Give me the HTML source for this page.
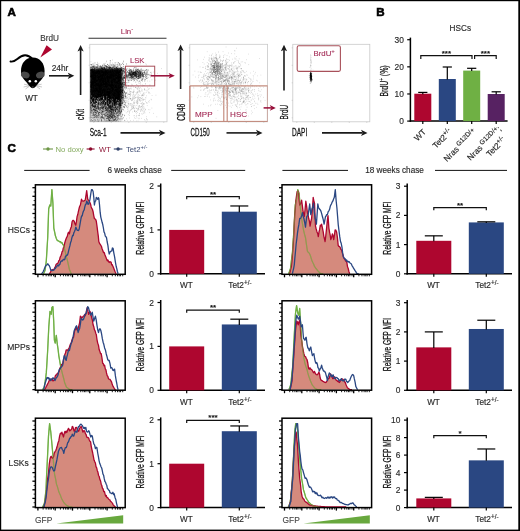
<!DOCTYPE html>
<html lang="en"><head><meta charset="utf-8"><title>Figure</title>
<style>
html,body{margin:0;padding:0;background:#fff;}
body{width:520px;height:531px;overflow:hidden;font-family:"Liberation Sans",Arial,Helvetica,sans-serif;}
svg{display:block;}
text{font-family:"Liberation Sans",Arial,Helvetica,sans-serif;}
</style></head><body>
<svg width="520" height="531" viewBox="0 0 520 531" font-family="Liberation Sans, Arial, Helvetica, sans-serif">
<rect x="0" y="0" width="520" height="531" fill="#fff"/>
<text transform="translate(7.60,16.20)" font-size="11.6" text-anchor="start" fill="#000" font-weight="bold" stroke="#000" stroke-width="0.6" >A</text>
<g>
<path d="M10.5,61.5 C16,63 18,55.5 25,55.3 C29,55.2 31,57.5 33,59.5" fill="none" stroke="#000" stroke-width="1.9" stroke-linecap="round"/>
<path d="M32.8,57.6 C40,57.6 44.6,63.5 44.6,71 C44.6,77 41,80 38.5,83 C36.5,85.5 35,88.3 32.8,88.3 C30.6,88.3 29.1,85.5 27.1,83 C24.6,80 21,77 21,71 C21,63.5 25.6,57.6 32.8,57.6 Z" fill="#000"/>
<ellipse cx="25.3" cy="75" rx="4.4" ry="3.3" fill="#4a4a4a" transform="rotate(20 25.3 75)"/>
<ellipse cx="40.3" cy="75" rx="4.4" ry="3.3" fill="#4a4a4a" transform="rotate(-20 40.3 75)"/>
<circle cx="29.8" cy="81.3" r="1.25" fill="#fff"/>
<circle cx="35.8" cy="81.3" r="1.25" fill="#fff"/>
<path d="M29,85.2 L24,84.2 M29,85.8 L23.6,87 M29.2,86.4 L25.5,89 M36.6,85.2 L41.6,84.2 M36.6,85.8 L42,87 M36.4,86.4 L40.1,89" stroke="#777" stroke-width="0.4" fill="none"/>
<ellipse cx="32.8" cy="87" rx="1.1" ry="0.7" fill="#444"/>
</g>
<text transform="translate(49.60,41.00)" font-size="8.2" text-anchor="middle" fill="#3a3a3a" stroke="#3a3a3a" stroke-width="0.15" >BrdU</text>
<path d="M46.6,45.2 L52,49.5 L40.3,57.6 Z" fill="#ae062f"/>
<text transform="translate(60.00,71.40)" font-size="8.4" text-anchor="middle" fill="#2b2b2b" stroke="#2b2b2b" stroke-width="0.15" >24hr</text>
<line x1="49.00" y1="75.80" x2="69.30" y2="75.80" stroke="#1a1a1a" stroke-width="1.6" />
<path d="M74.30,75.80 L67.80,72.70 L69.40,75.80 L67.80,78.90 Z" fill="#1a1a1a"/>
<text transform="translate(31.50,101.40)" font-size="8.2" text-anchor="middle" fill="#2b2b2b" stroke="#2b2b2b" stroke-width="0.15" >WT</text>
<text transform="translate(127.00,34.00)" font-size="7.8" text-anchor="middle" fill="#a32a55" stroke="#a32a55" stroke-width="0.1" >Lin<tspan font-size="6" dy="-3">-</tspan></text>
<line x1="88.50" y1="38.20" x2="166.50" y2="38.20" stroke="#333" stroke-width="1.1" />
<rect x="89.80" y="44.30" width="77.20" height="77.50" fill="#fff" stroke="#c9c9c9" stroke-width="0.8" />
<rect x="189.80" y="44.30" width="77.80" height="77.50" fill="#fff" stroke="#c9c9c9" stroke-width="0.8" />
<rect x="292.80" y="44.30" width="77.00" height="77.50" fill="#fff" stroke="#c9c9c9" stroke-width="0.8" />
<defs><filter id="bl" x="-20%" y="-20%" width="140%" height="140%"><feGaussianBlur stdDeviation="1.3"/></filter><linearGradient id="g1" x1="0" y1="0" x2="0" y2="1"><stop offset="0" stop-color="#000" stop-opacity="0.95"/><stop offset="0.58" stop-color="#000" stop-opacity="0.93"/><stop offset="0.8" stop-color="#000" stop-opacity="0.6"/><stop offset="1" stop-color="#000" stop-opacity="0.42"/></linearGradient><clipPath id="c1"><rect x="90.2" y="45.2" width="76.4" height="76.2"/></clipPath></defs>
<g clip-path="url(#c1)">
<path d="M88,68.8 L122.3,68.6 L122.6,97 L119.5,123 L88,123 Z" fill="url(#g1)" filter="url(#bl)"/>
<path d="M115.1,75.7h0.62M99.2,87.1h0.62M102.2,93.8h0.62M121.9,103.2h0.62M108.9,107.1h0.62M101.4,94.4h0.62M100.4,97.0h0.62M110.3,70.2h0.62M115.0,75.0h0.62M96.7,81.1h0.62M114.6,74.2h0.62M91.7,70.2h0.62M110.7,112.2h0.62M108.8,91.8h0.62M115.3,85.6h0.62M110.7,68.0h0.62M110.0,97.3h0.62M100.1,100.9h0.62M90.8,87.1h0.62M117.8,107.0h0.62M98.3,101.4h0.62M105.0,106.1h0.62M90.4,86.3h0.62M96.4,92.4h0.62M100.9,88.3h0.62M110.5,102.7h0.62M115.7,101.4h0.62M119.7,71.7h0.62M93.9,74.3h0.62M111.8,65.8h0.62M110.5,115.6h0.62M104.6,78.9h0.62M92.7,80.6h0.62M105.7,107.8h0.62M96.3,70.2h0.62M105.4,72.4h0.62M115.6,74.8h0.62M117.2,107.2h0.62M96.3,89.3h0.62M107.8,108.6h0.62M106.3,105.9h0.62M94.1,68.4h0.62M98.8,117.3h0.62M102.2,104.8h0.62M116.6,82.5h0.62M95.5,98.5h0.62M112.9,114.5h0.62M97.9,111.4h0.62M97.5,83.4h0.62M115.8,97.2h0.62M112.9,95.4h0.62M106.6,98.9h0.62M99.8,66.9h0.62M91.8,89.0h0.62M91.3,77.7h0.62M105.1,86.4h0.62M116.4,99.1h0.62M111.1,108.6h0.62M113.7,79.4h0.62M117.4,69.3h0.62M104.4,68.8h0.62M110.9,119.6h0.62M96.3,69.6h0.62M90.5,110.3h0.62M120.2,75.3h0.62M95.7,81.8h0.62M90.9,81.1h0.62M115.2,99.2h0.62M121.8,118.4h0.62M110.7,104.3h0.62M119.1,80.3h0.62M99.3,97.7h0.62M98.2,105.9h0.62M104.7,73.2h0.62M104.0,73.9h0.62M113.1,92.6h0.62M103.8,89.1h0.62M107.9,76.7h0.62M110.8,90.1h0.62M111.0,92.2h0.62M113.4,75.5h0.62M107.2,95.8h0.62M106.6,91.9h0.62M93.0,99.4h0.62M107.4,104.0h0.62M110.9,68.5h0.62M100.3,71.2h0.62M117.2,98.1h0.62M115.3,76.7h0.62M103.5,83.6h0.62M106.1,116.0h0.62M92.3,79.5h0.62M98.8,111.9h0.62M94.8,101.8h0.62M114.3,79.0h0.62M113.9,95.2h0.62M102.5,84.4h0.62M108.8,98.2h0.62M115.5,68.7h0.62M97.6,85.4h0.62M106.6,81.7h0.62M94.8,86.4h0.62M122.1,83.3h0.62M111.1,83.8h0.62M92.2,78.5h0.62M100.3,91.5h0.62M91.8,83.3h0.62M113.7,78.0h0.62M96.9,73.8h0.62M117.2,88.7h0.62M91.1,97.0h0.62M102.6,112.8h0.62M111.7,104.7h0.62M122.5,94.8h0.62M116.4,77.7h0.62M114.5,95.8h0.62M97.9,77.4h0.62M113.1,113.3h0.62M91.9,73.9h0.62M92.3,106.9h0.62M103.7,72.4h0.62M102.9,79.7h0.62M122.0,115.1h0.62M102.8,83.0h0.62M121.9,74.0h0.62M95.4,75.5h0.62M98.1,115.6h0.62M115.7,67.5h0.62M114.5,87.4h0.62M94.1,86.0h0.62M116.5,120.6h0.62M103.3,99.6h0.62M119.0,88.9h0.62M91.4,84.4h0.62M98.8,84.3h0.62M112.7,109.1h0.62M105.4,68.7h0.62M100.3,75.3h0.62M116.4,70.6h0.62M105.4,113.2h0.62M123.3,96.7h0.62M105.3,84.2h0.62M105.1,78.4h0.62M111.7,84.1h0.62M98.8,115.0h0.62M100.1,95.5h0.62M108.5,94.5h0.62M93.5,79.1h0.62M102.2,90.4h0.62M120.6,76.2h0.62M95.6,97.6h0.62M93.5,69.5h0.62M102.5,102.7h0.62M97.7,89.9h0.62M107.6,93.1h0.62M105.2,84.4h0.62M119.2,83.8h0.62M123.1,83.2h0.62M117.1,64.9h0.62M105.0,74.0h0.62M92.8,86.0h0.62M110.9,87.1h0.62M120.4,70.8h0.62M100.9,74.6h0.62M111.6,99.8h0.62M120.0,92.3h0.62M118.9,91.7h0.62M123.8,69.7h0.62M121.2,69.5h0.62M106.0,86.7h0.62M115.8,116.5h0.62M120.5,74.6h0.62M118.9,105.8h0.62M108.0,93.4h0.62M91.6,80.3h0.62M123.8,71.7h0.62M111.8,114.2h0.62M105.7,91.7h0.62M112.1,91.0h0.62M118.9,97.5h0.62M105.4,90.3h0.62M105.7,105.2h0.62M95.8,115.7h0.62M120.5,90.0h0.62M96.2,119.0h0.62M93.9,117.8h0.62M94.9,76.9h0.62M113.1,105.0h0.62M108.0,99.3h0.62M120.1,67.1h0.62M97.9,105.8h0.62M98.9,71.4h0.62M120.8,97.0h0.62M93.0,85.6h0.62M109.1,97.7h0.62M91.6,67.2h0.62M102.7,78.0h0.62M118.9,99.3h0.62M108.4,74.4h0.62M92.6,71.0h0.62M105.9,94.2h0.62M99.3,94.4h0.62M91.6,107.2h0.62M110.3,101.9h0.62M95.2,95.9h0.62M97.3,109.9h0.62M109.5,83.4h0.62M116.9,90.3h0.62M100.9,97.2h0.62M111.2,69.4h0.62M101.5,72.3h0.62M110.8,71.2h0.62M115.3,109.2h0.62M111.6,120.9h0.62M95.7,80.2h0.62M99.5,86.6h0.62M110.0,99.0h0.62M91.9,110.0h0.62M102.8,116.4h0.62M114.1,99.6h0.62M92.9,112.0h0.62M99.7,84.7h0.62M108.8,96.2h0.62M125.3,93.7h0.62M120.5,87.1h0.62M117.4,103.5h0.62M102.3,81.4h0.62M103.4,84.0h0.62M96.5,83.6h0.62M110.7,85.8h0.62M93.9,70.7h0.62M113.1,64.8h0.62M101.5,90.5h0.62M118.2,98.1h0.62M115.9,118.1h0.62M107.5,73.9h0.62M106.8,116.6h0.62M117.8,114.8h0.62M103.6,96.8h0.62M116.9,76.1h0.62M112.2,109.8h0.62M120.8,100.4h0.62M92.9,87.0h0.62M119.2,91.5h0.62M111.1,72.8h0.62M112.5,92.3h0.62M108.3,94.8h0.62M115.4,97.8h0.62M112.2,111.1h0.62M93.2,110.9h0.62M113.9,109.7h0.62M112.3,91.0h0.62M117.2,90.1h0.62M115.8,68.2h0.62M106.4,102.0h0.62M105.4,89.9h0.62M108.8,118.6h0.62M110.3,100.7h0.62M103.7,84.3h0.62M105.4,89.1h0.62M91.7,90.8h0.62M113.3,108.4h0.62M116.7,108.2h0.62M117.2,83.6h0.62M107.0,75.6h0.62M97.6,99.9h0.62M101.9,79.4h0.62M107.4,79.3h0.62M104.3,67.5h0.62M108.1,87.9h0.62M93.2,120.6h0.62M102.7,105.7h0.62M109.9,66.8h0.62M98.2,95.8h0.62M107.0,81.2h0.62M109.1,71.9h0.62M120.8,78.4h0.62M108.5,67.1h0.62M105.1,85.0h0.62M102.9,104.9h0.62M118.3,103.2h0.62M108.0,78.0h0.62M92.8,74.1h0.62M117.4,96.9h0.62M115.8,93.6h0.62M105.3,84.9h0.62M115.6,91.4h0.62M109.2,73.8h0.62M111.1,79.2h0.62M115.4,89.5h0.62M98.4,79.9h0.62M101.8,68.7h0.62M102.4,116.2h0.62M93.0,67.7h0.62M107.1,89.8h0.62M120.9,81.2h0.62M118.5,81.1h0.62M98.1,72.3h0.62M95.7,93.0h0.62M120.8,74.5h0.62M116.4,98.7h0.62M107.7,95.3h0.62M109.7,77.9h0.62M95.9,97.0h0.62M107.8,104.2h0.62M115.7,104.1h0.62M95.7,84.4h0.62M97.2,80.4h0.62M101.5,67.8h0.62M97.6,86.0h0.62M96.9,93.7h0.62M108.5,81.7h0.62M96.8,97.5h0.62M101.0,68.3h0.62M121.8,68.5h0.62M97.6,96.0h0.62M114.8,101.3h0.62M106.4,120.0h0.62M106.9,102.9h0.62M122.7,97.5h0.62M96.7,97.1h0.62M125.8,82.7h0.62M116.8,98.4h0.62M116.6,78.5h0.62M114.1,70.3h0.62M98.8,87.7h0.62M94.8,84.4h0.62M114.6,108.4h0.62M116.7,82.6h0.62M117.2,118.0h0.62M112.9,79.4h0.62M114.4,102.8h0.62M103.6,118.1h0.62M91.0,83.0h0.62M119.0,101.7h0.62M107.0,95.1h0.62M120.3,77.0h0.62M93.4,78.8h0.62M95.5,107.0h0.62M102.4,92.0h0.62M106.3,105.0h0.62M90.4,91.3h0.62M100.0,108.3h0.62M98.7,88.4h0.62M100.9,104.0h0.62M101.0,83.4h0.62M95.4,97.2h0.62M95.0,97.7h0.62M110.8,75.0h0.62M91.7,99.0h0.62M112.1,82.7h0.62M123.9,82.4h0.62M101.2,103.8h0.62M114.4,111.5h0.62M115.3,107.7h0.62M108.4,81.4h0.62M101.9,90.1h0.62M120.4,71.3h0.62M115.5,72.7h0.62M119.7,103.8h0.62M105.3,115.7h0.62M119.1,68.6h0.62M118.0,76.9h0.62M91.4,102.1h0.62M118.6,83.6h0.62M101.4,105.6h0.62M108.9,89.2h0.62M124.4,78.0h0.62M108.1,82.3h0.62M93.4,83.3h0.62M99.0,112.5h0.62M101.1,80.3h0.62M97.2,94.4h0.62M92.8,110.5h0.62M98.8,82.7h0.62M119.6,82.7h0.62M110.4,93.4h0.62M95.3,78.4h0.62M109.1,77.2h0.62M92.9,82.2h0.62M113.9,90.6h0.62M90.5,73.4h0.62M111.0,85.8h0.62M104.9,103.4h0.62M100.8,69.1h0.62M108.9,77.6h0.62M103.0,94.6h0.62M92.0,76.1h0.62M105.9,83.3h0.62M96.4,113.0h0.62M112.8,77.1h0.62M113.3,94.7h0.62M116.0,67.4h0.62M103.1,74.0h0.62M122.2,87.4h0.62M112.2,84.4h0.62M113.4,86.1h0.62M109.8,73.9h0.62M114.9,71.9h0.62M122.7,99.7h0.62M95.7,77.3h0.62M111.9,97.9h0.62M119.4,70.6h0.62M106.3,113.7h0.62M101.0,82.7h0.62M105.1,101.7h0.62M111.8,106.0h0.62M117.6,88.7h0.62M112.5,93.0h0.62M122.8,93.2h0.62M100.2,81.6h0.62M97.2,69.4h0.62M108.9,94.1h0.62M93.1,88.6h0.62M97.1,72.0h0.62M109.6,100.9h0.62M111.1,74.8h0.62M107.7,72.9h0.62M104.3,84.1h0.62M120.1,71.2h0.62M94.9,97.3h0.62M122.4,78.1h0.62M96.7,94.0h0.62M110.5,85.0h0.62M95.8,81.3h0.62M92.4,109.0h0.62M108.8,92.2h0.62M113.6,91.5h0.62M101.5,101.6h0.62M91.6,75.8h0.62M120.3,72.8h0.62M120.3,89.5h0.62M106.4,82.9h0.62M102.6,73.9h0.62M119.5,113.5h0.62M95.8,72.9h0.62M107.7,77.8h0.62M114.2,103.6h0.62M118.6,110.6h0.62M95.5,98.2h0.62M95.4,72.6h0.62M94.0,96.0h0.62M91.6,105.6h0.62M114.6,79.8h0.62M112.9,74.1h0.62M112.7,87.2h0.62M119.6,102.7h0.62M117.2,110.4h0.62M96.5,76.0h0.62M106.6,84.7h0.62M121.4,68.7h0.62M100.9,95.6h0.62M108.3,71.7h0.62M105.1,115.6h0.62M106.4,117.0h0.62M105.2,79.8h0.62M109.0,91.8h0.62M108.1,94.1h0.62M105.6,101.5h0.62M107.5,78.1h0.62M95.9,76.4h0.62M92.7,85.3h0.62M117.0,82.4h0.62M99.4,98.8h0.62M101.3,93.7h0.62M102.4,77.3h0.62M105.2,98.6h0.62M103.1,98.0h0.62M115.6,88.2h0.62M97.7,107.3h0.62M118.0,93.5h0.62M120.3,80.5h0.62M102.1,108.1h0.62M115.6,115.8h0.62M113.2,66.1h0.62M104.1,97.8h0.62M114.5,84.4h0.62M96.4,117.9h0.62M93.5,82.7h0.62M98.3,96.3h0.62M98.3,113.8h0.62M128.0,85.7h0.62M111.0,81.3h0.62M103.6,101.5h0.62M103.3,75.9h0.62M90.5,92.1h0.62M91.7,83.9h0.62M112.1,110.2h0.62M93.3,78.0h0.62M98.3,74.5h0.62M103.5,107.6h0.62M93.1,106.4h0.62M91.5,103.1h0.62M90.7,72.6h0.62M100.0,90.1h0.62M94.0,75.5h0.62M91.4,87.1h0.62M99.0,72.6h0.62M95.3,99.6h0.62M115.4,111.5h0.62M94.3,75.4h0.62M96.5,106.2h0.62M103.6,67.9h0.62M103.5,99.2h0.62M93.7,65.8h0.62M121.9,88.5h0.62M117.2,89.7h0.62M114.8,110.4h0.62M94.3,105.3h0.62M100.6,108.5h0.62M113.5,100.0h0.62M122.7,102.6h0.62M115.7,95.0h0.62M110.9,98.2h0.62M95.4,88.3h0.62M117.8,79.4h0.62M122.5,92.4h0.62M108.3,103.2h0.62M97.3,65.8h0.62M91.7,76.9h0.62M124.1,101.3h0.62M100.0,93.0h0.62M102.7,69.4h0.62M90.6,74.8h0.62M107.9,92.9h0.62M118.6,96.5h0.62M110.3,107.0h0.62M102.9,95.9h0.62M101.4,102.7h0.62M94.1,98.0h0.62M110.6,112.5h0.62M110.3,75.1h0.62M95.3,98.3h0.62M96.3,86.9h0.62M119.3,104.5h0.62M113.2,80.3h0.62M98.6,68.3h0.62M122.8,82.5h0.62M98.0,83.3h0.62M109.0,110.5h0.62M111.7,80.8h0.62M92.6,66.3h0.62M107.3,101.8h0.62M116.5,75.2h0.62M92.6,91.0h0.62M100.3,74.7h0.62M91.0,98.7h0.62M105.4,77.1h0.62M110.3,98.3h0.62M116.4,104.7h0.62M97.2,77.7h0.62M109.9,118.0h0.62M101.7,66.8h0.62M103.6,82.7h0.62M111.8,104.0h0.62M104.2,65.9h0.62M93.1,109.3h0.62M100.6,85.0h0.62M115.0,91.4h0.62M115.0,97.8h0.62M98.3,121.0h0.62M110.9,100.2h0.62M101.8,95.6h0.62M95.3,103.4h0.62M95.4,86.7h0.62M95.9,73.2h0.62M90.8,92.4h0.62M100.8,79.2h0.62M95.6,67.7h0.62M97.8,85.8h0.62M113.5,97.1h0.62M107.1,91.7h0.62M107.3,83.6h0.62M98.5,94.1h0.62M116.7,90.9h0.62M106.1,102.3h0.62M100.1,99.9h0.62M118.8,74.8h0.62M102.6,104.7h0.62M125.8,87.9h0.62M105.9,99.3h0.62M110.4,101.2h0.62M117.0,71.5h0.62M95.7,110.8h0.62M91.5,83.2h0.62M90.9,77.0h0.62M98.8,80.8h0.62M109.0,66.8h0.62M102.9,82.4h0.62M112.6,75.5h0.62M95.8,95.9h0.62M111.8,75.5h0.62M115.3,101.4h0.62M107.3,101.7h0.62M105.8,87.8h0.62M110.6,86.2h0.62M94.8,75.4h0.62M112.7,89.8h0.62M120.7,92.4h0.62M100.5,94.2h0.62M118.9,85.7h0.62M107.1,79.9h0.62M106.8,92.7h0.62M115.7,87.0h0.62M110.8,81.7h0.62M125.0,105.1h0.62M108.9,98.9h0.62M108.8,103.9h0.62M101.6,109.9h0.62M102.9,82.9h0.62M117.9,71.5h0.62M106.6,80.1h0.62M93.2,99.6h0.62M110.0,111.9h0.62M92.3,113.5h0.62M97.7,83.1h0.62M104.9,90.1h0.62M102.4,98.2h0.62M114.2,108.8h0.62M103.4,86.7h0.62M105.1,84.3h0.62M95.0,88.5h0.62M116.2,72.3h0.62M102.0,92.9h0.62M101.8,79.1h0.62M93.6,75.7h0.62M120.1,99.8h0.62M108.1,105.0h0.62M96.2,83.7h0.62M110.7,92.6h0.62M102.1,81.6h0.62M112.1,91.0h0.62M113.8,85.3h0.62M108.6,96.3h0.62M113.4,108.6h0.62M92.6,101.5h0.62M118.7,94.7h0.62M98.1,84.2h0.62M100.9,104.0h0.62M103.2,85.8h0.62M90.8,67.7h0.62M104.7,98.0h0.62M122.8,80.3h0.62M112.1,80.2h0.62M110.6,68.9h0.62M120.5,87.3h0.62M116.3,73.0h0.62M108.7,78.2h0.62M114.0,92.0h0.62M107.8,68.7h0.62M105.6,70.9h0.62M113.6,90.8h0.62M106.5,78.5h0.62M114.7,70.7h0.62M109.0,93.0h0.62M109.6,100.2h0.62M101.5,89.7h0.62M95.4,84.9h0.62M102.1,68.7h0.62M114.5,100.5h0.62M110.5,85.8h0.62M93.8,67.7h0.62M121.5,75.8h0.62M92.9,86.9h0.62M95.4,82.4h0.62M109.4,105.9h0.62M95.3,85.7h0.62M110.1,88.8h0.62M96.7,89.8h0.62M109.3,116.9h0.62M109.8,121.1h0.62M93.7,82.2h0.62M110.6,70.9h0.62M100.7,77.4h0.62M112.4,103.4h0.62M103.0,98.0h0.62M93.7,79.2h0.62M98.5,85.6h0.62M93.6,105.0h0.62M118.6,75.4h0.62M101.9,74.7h0.62M100.5,84.7h0.62M105.7,110.8h0.62M92.7,100.7h0.62M118.2,80.9h0.62M118.7,85.2h0.62M124.6,77.0h0.62M104.5,108.8h0.62M94.2,109.5h0.62M119.2,80.0h0.62M105.6,91.3h0.62M112.5,68.5h0.62M111.0,109.6h0.62M101.6,117.4h0.62M103.3,75.4h0.62M95.3,80.3h0.62M97.7,90.7h0.62M90.7,72.7h0.62M117.0,68.5h0.62M119.4,82.5h0.62M92.0,72.3h0.62M110.1,107.9h0.62M110.3,89.1h0.62M114.8,111.4h0.62M92.1,69.6h0.62M99.7,90.1h0.62M95.2,78.8h0.62M111.5,108.1h0.62M92.3,99.0h0.62M106.6,86.7h0.62M118.8,74.8h0.62M104.1,72.7h0.62M93.3,110.0h0.62M121.1,87.5h0.62M97.3,73.5h0.62M108.6,79.0h0.62M111.0,105.7h0.62M114.7,101.0h0.62M117.6,73.1h0.62M108.8,88.3h0.62M106.7,76.9h0.62M104.8,97.3h0.62M109.9,108.2h0.62M101.5,87.9h0.62M99.9,94.4h0.62M104.0,76.5h0.62M114.9,101.8h0.62M104.6,100.8h0.62M112.3,108.0h0.62M107.9,101.8h0.62M116.1,110.5h0.62M95.8,90.8h0.62M116.7,80.9h0.62M121.9,70.5h0.62M115.5,90.3h0.62M103.3,82.2h0.62M118.4,118.4h0.62M100.8,80.3h0.62M110.5,71.4h0.62M117.4,92.8h0.62M98.3,73.6h0.62M92.7,98.5h0.62M122.4,82.5h0.62M116.7,102.1h0.62M93.6,94.6h0.62M113.2,82.0h0.62M114.8,82.7h0.62M108.0,97.1h0.62M99.2,107.9h0.62M108.7,111.8h0.62M119.9,92.6h0.62M104.8,75.8h0.62M93.8,104.9h0.62M111.8,70.1h0.62M92.6,85.9h0.62M120.9,84.3h0.62M105.4,110.7h0.62M103.1,105.1h0.62M109.7,71.1h0.62M111.4,69.5h0.62M115.6,106.7h0.62M105.5,85.4h0.62M117.2,76.6h0.62M104.0,93.9h0.62M114.4,87.7h0.62M108.5,88.6h0.62M112.6,98.1h0.62M110.1,114.5h0.62M99.0,89.8h0.62M105.6,83.2h0.62M94.5,78.1h0.62M95.3,79.1h0.62M95.2,67.8h0.62M109.9,85.1h0.62M95.0,82.6h0.62M118.6,75.1h0.62M121.7,83.4h0.62M95.9,88.2h0.62M113.3,69.6h0.62M107.5,85.2h0.62M101.7,114.8h0.62M119.9,71.6h0.62M95.6,99.4h0.62M101.9,68.7h0.62M122.8,91.0h0.62M114.6,75.9h0.62M124.9,96.1h0.62M119.7,77.1h0.62M115.9,99.3h0.62M99.1,80.7h0.62M105.0,73.3h0.62M115.1,79.7h0.62M102.3,85.6h0.62M106.0,96.8h0.62M91.2,76.0h0.62M118.0,98.2h0.62M99.6,73.3h0.62M116.5,108.4h0.62M117.0,70.7h0.62M108.7,85.7h0.62M97.8,120.9h0.62M106.3,74.3h0.62M119.9,69.0h0.62M97.8,76.9h0.62M93.9,92.6h0.62M122.1,92.6h0.62M97.7,75.8h0.62M123.0,89.1h0.62M118.0,73.2h0.62M123.3,78.6h0.62M110.8,106.0h0.62M103.7,75.0h0.62M103.3,79.4h0.62M96.5,105.1h0.62M109.8,87.3h0.62M104.9,81.3h0.62M117.4,107.8h0.62M117.3,70.8h0.62M98.9,77.5h0.62M93.7,66.3h0.62M120.4,84.4h0.62M110.5,67.6h0.62M122.0,92.6h0.62M107.8,92.0h0.62M104.3,86.8h0.62M110.4,77.2h0.62M98.0,78.9h0.62M102.5,72.5h0.62M102.4,76.1h0.62M99.4,114.8h0.62M116.0,86.1h0.62M107.3,75.6h0.62M98.1,95.3h0.62M104.2,103.9h0.62M111.6,84.6h0.62M118.9,70.4h0.62M96.1,88.5h0.62M96.6,111.0h0.62M91.9,70.2h0.62M97.8,95.1h0.62M94.3,113.0h0.62M116.2,81.1h0.62M108.6,101.6h0.62M90.8,98.8h0.62M100.5,71.2h0.62M121.3,91.2h0.62M111.6,85.3h0.62M93.0,115.3h0.62M109.9,86.5h0.62M99.6,91.4h0.62M94.4,113.2h0.62M98.0,92.0h0.62M100.2,84.1h0.62M119.9,78.5h0.62M118.0,104.0h0.62M102.8,90.5h0.62M107.8,93.5h0.62M93.3,81.5h0.62M109.3,89.1h0.62M117.1,97.4h0.62M115.9,82.2h0.62M94.5,80.3h0.62M97.5,77.4h0.62M101.5,101.5h0.62M117.4,96.2h0.62M91.6,69.5h0.62M102.1,78.0h0.62M122.2,71.1h0.62M113.9,75.5h0.62M104.1,94.2h0.62M104.4,86.6h0.62M115.4,82.5h0.62M103.8,91.4h0.62M97.9,79.0h0.62M90.4,70.5h0.62M95.8,78.3h0.62M115.1,100.7h0.62M93.1,96.6h0.62M104.8,103.6h0.62M116.5,95.2h0.62M92.9,71.6h0.62M106.2,99.3h0.62M117.6,89.2h0.62M108.2,69.9h0.62M97.8,102.7h0.62M108.8,80.3h0.62M118.8,95.8h0.62M111.5,103.6h0.62M93.5,91.3h0.62M99.7,75.6h0.62M92.8,66.9h0.62M106.8,72.2h0.62M103.1,107.8h0.62M91.1,82.8h0.62M94.4,69.3h0.62M111.5,107.5h0.62M107.7,70.6h0.62M100.9,116.0h0.62M99.1,76.8h0.62M103.1,89.3h0.62M91.3,89.8h0.62M125.5,96.8h0.62M102.2,116.8h0.62M116.4,85.0h0.62M124.4,115.7h0.62M122.0,73.4h0.62M109.7,86.3h0.62M108.6,91.9h0.62M100.8,112.3h0.62M109.4,69.5h0.62M103.6,76.2h0.62M120.8,93.4h0.62M95.9,83.2h0.62M105.5,83.2h0.62M108.7,117.2h0.62M105.1,95.7h0.62M90.4,91.7h0.62M93.4,73.5h0.62M102.8,71.2h0.62M103.1,81.4h0.62M90.5,84.9h0.62M115.3,98.3h0.62M112.5,104.0h0.62M99.1,110.6h0.62M96.7,83.4h0.62M98.9,91.4h0.62M105.4,111.1h0.62M103.4,98.6h0.62M108.1,98.0h0.62M101.7,91.3h0.62M105.6,85.2h0.62M103.5,78.2h0.62M105.3,83.1h0.62M110.0,89.2h0.62M98.1,73.5h0.62M108.5,84.9h0.62M120.2,105.6h0.62M118.1,94.0h0.62M100.4,75.9h0.62M95.1,89.2h0.62M106.1,79.9h0.62M91.1,69.5h0.62M116.4,99.1h0.62M120.0,71.0h0.62M95.4,74.2h0.62M115.8,114.5h0.62M91.7,77.9h0.62M100.9,91.0h0.62M111.7,93.7h0.62M104.0,94.9h0.62M116.3,83.2h0.62M117.5,97.7h0.62M118.4,114.2h0.62M119.5,94.7h0.62M119.0,76.7h0.62M113.2,67.5h0.62M101.1,75.8h0.62M107.5,92.4h0.62M110.8,73.8h0.62M110.9,108.3h0.62M100.1,92.3h0.62M100.8,86.3h0.62M104.7,86.3h0.62M121.3,74.7h0.62M107.7,93.0h0.62M91.8,74.3h0.62M108.3,79.8h0.62M98.3,91.3h0.62M90.8,98.9h0.62M111.6,81.9h0.62M92.4,69.1h0.62M97.7,87.9h0.62M105.1,80.7h0.62M96.9,71.6h0.62M116.6,101.5h0.62M117.1,115.9h0.62M91.0,83.5h0.62M99.4,99.2h0.62M110.7,118.6h0.62M118.2,90.6h0.62M105.6,91.9h0.62M108.1,100.2h0.62M101.0,85.5h0.62M99.3,90.2h0.62M92.2,94.9h0.62M106.8,107.4h0.62M116.1,96.6h0.62M96.4,98.1h0.62M98.1,76.6h0.62M98.3,96.3h0.62M119.3,91.0h0.62M94.0,107.4h0.62M110.1,84.2h0.62M109.3,105.8h0.62M121.3,70.3h0.62M108.7,107.8h0.62M110.0,116.5h0.62M109.6,106.7h0.62M108.3,104.3h0.62M106.4,76.9h0.62M96.7,67.4h0.62M102.0,117.5h0.62M100.8,85.9h0.62M100.2,115.3h0.62M102.7,105.3h0.62M99.8,94.5h0.62M105.1,70.0h0.62M110.2,72.5h0.62M117.1,117.0h0.62M108.2,74.0h0.62M93.0,110.5h0.62M98.4,109.0h0.62M116.6,96.2h0.62M101.4,75.1h0.62M114.0,68.1h0.62M94.4,80.9h0.62M105.9,81.6h0.62M99.6,77.3h0.62M91.6,75.3h0.62M108.2,81.2h0.62M92.8,83.3h0.62M90.6,98.5h0.62M103.2,69.5h0.62M110.1,90.3h0.62M117.6,77.9h0.62M103.3,109.8h0.62M114.9,83.3h0.62M124.8,77.5h0.62M99.5,69.2h0.62M103.9,90.2h0.62M98.1,116.0h0.62M103.9,69.2h0.62M108.5,102.6h0.62M90.6,103.8h0.62M94.1,112.2h0.62M96.0,90.1h0.62M113.8,101.3h0.62M112.4,79.1h0.62M102.5,115.6h0.62M105.6,73.3h0.62M99.9,83.6h0.62M101.9,111.2h0.62M97.3,90.8h0.62M104.6,110.1h0.62M117.8,111.2h0.62M109.8,107.5h0.62M101.4,113.9h0.62M104.2,84.0h0.62M94.8,87.8h0.62M119.4,106.1h0.62M118.5,119.2h0.62M101.4,71.1h0.62M111.0,116.9h0.62M93.6,89.2h0.62M107.7,107.5h0.62M118.9,98.4h0.62M91.0,92.5h0.62M100.1,80.7h0.62M101.9,98.2h0.62M103.5,91.0h0.62M108.7,102.5h0.62M104.5,107.5h0.62M122.3,72.5h0.62M108.9,78.7h0.62M105.6,95.6h0.62M115.7,94.2h0.62M103.5,117.4h0.62M111.6,78.3h0.62M91.8,98.0h0.62M107.5,93.8h0.62M118.6,94.4h0.62M117.9,106.2h0.62M101.0,88.7h0.62M106.6,95.3h0.62M103.6,80.0h0.62M90.5,84.6h0.62M103.5,102.4h0.62M94.6,114.1h0.62M112.9,76.7h0.62M101.6,72.0h0.62M120.2,83.9h0.62M109.0,69.0h0.62M114.0,109.9h0.62M107.1,73.0h0.62M110.9,88.1h0.62M117.6,86.7h0.62M93.7,79.1h0.62M100.0,80.9h0.62M120.5,76.6h0.62M115.3,85.8h0.62M93.8,118.0h0.62M111.2,72.8h0.62M119.8,84.5h0.62M114.2,100.7h0.62M113.0,76.6h0.62M112.3,110.6h0.62M119.6,75.4h0.62M92.9,86.7h0.62M120.9,69.9h0.62M108.7,68.0h0.62M120.1,77.9h0.62M102.1,99.7h0.62M108.9,68.3h0.62M101.9,76.2h0.62M109.7,101.8h0.62M101.0,105.8h0.62M100.0,87.6h0.62M112.3,82.4h0.62M116.3,106.8h0.62M125.2,102.8h0.62M115.5,89.2h0.62M105.6,97.2h0.62M109.3,68.1h0.62M95.4,77.8h0.62M96.9,90.7h0.62M102.4,118.8h0.62M113.5,71.2h0.62M96.1,108.6h0.62M120.2,83.6h0.62M119.7,94.7h0.62M96.1,73.4h0.62M122.1,90.3h0.62M104.9,93.9h0.62M108.0,100.9h0.62M97.3,118.9h0.62M110.0,74.9h0.62M99.5,111.4h0.62M96.7,96.0h0.62M92.8,82.4h0.62M109.0,120.1h0.62M117.9,104.8h0.62M115.5,93.0h0.62M101.6,70.9h0.62M114.1,94.6h0.62M110.4,97.5h0.62M102.7,109.7h0.62M123.3,86.1h0.62M99.8,86.3h0.62M97.3,109.2h0.62M100.5,67.5h0.62M91.2,102.0h0.62M102.2,81.1h0.62M113.1,85.2h0.62M118.2,73.2h0.62M121.0,91.2h0.62M99.0,89.2h0.62M95.1,88.4h0.62M92.9,85.5h0.62M99.5,86.0h0.62M109.9,91.7h0.62M119.2,104.0h0.62M117.8,81.6h0.62M115.2,87.0h0.62M103.7,91.7h0.62M94.0,115.6h0.62M115.5,101.5h0.62M121.9,92.8h0.62M92.1,84.7h0.62M105.5,103.0h0.62M112.0,94.8h0.62M115.1,115.7h0.62M114.3,89.9h0.62M104.5,68.5h0.62M95.6,75.4h0.62M109.3,89.4h0.62M100.7,93.0h0.62M95.2,101.8h0.62M90.8,87.8h0.62M102.7,100.1h0.62M98.6,83.5h0.62M98.6,70.8h0.62M123.5,71.4h0.62M129.6,71.3h0.62M112.5,93.3h0.62M104.6,86.2h0.62M97.6,121.0h0.62M103.1,106.1h0.62M90.4,99.6h0.62M116.8,72.0h0.62M93.1,82.6h0.62M119.5,72.4h0.62M117.0,78.0h0.62M107.2,121.0h0.62M115.9,89.5h0.62M93.8,94.7h0.62M97.4,97.1h0.62M110.2,106.5h0.62M116.6,109.3h0.62M119.4,72.4h0.62M114.4,80.9h0.62M98.2,99.0h0.62M94.9,82.1h0.62M101.0,113.9h0.62M94.8,93.7h0.62M94.5,78.4h0.62M119.8,71.6h0.62M105.8,83.4h0.62M98.5,106.5h0.62M111.0,105.1h0.62M113.3,81.1h0.62M91.9,69.2h0.62M104.0,70.1h0.62M119.1,74.9h0.62M116.1,73.1h0.62M101.8,92.6h0.62M115.0,85.8h0.62M109.4,110.0h0.62M91.2,84.4h0.62M121.2,98.1h0.62M92.1,70.8h0.62M119.9,73.2h0.62M117.7,75.1h0.62M103.6,97.2h0.62M115.5,118.5h0.62M110.2,100.2h0.62M92.9,76.4h0.62M95.1,82.3h0.62M119.8,77.1h0.62M111.4,76.7h0.62M119.5,119.0h0.62M98.9,111.2h0.62M91.3,120.0h0.62M97.4,89.1h0.62M124.3,91.5h0.62M120.1,89.8h0.62M108.8,90.7h0.62M110.5,91.4h0.62M115.4,96.1h0.62M105.2,91.1h0.62M96.3,95.5h0.62M109.6,102.6h0.62M100.6,90.8h0.62M117.9,69.3h0.62M102.9,84.7h0.62M113.2,109.5h0.62M105.2,102.5h0.62M109.3,92.7h0.62M105.6,86.3h0.62M116.5,73.1h0.62M119.4,106.6h0.62M95.3,112.1h0.62M96.0,84.1h0.62M99.9,75.1h0.62M113.1,94.5h0.62M120.6,83.5h0.62M96.2,80.6h0.62M120.2,80.8h0.62M109.6,71.6h0.62M94.1,99.1h0.62M93.8,73.3h0.62M115.3,109.8h0.62M104.8,77.9h0.62M102.1,92.2h0.62M118.2,86.9h0.62M118.2,93.4h0.62M111.6,64.8h0.62M110.4,86.9h0.62M104.9,80.0h0.62M121.0,89.5h0.62M101.2,70.0h0.62M97.6,99.2h0.62M98.1,95.4h0.62M99.9,87.0h0.62M103.2,72.3h0.62M121.0,85.0h0.62M91.2,75.5h0.62M109.5,89.9h0.62M114.2,98.7h0.62M92.3,92.1h0.62M97.0,84.9h0.62M108.2,84.5h0.62M109.4,120.7h0.62M105.8,104.5h0.62M92.8,73.1h0.62M99.2,71.6h0.62M111.9,73.9h0.62M117.9,83.1h0.62M104.3,103.5h0.62M100.1,89.4h0.62M102.1,84.9h0.62M100.4,73.3h0.62M90.6,83.1h0.62M119.2,76.8h0.62M106.4,73.6h0.62M99.1,83.4h0.62M116.8,82.4h0.62M118.4,80.5h0.62M109.8,76.1h0.62M113.0,87.2h0.62M101.2,84.2h0.62M101.8,72.7h0.62M94.5,98.5h0.62M94.7,79.1h0.62M97.8,91.3h0.62M92.9,94.5h0.62M105.5,99.4h0.62M93.6,72.3h0.62M118.6,88.4h0.62M93.2,89.9h0.62M93.6,115.8h0.62M121.0,78.6h0.62M114.6,93.1h0.62M90.7,70.9h0.62M111.5,92.8h0.62M120.0,82.7h0.62M122.4,74.3h0.62M94.1,90.5h0.62M94.3,68.8h0.62M99.6,86.2h0.62M117.4,93.0h0.62M103.7,95.3h0.62M105.4,105.3h0.62M92.8,97.1h0.62M119.5,90.8h0.62M107.1,72.6h0.62M115.6,98.4h0.62M119.7,87.6h0.62M99.1,98.5h0.62M110.1,108.2h0.62M110.4,88.7h0.62M116.1,75.8h0.62M118.3,95.2h0.62M100.7,84.7h0.62M93.4,92.2h0.62M108.8,105.2h0.62M91.1,117.9h0.62M120.5,121.1h0.62M111.5,108.6h0.62M111.4,116.1h0.62M102.2,92.6h0.62M116.2,91.1h0.62M114.8,95.8h0.62M90.8,97.0h0.62M118.7,91.7h0.62M103.9,90.5h0.62M118.0,108.7h0.62M121.3,67.5h0.62M123.5,80.8h0.62M116.5,84.8h0.62M100.9,79.1h0.62M105.7,117.8h0.62M97.3,77.7h0.62M97.5,98.1h0.62M120.5,101.6h0.62M99.2,88.2h0.62M100.6,86.5h0.62M108.1,72.2h0.62M121.7,119.7h0.62M93.1,95.8h0.62M118.4,91.3h0.62M105.2,92.5h0.62M118.9,81.0h0.62M102.0,92.3h0.62M91.1,97.2h0.62M102.0,80.8h0.62M120.0,105.3h0.62M104.4,67.4h0.62M107.9,89.2h0.62M102.0,98.4h0.62M116.3,77.7h0.62M105.8,83.9h0.62M101.4,72.6h0.62M91.1,90.9h0.62M120.7,105.8h0.62M96.4,116.9h0.62M114.0,87.6h0.62M113.9,103.5h0.62M106.6,75.7h0.62M124.1,82.6h0.62M105.8,72.1h0.62M124.9,95.0h0.62M105.4,69.6h0.62M108.1,72.6h0.62M112.8,119.3h0.62M99.1,77.8h0.62M100.9,93.1h0.62M100.9,109.3h0.62M100.6,99.2h0.62M94.3,88.9h0.62M97.2,92.9h0.62M95.8,90.7h0.62M112.1,75.5h0.62M95.1,115.8h0.62M117.2,72.5h0.62M96.7,114.2h0.62M118.1,77.5h0.62M106.4,70.3h0.62M105.4,79.1h0.62M111.3,120.8h0.62M119.9,84.0h0.62M117.9,92.0h0.62M91.7,113.7h0.62M109.3,70.5h0.62M91.5,87.6h0.62M103.7,78.6h0.62M110.7,114.5h0.62M98.0,71.3h0.62M114.4,70.1h0.62M106.1,118.6h0.62M122.3,86.5h0.62M119.0,77.2h0.62M115.8,101.2h0.62M118.3,79.6h0.62M114.4,103.7h0.62M106.9,110.0h0.62M109.7,116.7h0.62M107.3,94.8h0.62M110.5,117.8h0.62M91.5,103.7h0.62M116.7,100.2h0.62M114.7,119.5h0.62M100.5,98.6h0.62M97.5,84.5h0.62M90.7,72.1h0.62M113.9,105.9h0.62M126.2,92.8h0.62M107.9,94.7h0.62M98.9,77.0h0.62M100.7,80.1h0.62M118.5,81.1h0.62M107.1,91.3h0.62M115.4,97.8h0.62M120.3,73.1h0.62M91.1,119.5h0.62M115.2,103.2h0.62M118.3,99.7h0.62M100.0,89.5h0.62M116.8,94.7h0.62M117.9,100.4h0.62M111.7,86.2h0.62M100.6,85.0h0.62M90.4,76.3h0.62M98.1,98.3h0.62M98.7,85.6h0.62M93.3,77.7h0.62M100.1,116.0h0.62M110.9,91.8h0.62M124.2,107.3h0.62M108.2,95.0h0.62M95.9,89.8h0.62M99.4,102.8h0.62M122.7,73.6h0.62M98.3,96.9h0.62M107.0,69.5h0.62M99.0,71.4h0.62M114.9,95.1h0.62M115.3,90.2h0.62M97.3,90.1h0.62M120.7,70.5h0.62M112.5,75.1h0.62M114.5,120.2h0.62M101.7,112.3h0.62M112.7,85.1h0.62M121.0,70.1h0.62M112.2,88.5h0.62M109.8,69.6h0.62M94.5,105.4h0.62M101.1,98.4h0.62M116.4,104.2h0.62M107.1,113.9h0.62M94.0,120.2h0.62M117.0,71.9h0.62M103.2,84.0h0.62M108.4,89.5h0.62M105.6,102.5h0.62M92.7,82.5h0.62M106.6,118.8h0.62M110.5,91.4h0.62M99.0,72.8h0.62M99.6,91.4h0.62M110.9,85.5h0.62M108.8,83.9h0.62M92.3,96.9h0.62M114.3,68.9h0.62M109.3,93.1h0.62M114.7,104.3h0.62M100.1,79.6h0.62M103.4,98.0h0.62M109.8,96.4h0.62M99.1,98.0h0.62M90.4,89.7h0.62M112.1,111.6h0.62M100.9,96.0h0.62M91.4,85.4h0.62M119.4,96.6h0.62M109.2,97.2h0.62M118.4,72.4h0.62M110.8,74.8h0.62M103.3,72.7h0.62M93.7,80.9h0.62M91.8,66.2h0.62M102.8,80.5h0.62M95.0,78.4h0.62M114.0,83.4h0.62M100.9,94.5h0.62M108.5,82.8h0.62M95.6,120.1h0.62M100.4,70.6h0.62M97.9,71.1h0.62M111.1,117.6h0.62M103.9,87.0h0.62M113.5,117.3h0.62M95.2,74.3h0.62M94.7,96.1h0.62M95.1,97.8h0.62M102.6,71.1h0.62M118.3,81.0h0.62M94.7,72.1h0.62M116.4,78.1h0.62M117.0,95.4h0.62M118.9,80.3h0.62M116.6,70.6h0.62M112.2,67.6h0.62M93.5,75.6h0.62M98.7,105.6h0.62M97.9,86.3h0.62M111.4,95.8h0.62M107.4,98.9h0.62M123.4,85.9h0.62M108.0,85.4h0.62M101.2,88.5h0.62M122.3,79.4h0.62M107.8,114.2h0.62M124.8,71.9h0.62M117.8,83.2h0.62M116.7,70.1h0.62M112.2,69.8h0.62M109.1,91.7h0.62M114.3,92.8h0.62M92.6,88.1h0.62M121.6,116.2h0.62M108.9,110.3h0.62M106.6,114.5h0.62M123.4,106.4h0.62M107.0,71.2h0.62M103.7,91.5h0.62M101.3,103.1h0.62M98.8,91.2h0.62M107.4,91.1h0.62M96.7,79.7h0.62M123.2,70.5h0.62M94.2,82.4h0.62M90.4,82.0h0.62M117.3,120.6h0.62M102.4,71.6h0.62M117.7,76.0h0.62M112.8,81.7h0.62M99.7,120.2h0.62M98.6,75.8h0.62M116.3,110.3h0.62M115.3,111.4h0.62M102.9,84.4h0.62M103.6,67.4h0.62M111.7,82.6h0.62M123.7,72.4h0.62M112.6,77.2h0.62M109.7,93.7h0.62M117.3,101.2h0.62M109.8,76.1h0.62M97.5,104.0h0.62M106.0,81.1h0.62M113.3,79.4h0.62M94.3,85.1h0.62M120.4,99.2h0.62M116.7,105.2h0.62M124.6,100.3h0.62M109.5,68.6h0.62M93.0,73.2h0.62M99.4,112.0h0.62M91.2,98.8h0.62M115.0,104.9h0.62M106.6,104.6h0.62M122.9,68.4h0.62M90.4,87.7h0.62M96.3,120.2h0.62M113.6,115.2h0.62M93.5,112.1h0.62M110.7,76.3h0.62M106.0,68.9h0.62M106.5,90.7h0.62M101.0,109.7h0.62M101.0,102.8h0.62M99.8,79.0h0.62M94.4,90.2h0.62M112.3,107.2h0.62M115.7,69.1h0.62M103.8,100.8h0.62M116.5,90.3h0.62M108.0,93.0h0.62M115.4,100.8h0.62M94.7,95.7h0.62M111.4,111.5h0.62M99.2,68.9h0.62M96.1,113.3h0.62M110.9,100.6h0.62M107.8,97.2h0.62M105.4,106.1h0.62M118.5,78.5h0.62M113.4,79.1h0.62M117.2,104.1h0.62M124.4,69.7h0.62M94.5,71.1h0.62M108.2,91.9h0.62M121.3,70.2h0.62M102.0,90.9h0.62M114.4,76.4h0.62M98.4,111.4h0.62M106.2,108.4h0.62M107.1,75.0h0.62M99.4,92.5h0.62M105.4,75.3h0.62M112.5,75.8h0.62M92.3,115.5h0.62M98.9,88.8h0.62M114.6,90.7h0.62M100.2,112.3h0.62M115.0,85.1h0.62M109.9,73.6h0.62M101.0,70.4h0.62M112.5,70.1h0.62M115.5,107.6h0.62M91.9,82.5h0.62M101.2,96.3h0.62M102.5,81.3h0.62M92.3,91.6h0.62M104.1,88.5h0.62M101.9,87.4h0.62M121.6,67.9h0.62M93.3,87.2h0.62M108.4,94.1h0.62M110.4,70.7h0.62M112.0,90.3h0.62M92.3,102.5h0.62M107.4,104.8h0.62M105.2,86.5h0.62M106.4,93.3h0.62M104.8,89.9h0.62M94.1,106.5h0.62M107.6,88.0h0.62M118.5,88.4h0.62M96.0,117.2h0.62M106.9,96.4h0.62M92.3,99.2h0.62M107.7,80.8h0.62M123.1,70.8h0.62M110.2,97.8h0.62M126.1,106.2h0.62M113.7,91.0h0.62M113.4,103.1h0.62M108.8,103.5h0.62M104.6,74.5h0.62M99.8,69.2h0.62M92.9,119.1h0.62M120.9,86.0h0.62M112.2,85.2h0.62M91.9,76.1h0.62M116.2,120.0h0.62M112.4,87.6h0.62M90.6,69.3h0.62M111.0,82.5h0.62M102.1,100.4h0.62M106.2,77.5h0.62M92.0,90.5h0.62M117.2,106.9h0.62M94.2,89.3h0.62M119.6,119.6h0.62M111.5,79.8h0.62M117.6,88.8h0.62M119.6,81.8h0.62M95.0,79.0h0.62M109.2,67.0h0.62M105.1,82.8h0.62M104.8,94.1h0.62M111.1,99.0h0.62M92.9,71.5h0.62M118.7,77.8h0.62M90.6,64.6h0.62M109.2,110.9h0.62M95.1,91.1h0.62M111.3,94.4h0.62M93.8,106.0h0.62M97.6,83.8h0.62M116.8,68.8h0.62M116.2,113.8h0.62M103.0,83.4h0.62M91.9,84.9h0.62M100.4,96.6h0.62M103.3,74.5h0.62M113.5,89.5h0.62M105.0,79.3h0.62M94.7,117.0h0.62M112.9,101.1h0.62M118.3,75.3h0.62M109.7,72.7h0.62M90.7,96.0h0.62M111.5,78.0h0.62M115.3,76.8h0.62M107.8,87.7h0.62M98.3,106.0h0.62M118.8,71.9h0.62M99.7,79.5h0.62M106.3,87.3h0.62M113.9,84.5h0.62M113.4,76.3h0.62M93.1,98.6h0.62M114.0,117.3h0.62M99.9,84.6h0.62M105.7,90.6h0.62M105.3,75.1h0.62M102.4,87.1h0.62M107.3,76.3h0.62M105.8,72.9h0.62M110.7,80.7h0.62M107.9,117.0h0.62M107.1,78.5h0.62M96.9,87.8h0.62M108.1,96.7h0.62M109.9,85.3h0.62M94.6,118.6h0.62M106.1,82.6h0.62M118.8,93.2h0.62M92.0,81.5h0.62M107.4,98.5h0.62M90.7,112.0h0.62M113.9,105.4h0.62M101.6,90.1h0.62M106.2,87.2h0.62M118.6,68.2h0.62M117.8,74.2h0.62M100.3,105.6h0.62M109.3,89.0h0.62M94.6,113.9h0.62M96.8,96.8h0.62M109.8,72.6h0.62M107.7,104.0h0.62M107.1,78.1h0.62M99.6,87.9h0.62M120.4,86.5h0.62M120.1,90.7h0.62M99.1,96.5h0.62M102.6,105.5h0.62M97.6,75.2h0.62M90.5,86.2h0.62M92.4,120.6h0.62M94.2,115.7h0.62M105.5,82.5h0.62M107.5,96.6h0.62M108.6,105.2h0.62M111.8,80.5h0.62M102.5,82.8h0.62M90.4,67.6h0.62M113.9,113.3h0.62M100.8,87.8h0.62M104.7,98.5h0.62M94.4,121.1h0.62M111.7,114.9h0.62M104.2,92.8h0.62M114.6,71.2h0.62M101.4,98.6h0.62M122.0,79.7h0.62M110.3,71.2h0.62M91.7,107.8h0.62M99.2,79.5h0.62M110.5,82.2h0.62M112.9,97.3h0.62M114.3,73.9h0.62M91.8,87.5h0.62M106.5,72.6h0.62M90.9,70.2h0.62M93.6,75.1h0.62M115.8,101.6h0.62M107.7,112.1h0.62M93.7,78.6h0.62M115.0,79.2h0.62M117.0,91.8h0.62M100.0,79.0h0.62M105.6,109.4h0.62M119.9,89.8h0.62M103.4,73.0h0.62M104.8,73.7h0.62M98.5,103.9h0.62M101.2,85.8h0.62M103.0,89.6h0.62M122.9,117.8h0.62M99.3,104.1h0.62M98.9,97.0h0.62M99.2,88.2h0.62M98.5,93.0h0.62M107.0,77.3h0.62M92.5,77.9h0.62M94.9,70.4h0.62M101.0,84.8h0.62M97.7,81.2h0.62M105.1,71.0h0.62M95.8,97.4h0.62M116.8,93.1h0.62M116.0,108.1h0.62M106.3,83.4h0.62M102.3,72.7h0.62M122.2,92.8h0.62M109.7,115.8h0.62M116.2,99.5h0.62M99.9,99.3h0.62M99.3,108.1h0.62M122.3,102.1h0.62M107.6,81.7h0.62M92.0,74.2h0.62M128.6,94.5h0.62M96.8,109.9h0.62M112.8,100.0h0.62M114.9,105.2h0.62M119.0,109.0h0.62M112.3,90.0h0.62M112.6,79.5h0.62M90.8,89.6h0.62M104.6,107.2h0.62M108.5,105.6h0.62M120.5,75.5h0.62M117.0,82.9h0.62M116.4,99.7h0.62M90.3,76.7h0.62M96.7,85.3h0.62M97.5,64.6h0.62M113.6,72.6h0.62M120.3,87.8h0.62M101.9,116.1h0.62M115.2,78.8h0.62M115.7,97.8h0.62M103.2,96.5h0.62M109.1,98.9h0.62M100.4,100.9h0.62M97.4,70.7h0.62M105.5,83.4h0.62M108.8,117.4h0.62M122.5,114.4h0.62M98.3,110.4h0.62M90.5,85.7h0.62M109.5,82.2h0.62M102.3,72.5h0.62M109.3,101.2h0.62M116.3,77.8h0.62M98.2,95.2h0.62M106.2,93.8h0.62M118.8,97.1h0.62M90.5,82.5h0.62M105.7,74.5h0.62M100.1,85.3h0.62M111.7,83.6h0.62M102.0,71.0h0.62M122.9,95.1h0.62M113.7,92.4h0.62M122.4,78.4h0.62M95.5,80.8h0.62M106.7,70.3h0.62M107.2,73.7h0.62M94.1,85.5h0.62M105.9,94.9h0.62M99.0,81.7h0.62M94.0,118.4h0.62M107.0,82.0h0.62M94.1,85.1h0.62M109.6,97.2h0.62M102.6,96.3h0.62M96.9,99.5h0.62M103.6,72.9h0.62M120.9,64.6h0.62M95.7,83.7h0.62M120.3,69.2h0.62M103.1,85.1h0.62M97.2,80.4h0.62M119.9,102.1h0.62M94.8,79.4h0.62M104.3,93.4h0.62M115.2,86.4h0.62M104.8,106.3h0.62M114.1,73.5h0.62M113.1,120.7h0.62M97.7,90.2h0.62M99.5,66.9h0.62M119.7,87.6h0.62M116.2,72.6h0.62M117.3,102.1h0.62M107.7,108.6h0.62M117.7,89.7h0.62M97.5,100.4h0.62M94.2,81.3h0.62M118.6,95.7h0.62M119.9,114.0h0.62M115.3,77.6h0.62M104.7,69.5h0.62M105.0,71.6h0.62M122.0,63.3h0.62M110.2,106.2h0.62M115.3,118.4h0.62M91.3,86.3h0.62M91.8,88.7h0.62M108.7,96.6h0.62M105.2,84.7h0.62M110.8,85.8h0.62M110.7,111.2h0.62M94.1,105.2h0.62M90.3,101.8h0.62M111.1,109.3h0.62M97.5,94.9h0.62M101.1,116.3h0.62M118.4,84.5h0.62M96.1,88.8h0.62M128.3,80.3h0.62M116.9,81.6h0.62M98.3,109.2h0.62M92.9,78.2h0.62M115.9,116.6h0.62M111.6,90.4h0.62M105.5,107.2h0.62M100.2,66.1h0.62M107.0,80.6h0.62M109.7,68.5h0.62M118.0,85.8h0.62M117.6,68.0h0.62M117.8,95.3h0.62M115.1,98.9h0.62M110.5,74.7h0.62M97.0,92.3h0.62M101.1,84.2h0.62M115.3,96.1h0.62M105.9,99.8h0.62M118.2,102.7h0.62M104.6,76.2h0.62M95.7,89.8h0.62M117.6,93.3h0.62M105.2,85.0h0.62M97.2,97.4h0.62M90.5,86.6h0.62M92.5,72.8h0.62M112.4,106.8h0.62M104.3,94.6h0.62M112.4,76.3h0.62M113.8,110.6h0.62M100.2,93.4h0.62M114.0,110.5h0.62M102.3,69.2h0.62M96.2,67.8h0.62M114.2,99.7h0.62M95.3,82.3h0.62M111.5,99.5h0.62M111.7,94.4h0.62M111.4,74.8h0.62M101.1,67.8h0.62M98.2,85.1h0.62M93.9,75.7h0.62M91.0,87.4h0.62M99.8,88.5h0.62M106.7,92.3h0.62M106.6,83.8h0.62M119.8,68.2h0.62M98.1,70.3h0.62M116.4,98.1h0.62M99.8,81.7h0.62M103.4,81.3h0.62M98.7,68.6h0.62M102.2,76.3h0.62M100.8,83.6h0.62M110.5,81.1h0.62M96.7,91.6h0.62M106.5,84.7h0.62M117.4,92.6h0.62M113.9,76.3h0.62M95.3,117.7h0.62M91.3,86.1h0.62M105.5,74.1h0.62M106.2,104.3h0.62M121.5,94.8h0.62M103.5,99.7h0.62M109.8,116.8h0.62M103.1,104.2h0.62M107.0,91.5h0.62M100.5,68.3h0.62M104.4,74.9h0.62M107.0,118.7h0.62M108.9,107.5h0.62M99.0,95.3h0.62M100.9,82.2h0.62M97.0,100.0h0.62M102.7,94.8h0.62M99.3,69.9h0.62M114.7,79.3h0.62M113.7,95.0h0.62M107.7,69.9h0.62M116.5,91.1h0.62M118.0,118.3h0.62M95.3,91.4h0.62M100.3,66.2h0.62M92.9,92.0h0.62M96.5,72.4h0.62M108.0,107.1h0.62M105.8,71.4h0.62M93.8,76.2h0.62M121.8,98.0h0.62M102.6,66.7h0.62M102.2,95.9h0.62M111.8,105.5h0.62M114.3,90.9h0.62M106.6,111.0h0.62M102.3,87.6h0.62M120.7,112.6h0.62M125.1,93.0h0.62M98.1,70.4h0.62M108.7,81.6h0.62M114.9,94.5h0.62M115.0,74.9h0.62M103.3,78.7h0.62M112.5,84.4h0.62M122.6,95.4h0.62M105.6,69.6h0.62M101.1,75.5h0.62M112.3,94.8h0.62M101.5,77.7h0.62M112.9,74.2h0.62M105.5,84.8h0.62M97.4,98.1h0.62M118.0,96.9h0.62M94.8,82.6h0.62M115.6,99.4h0.62M123.1,64.5h0.62M93.3,91.6h0.62M114.7,70.7h0.62M106.9,83.8h0.62M95.5,108.4h0.62M103.4,89.4h0.62M95.6,90.0h0.62M100.5,83.8h0.62M113.3,102.8h0.62M113.2,104.9h0.62M128.4,103.9h0.62M98.2,91.6h0.62M104.0,104.0h0.62M111.2,92.2h0.62M114.9,114.6h0.62M107.8,95.0h0.62M108.4,91.9h0.62M101.5,81.2h0.62M105.6,71.4h0.62M101.9,107.1h0.62M114.1,93.6h0.62M118.5,78.1h0.62M116.1,95.6h0.62M103.8,73.0h0.62M94.4,90.3h0.62M107.0,70.6h0.62M116.3,100.8h0.62M94.9,76.6h0.62M120.8,94.1h0.62M99.8,76.6h0.62M94.9,74.6h0.62M104.0,101.6h0.62M101.6,92.7h0.62M110.8,92.7h0.62M113.7,107.4h0.62M92.9,106.0h0.62M104.1,103.2h0.62M115.7,90.7h0.62M116.6,106.8h0.62M93.9,73.7h0.62M93.1,114.5h0.62M107.8,88.6h0.62M95.4,100.8h0.62M98.1,108.9h0.62M102.7,100.0h0.62M108.4,77.1h0.62M102.7,70.9h0.62M103.6,95.0h0.62M109.6,96.2h0.62M117.4,96.7h0.62M92.0,84.3h0.62M107.4,116.8h0.62M94.2,92.5h0.62M117.9,69.6h0.62M93.8,97.9h0.62M104.7,113.4h0.62M103.5,98.7h0.62M108.3,80.0h0.62M120.2,111.9h0.62M93.6,93.7h0.62M109.2,95.7h0.62M104.8,69.8h0.62M118.0,86.2h0.62M101.3,76.4h0.62M109.3,107.3h0.62M97.8,94.5h0.62M98.4,79.6h0.62M113.2,88.9h0.62M107.1,64.5h0.62M121.1,109.3h0.62M96.6,93.9h0.62M90.9,94.4h0.62M114.7,77.7h0.62M100.3,99.7h0.62M109.9,77.3h0.62M114.3,105.5h0.62M107.6,78.9h0.62M118.6,83.7h0.62M97.0,66.8h0.62M99.7,76.2h0.62M114.5,102.4h0.62M106.6,86.2h0.62M110.3,67.6h0.62M122.8,77.4h0.62M104.1,72.0h0.62M97.2,89.8h0.62M117.4,92.8h0.62M117.9,73.5h0.62M116.8,78.9h0.62M98.1,76.1h0.62M107.1,82.1h0.62M106.3,83.2h0.62M120.6,103.7h0.62M109.9,96.3h0.62M104.5,119.3h0.62M98.8,74.3h0.62M101.9,79.7h0.62M104.4,100.0h0.62M104.6,98.5h0.62M109.1,67.6h0.62M94.7,82.8h0.62M94.1,90.9h0.62M109.4,104.1h0.62M97.6,86.3h0.62M96.3,73.3h0.62M118.2,108.0h0.62M107.4,81.8h0.62M117.0,98.5h0.62M109.0,67.9h0.62M107.2,116.4h0.62M109.4,120.1h0.62M123.1,109.8h0.62M100.1,74.9h0.62M112.7,72.7h0.62M104.6,89.1h0.62M116.1,113.1h0.62M105.8,69.8h0.62M96.0,110.5h0.62M98.6,85.6h0.62M104.9,111.1h0.62M111.9,98.9h0.62M93.2,77.8h0.62M111.7,103.3h0.62M92.1,81.7h0.62M91.4,64.9h0.62M112.2,71.4h0.62M95.0,101.0h0.62M116.5,91.8h0.62M104.6,84.4h0.62M116.3,97.4h0.62M100.6,79.5h0.62M93.3,80.1h0.62M97.5,97.4h0.62M98.2,93.9h0.62M110.1,78.1h0.62M111.7,105.5h0.62M113.5,95.0h0.62M108.5,67.8h0.62M91.6,99.6h0.62M114.3,101.8h0.62M92.9,82.7h0.62M111.7,87.4h0.62M116.5,83.2h0.62M118.2,81.4h0.62M101.2,100.4h0.62M113.8,65.9h0.62M100.6,107.0h0.62M90.9,75.1h0.62M117.0,81.0h0.62M93.2,74.9h0.62M98.1,87.0h0.62M93.8,99.1h0.62M122.2,87.9h0.62M108.9,95.9h0.62M115.1,108.8h0.62M110.7,73.3h0.62M102.7,80.9h0.62M112.9,87.2h0.62M109.2,79.9h0.62M92.5,72.5h0.62M92.8,110.4h0.62M121.6,84.1h0.62M92.3,87.3h0.62M91.3,82.5h0.62M90.7,71.1h0.62M113.2,103.0h0.62M95.8,85.4h0.62M112.6,107.9h0.62M116.7,97.6h0.62M112.3,71.2h0.62M103.9,71.9h0.62M106.3,96.4h0.62M90.4,67.0h0.62M107.3,112.4h0.62M100.8,83.6h0.62M104.5,77.9h0.62M96.8,114.5h0.62M103.6,103.1h0.62M118.1,96.9h0.62M114.7,115.8h0.62M94.3,72.2h0.62M99.6,78.2h0.62M94.5,85.9h0.62M110.2,99.0h0.62M102.7,68.9h0.62M115.5,89.8h0.62M105.6,86.5h0.62M104.3,91.1h0.62M93.5,94.9h0.62M101.0,79.1h0.62M98.0,69.9h0.62M101.3,99.3h0.62M94.3,67.5h0.62M93.7,91.8h0.62M111.4,87.8h0.62M120.7,92.1h0.62M119.2,111.7h0.62M94.3,70.2h0.62M105.1,73.4h0.62M113.2,94.8h0.62M105.0,70.0h0.62M97.8,108.7h0.62M101.5,89.5h0.62M100.2,106.0h0.62M96.4,81.9h0.62M104.0,81.9h0.62M100.2,92.7h0.62M110.6,100.4h0.62M96.6,97.9h0.62M112.9,75.7h0.62M117.1,103.1h0.62M96.4,84.7h0.62M98.2,104.7h0.62M103.2,99.2h0.62M99.6,79.9h0.62M111.7,72.9h0.62M113.5,103.0h0.62M103.4,112.3h0.62M103.5,90.5h0.62M103.2,80.4h0.62M117.8,109.7h0.62M109.7,120.4h0.62M119.1,87.7h0.62M96.4,87.6h0.62M96.2,71.6h0.62M119.5,77.5h0.62M105.7,84.1h0.62M124.3,85.4h0.62M99.6,70.2h0.62M99.8,82.0h0.62M104.7,77.3h0.62M120.9,73.3h0.62M100.8,102.9h0.62M112.4,74.1h0.62M114.5,75.2h0.62M102.2,81.2h0.62M112.2,87.9h0.62M95.5,84.1h0.62M103.3,88.1h0.62M95.8,99.9h0.62M92.1,103.7h0.62M125.2,96.2h0.62M114.0,81.9h0.62M107.9,119.5h0.62M95.9,64.6h0.62M108.5,69.3h0.62M114.4,111.8h0.62M112.2,86.8h0.62M115.1,80.6h0.62M98.2,103.9h0.62M96.2,85.0h0.62M90.8,70.0h0.62M100.5,79.0h0.62M113.5,95.8h0.62M98.8,89.5h0.62M96.7,72.9h0.62M101.9,91.9h0.62M108.4,99.3h0.62M103.1,94.8h0.62M116.7,112.9h0.62M112.0,96.4h0.62M113.0,113.3h0.62M102.1,115.3h0.62M108.1,75.3h0.62M110.5,113.5h0.62M118.1,99.0h0.62M102.0,112.1h0.62M95.7,114.5h0.62M102.3,91.6h0.62M100.9,81.1h0.62M92.2,78.3h0.62M113.6,98.2h0.62M94.6,94.2h0.62M107.1,78.9h0.62M93.0,88.5h0.62M91.0,99.3h0.62M105.2,110.1h0.62M90.8,79.9h0.62M116.0,98.6h0.62M110.2,69.6h0.62M100.1,69.1h0.62M100.3,113.0h0.62M92.4,79.1h0.62M95.7,96.6h0.62M119.1,74.3h0.62M108.5,101.0h0.62M95.2,89.0h0.62M120.1,86.9h0.62M102.1,99.2h0.62M111.2,88.2h0.62M111.7,109.2h0.62M110.2,99.3h0.62M112.0,70.7h0.62M92.3,78.7h0.62M112.0,75.1h0.62M107.8,113.5h0.62M115.1,81.4h0.62M118.2,109.6h0.62M116.4,91.7h0.62M116.7,77.0h0.62M101.0,99.6h0.62M96.1,101.6h0.62M93.1,70.4h0.62M100.9,99.2h0.62M95.0,120.0h0.62M117.4,97.1h0.62M117.7,77.2h0.62M114.6,101.8h0.62M105.5,95.9h0.62M108.7,100.4h0.62M100.6,111.3h0.62M90.9,69.4h0.62M103.0,75.0h0.62M109.4,106.2h0.62M105.0,98.2h0.62M92.8,69.7h0.62M101.5,78.7h0.62M101.5,82.1h0.62M117.8,69.9h0.62M118.9,63.6h0.62M103.4,117.9h0.62M98.5,92.5h0.62M94.7,85.4h0.62M99.8,80.4h0.62M100.3,79.6h0.62M92.2,104.9h0.62M117.7,91.1h0.62M99.1,94.2h0.62M112.4,114.3h0.62M97.3,74.7h0.62M109.4,96.0h0.62M102.3,97.0h0.62M111.2,77.8h0.62M107.7,88.0h0.62M93.1,91.0h0.62M117.5,108.9h0.62M106.7,89.8h0.62M98.0,93.2h0.62M109.5,109.3h0.62M112.1,85.0h0.62M121.8,84.3h0.62M91.5,93.7h0.62M109.2,85.9h0.62M113.7,86.0h0.62M95.9,91.1h0.62M111.9,121.1h0.62M117.8,69.9h0.62M119.4,96.8h0.62M99.2,97.4h0.62M102.1,81.3h0.62M105.7,97.8h0.62M104.7,75.5h0.62M90.8,64.6h0.62M91.6,83.8h0.62M93.4,78.3h0.62M98.5,85.4h0.62M101.7,77.7h0.62M124.4,75.6h0.62M123.7,81.0h0.62M105.8,98.2h0.62M115.1,68.4h0.62M119.4,90.6h0.62M109.9,60.8h0.62M126.4,64.0h0.62M92.1,99.8h0.62M99.9,98.1h0.62M107.7,86.2h0.62M104.6,95.3h0.62M106.5,92.2h0.62M90.5,120.8h0.62M109.1,76.9h0.62M125.8,87.8h0.62M98.7,79.4h0.62M92.8,84.4h0.62M109.7,85.5h0.62M114.2,104.7h0.62M109.9,76.3h0.62M101.3,80.5h0.62M110.2,102.2h0.62M99.5,73.3h0.62M104.5,87.4h0.62M99.6,91.0h0.62M101.1,70.3h0.62M95.2,70.9h0.62M105.9,93.0h0.62M117.4,70.0h0.62M106.4,66.8h0.62M95.4,76.9h0.62M105.1,95.6h0.62M118.0,121.1h0.62M108.2,120.4h0.62M117.0,93.1h0.62M97.1,89.9h0.62M111.2,67.8h0.62M123.5,84.2h0.62M96.8,81.4h0.62M96.0,79.9h0.62M108.4,119.2h0.62M115.9,89.7h0.62M103.7,99.3h0.62M109.6,93.0h0.62M117.0,68.6h0.62M117.4,75.0h0.62M110.3,97.2h0.62M95.6,71.6h0.62M101.5,98.3h0.62M106.4,105.7h0.62M98.5,101.9h0.62M99.4,96.8h0.62M93.8,77.7h0.62M110.7,116.1h0.62M121.9,95.6h0.62M106.0,80.9h0.62M122.7,69.6h0.62M94.8,102.4h0.62M95.2,115.0h0.62M119.7,113.5h0.62M108.9,120.5h0.62M116.3,71.7h0.62M99.8,95.0h0.62M119.5,85.0h0.62M93.4,102.3h0.62M99.3,76.7h0.62M112.7,89.4h0.62M93.7,79.0h0.62M107.4,69.2h0.62M107.1,75.0h0.62M104.8,101.9h0.62M93.7,84.8h0.62M93.0,99.6h0.62M94.9,77.0h0.62M92.7,112.3h0.62M120.8,77.5h0.62M100.3,81.4h0.62M103.1,68.6h0.62M95.4,106.6h0.62M95.7,73.0h0.62M106.5,92.8h0.62M93.3,87.9h0.62M104.4,104.8h0.62M116.3,117.2h0.62M103.1,88.6h0.62M116.0,72.5h0.62M101.9,76.4h0.62M100.4,73.8h0.62M121.4,85.8h0.62M97.9,94.4h0.62M121.7,75.5h0.62M105.5,72.2h0.62M92.1,93.8h0.62M122.4,91.5h0.62M101.7,70.4h0.62M121.0,97.3h0.62M91.1,75.2h0.62M114.0,112.5h0.62M117.5,92.5h0.62M112.6,75.0h0.62M111.4,68.8h0.62M114.0,74.1h0.62M95.5,92.3h0.62M92.8,95.9h0.62M104.2,68.4h0.62M112.0,105.9h0.62M100.2,89.8h0.62M108.0,84.3h0.62M106.6,88.3h0.62M101.0,108.5h0.62M92.2,93.0h0.62M99.7,115.4h0.62M103.6,115.1h0.62M93.5,80.3h0.62M91.6,94.8h0.62M116.1,84.7h0.62M122.2,89.6h0.62M94.9,101.7h0.62M102.6,92.6h0.62M101.7,68.9h0.62M93.7,75.5h0.62M116.0,90.3h0.62M107.1,89.5h0.62M102.9,92.6h0.62M113.5,72.3h0.62M99.1,86.7h0.62M115.8,93.5h0.62M111.9,118.3h0.62M106.1,96.0h0.62M93.5,78.1h0.62M117.8,99.5h0.62M102.5,86.1h0.62M95.7,106.6h0.62M97.6,98.3h0.62M100.8,113.5h0.62M108.0,110.0h0.62M122.8,71.2h0.62M92.3,71.8h0.62M97.8,88.3h0.62M92.3,92.5h0.62M93.1,116.1h0.62M110.9,90.5h0.62M101.8,82.2h0.62M98.0,88.4h0.62M114.5,71.3h0.62M114.5,104.2h0.62M97.8,70.8h0.62M111.7,89.6h0.62M93.0,82.2h0.62M112.7,70.3h0.62M91.6,89.9h0.62M103.3,72.7h0.62M100.2,96.6h0.62M98.7,84.8h0.62M93.0,101.8h0.62M108.5,119.9h0.62M91.8,84.9h0.62M115.4,66.1h0.62M115.2,73.2h0.62M106.9,95.8h0.62M107.4,86.1h0.62M101.6,75.4h0.62M102.8,97.6h0.62M100.5,89.0h0.62M112.2,81.9h0.62M93.5,105.3h0.62M100.7,70.7h0.62M119.5,81.1h0.62M103.7,80.9h0.62M125.1,78.6h0.62M117.8,77.1h0.62M101.7,75.8h0.62M111.4,100.2h0.62M106.6,109.1h0.62M102.8,82.6h0.62M108.4,76.8h0.62M114.8,81.6h0.62M106.0,115.6h0.62M90.8,87.3h0.62M94.4,77.8h0.62M117.8,81.3h0.62M105.4,86.9h0.62M111.5,79.1h0.62M117.5,95.3h0.62M104.3,105.6h0.62M105.3,81.2h0.62M93.0,72.6h0.62M112.0,109.3h0.62M118.6,92.5h0.62M113.3,76.0h0.62M106.1,68.9h0.62M105.3,72.3h0.62M118.4,80.2h0.62M111.4,77.8h0.62M112.8,115.8h0.62M90.9,71.2h0.62M115.5,83.0h0.62M103.5,69.8h0.62M105.9,116.0h0.62M100.1,73.3h0.62M115.3,85.2h0.62M109.4,117.2h0.62M111.6,95.2h0.62M109.5,114.8h0.62M124.0,106.8h0.62M99.9,94.2h0.62M115.4,118.4h0.62M118.4,74.4h0.62M124.3,92.3h0.62M101.9,68.9h0.62M94.9,91.4h0.62M91.3,83.6h0.62M99.7,97.2h0.62M121.1,110.8h0.62M107.9,83.6h0.62M101.3,73.0h0.62M104.4,102.9h0.62M113.4,70.1h0.62M121.2,99.1h0.62M102.4,74.1h0.62M119.7,78.1h0.62M117.6,104.0h0.62M92.6,93.2h0.62M91.2,111.5h0.62M100.2,72.4h0.62M101.2,68.5h0.62M92.3,81.1h0.62M97.1,72.3h0.62M104.2,91.7h0.62M94.0,102.2h0.62M98.5,92.2h0.62M107.7,109.6h0.62M106.4,116.3h0.62M95.3,95.7h0.62M101.0,101.3h0.62M117.1,95.0h0.62M106.5,78.4h0.62M112.9,75.2h0.62M116.5,69.0h0.62M93.7,82.8h0.62M91.7,92.9h0.62M111.0,76.3h0.62M114.7,86.8h0.62M92.5,77.1h0.62M108.7,101.8h0.62M97.0,75.0h0.62M98.0,78.4h0.62M105.4,116.0h0.62M104.6,95.3h0.62M105.1,65.5h0.62M106.4,85.1h0.62M120.9,98.1h0.62M101.6,68.8h0.62M107.5,70.9h0.62M103.4,121.1h0.62M93.0,95.9h0.62M111.3,75.0h0.62M114.4,100.4h0.62M103.6,80.9h0.62M122.9,93.2h0.62M111.2,82.9h0.62M111.0,108.7h0.62M93.0,103.0h0.62M100.3,76.5h0.62M104.5,84.2h0.62M115.9,86.8h0.62M103.1,86.5h0.62M104.2,103.1h0.62M93.9,80.4h0.62M103.2,80.9h0.62M95.9,89.8h0.62M112.1,80.2h0.62M91.8,69.8h0.62M95.4,96.9h0.62M95.7,76.3h0.62M98.2,85.1h0.62M98.0,90.5h0.62M102.5,70.2h0.62M112.8,88.6h0.62M102.6,109.7h0.62M103.8,92.5h0.62M97.2,72.0h0.62M95.8,111.8h0.62M102.2,104.6h0.62M119.1,105.8h0.62M119.9,83.2h0.62M97.3,68.5h0.62M107.8,76.5h0.62M108.1,103.1h0.62M114.7,116.1h0.62M106.9,114.1h0.62M118.3,92.6h0.62M121.7,69.1h0.62M96.3,98.0h0.62M103.3,67.9h0.62M107.8,81.5h0.62M119.2,92.0h0.62M118.3,111.7h0.62M104.1,95.7h0.62M99.1,94.3h0.62M106.7,84.9h0.62M101.3,119.2h0.62M91.0,110.1h0.62M117.3,72.9h0.62M105.0,71.8h0.62M107.2,101.5h0.62M108.5,82.0h0.62M122.5,71.1h0.62M113.2,85.6h0.62M98.1,79.2h0.62M114.5,103.0h0.62M115.0,86.8h0.62M107.5,109.3h0.62M123.0,107.1h0.62M124.4,92.8h0.62M116.2,81.7h0.62M94.0,70.5h0.62M93.2,90.1h0.62M94.6,73.2h0.62M119.5,79.4h0.62M97.1,104.8h0.62M101.2,88.5h0.62M109.3,82.9h0.62M102.3,92.7h0.62M108.1,70.8h0.62M115.4,75.2h0.62M112.3,117.6h0.62M116.9,101.2h0.62M117.9,93.6h0.62M119.0,86.7h0.62M114.1,66.2h0.62M112.7,93.6h0.62M102.1,84.9h0.62M97.0,75.5h0.62M117.9,72.8h0.62M96.4,96.9h0.62M120.9,70.3h0.62M101.1,93.5h0.62M92.6,113.7h0.62M107.4,105.3h0.62M118.0,93.1h0.62M101.6,86.3h0.62M90.4,75.5h0.62M100.9,85.6h0.62M103.9,120.5h0.62M105.0,93.7h0.62M102.2,77.9h0.62M91.1,76.7h0.62M98.6,87.3h0.62M100.7,87.7h0.62M117.0,81.3h0.62M105.3,93.7h0.62M107.9,103.0h0.62M96.6,92.1h0.62M108.4,95.5h0.62M102.7,111.0h0.62M99.0,105.0h0.62M99.9,84.6h0.62M119.3,75.4h0.62M93.1,87.2h0.62M103.1,73.8h0.62M116.6,108.2h0.62M104.3,93.7h0.62M116.9,91.7h0.62M103.8,68.1h0.62M95.2,91.9h0.62M125.8,75.7h0.62M104.0,118.0h0.62M97.0,91.0h0.62M95.6,80.0h0.62M93.0,71.3h0.62M120.8,82.6h0.62M121.0,111.5h0.62M94.8,94.3h0.62M106.5,66.6h0.62M92.7,106.5h0.62M108.3,100.5h0.62M121.2,90.8h0.62M111.9,85.4h0.62M113.0,93.6h0.62M102.5,74.7h0.62M96.9,108.2h0.62M121.0,73.2h0.62M101.7,80.7h0.62M103.6,90.2h0.62M98.1,95.5h0.62M111.9,90.4h0.62M120.4,70.8h0.62M107.6,118.6h0.62M96.6,106.4h0.62M101.9,97.6h0.62M105.8,94.6h0.62M113.5,75.7h0.62M99.9,80.8h0.62M107.0,108.3h0.62M92.7,104.9h0.62M90.4,74.4h0.62M122.4,97.6h0.62M109.2,94.9h0.62M106.6,101.0h0.62M100.8,69.2h0.62M120.7,107.2h0.62M109.7,84.6h0.62M93.1,98.6h0.62M115.2,91.7h0.62M93.2,90.2h0.62M94.3,88.8h0.62M102.5,69.7h0.62M97.6,85.6h0.62M115.5,119.4h0.62M109.8,84.7h0.62M115.0,69.6h0.62M111.9,98.6h0.62M119.6,80.2h0.62M95.6,113.6h0.62M92.0,68.3h0.62M91.6,69.9h0.62M114.9,99.5h0.62M107.5,94.3h0.62M123.5,98.1h0.62M105.3,96.7h0.62M107.0,86.9h0.62M112.0,72.0h0.62M114.1,105.0h0.62M116.6,85.4h0.62M103.4,69.7h0.62M94.2,113.3h0.62M112.7,88.8h0.62M109.3,89.7h0.62M115.9,78.1h0.62M112.8,85.6h0.62M113.0,98.4h0.62M119.6,87.1h0.62M95.6,110.3h0.62M120.1,71.8h0.62M117.6,112.3h0.62M106.2,72.1h0.62M93.7,78.9h0.62M108.6,79.8h0.62M112.1,91.5h0.62M94.4,77.9h0.62M106.5,96.1h0.62M111.5,87.4h0.62M116.2,73.0h0.62M112.7,104.1h0.62M94.4,118.0h0.62M103.8,74.4h0.62M120.3,105.8h0.62M110.3,78.9h0.62M93.3,88.6h0.62M109.5,109.8h0.62M115.8,70.3h0.62M101.4,90.1h0.62M103.5,87.9h0.62M101.9,113.0h0.62M99.6,70.5h0.62M107.2,89.6h0.62M116.6,100.0h0.62M97.1,87.8h0.62M113.9,80.9h0.62M95.7,78.1h0.62M111.1,102.3h0.62M109.6,98.7h0.62M93.5,91.3h0.62M110.7,87.0h0.62M105.2,108.2h0.62M111.6,101.1h0.62M115.1,100.1h0.62M96.9,94.7h0.62M90.7,90.9h0.62M102.3,74.7h0.62M101.6,85.2h0.62M112.5,94.2h0.62M105.7,68.1h0.62M121.7,87.4h0.62M115.8,101.9h0.62M116.2,75.2h0.62M101.9,75.9h0.62M92.1,71.5h0.62M97.2,83.0h0.62M103.6,106.0h0.62M94.7,68.7h0.62M107.1,97.0h0.62M104.3,70.1h0.62M93.7,74.8h0.62M114.2,82.4h0.62M108.2,98.2h0.62M96.6,70.1h0.62M106.6,84.0h0.62M91.3,101.3h0.62M106.5,94.8h0.62M93.9,79.8h0.62M100.4,79.2h0.62M103.4,106.7h0.62M97.0,100.5h0.62M98.8,92.5h0.62M117.1,72.8h0.62M96.6,94.8h0.62M97.4,118.3h0.62M102.0,92.2h0.62M96.9,89.4h0.62M123.3,78.1h0.62M122.2,83.7h0.62M105.3,94.2h0.62M120.0,100.0h0.62M111.1,84.8h0.62M119.6,100.7h0.62M119.6,98.1h0.62M92.9,90.7h0.62M91.7,76.1h0.62M107.3,83.2h0.62M113.8,103.8h0.62M123.0,82.2h0.62M92.6,75.6h0.62M104.0,103.5h0.62M91.9,82.7h0.62M103.5,92.2h0.62M93.6,100.3h0.62M124.0,75.0h0.62M92.0,77.1h0.62M99.8,98.2h0.62M103.4,110.8h0.62M92.8,71.1h0.62M98.2,102.5h0.62M123.4,84.7h0.62M103.7,85.2h0.62M101.8,111.7h0.62M93.7,74.0h0.62M104.4,92.5h0.62M107.2,101.6h0.62M94.0,71.8h0.62M91.1,93.8h0.62M100.6,117.3h0.62M103.6,114.7h0.62M118.3,94.0h0.62M100.0,105.3h0.62M118.0,87.8h0.62M111.3,88.1h0.62M99.8,80.5h0.62M98.6,97.6h0.62M101.3,101.9h0.62M117.2,98.0h0.62M115.0,101.8h0.62M96.7,83.6h0.62M103.0,99.4h0.62M126.9,75.4h0.62M92.1,76.2h0.62M99.1,99.9h0.62M114.8,70.5h0.62M119.3,93.9h0.62M118.2,75.9h0.62M105.1,81.1h0.62M92.7,69.1h0.62M115.5,105.7h0.62M91.3,86.6h0.62M96.9,72.7h0.62M113.4,72.6h0.62M92.7,84.6h0.62M91.0,76.3h0.62M117.6,95.2h0.62M102.1,65.5h0.62M90.6,90.2h0.62M91.8,118.1h0.62M92.7,72.0h0.62M120.3,74.0h0.62M111.3,73.9h0.62M113.9,79.5h0.62M98.3,77.5h0.62M99.2,96.0h0.62M129.1,70.0h0.62M107.7,94.9h0.62M121.9,109.3h0.62M101.3,110.1h0.62M98.2,85.0h0.62M120.0,80.3h0.62M104.5,78.0h0.62M92.9,84.5h0.62M103.0,96.2h0.62M93.1,74.9h0.62M102.5,80.1h0.62M123.4,77.4h0.62M120.7,85.0h0.62M93.2,81.5h0.62M93.8,77.6h0.62M104.5,80.2h0.62M118.5,110.5h0.62M114.1,86.0h0.62M92.2,71.8h0.62M116.5,89.2h0.62M114.8,106.0h0.62M99.7,90.6h0.62M94.1,82.4h0.62M119.2,103.1h0.62M115.2,100.5h0.62M97.0,76.1h0.62M99.4,99.4h0.62M103.6,76.1h0.62M116.0,82.9h0.62M111.0,70.4h0.62M118.6,90.6h0.62M103.2,108.2h0.62M106.9,97.4h0.62M98.8,71.5h0.62M116.8,109.3h0.62M101.8,84.3h0.62M97.3,116.6h0.62M106.4,113.9h0.62M101.6,105.8h0.62M109.9,67.7h0.62M117.0,109.9h0.62M117.8,69.0h0.62M100.1,92.5h0.62M106.2,119.1h0.62M95.6,97.4h0.62M117.0,77.2h0.62M115.4,97.8h0.62M110.7,71.8h0.62M104.0,77.3h0.62M122.1,83.8h0.62M111.1,74.8h0.62M123.4,100.3h0.62M93.0,66.9h0.62M93.9,91.0h0.62M107.6,101.7h0.62M104.9,78.8h0.62M95.6,98.1h0.62M110.5,86.4h0.62M123.7,86.5h0.62M105.0,86.2h0.62M90.5,82.7h0.62M100.3,82.9h0.62M102.2,110.2h0.62M106.9,76.8h0.62M110.0,85.5h0.62M111.1,77.8h0.62M100.5,87.8h0.62M113.3,106.7h0.62M103.5,83.4h0.62M99.4,72.5h0.62M111.7,77.2h0.62M92.9,76.6h0.62M111.9,100.8h0.62M106.6,107.1h0.62M90.6,68.8h0.62M101.2,87.9h0.62M113.3,102.8h0.62M92.9,66.6h0.62M113.2,95.2h0.62M95.6,112.6h0.62M106.3,74.5h0.62M98.8,111.5h0.62M95.8,86.7h0.62M114.7,100.4h0.62M111.2,110.9h0.62M122.5,85.3h0.62M116.9,102.9h0.62M90.7,76.9h0.62M107.4,85.8h0.62M110.8,77.2h0.62M94.2,101.7h0.62M103.8,96.7h0.62M108.9,112.7h0.62M98.5,72.4h0.62M96.0,90.0h0.62M112.4,88.1h0.62M96.1,67.0h0.62M96.4,85.6h0.62M103.6,72.9h0.62M120.4,101.6h0.62M108.1,119.2h0.62M92.1,70.5h0.62M117.2,97.9h0.62M121.8,90.6h0.62M118.0,78.1h0.62M104.2,89.8h0.62M111.1,79.9h0.62M112.4,109.4h0.62M112.9,73.1h0.62M95.9,115.9h0.62M92.1,84.2h0.62M121.7,97.7h0.62M105.8,98.3h0.62M121.7,71.8h0.62M96.8,111.5h0.62M116.1,92.2h0.62M90.5,99.2h0.62M92.7,82.4h0.62M116.8,91.6h0.62M91.4,81.8h0.62M106.3,76.9h0.62M102.5,114.4h0.62M109.0,103.6h0.62M97.5,72.6h0.62M113.9,102.8h0.62M112.4,69.3h0.62M110.2,67.4h0.62M101.9,90.8h0.62M104.9,111.6h0.62M116.1,89.3h0.62M113.3,111.1h0.62M109.3,96.9h0.62M113.5,78.1h0.62M118.4,80.2h0.62M103.4,109.1h0.62M93.4,69.5h0.62M119.1,77.5h0.62M116.0,72.9h0.62M95.4,110.8h0.62M116.0,86.8h0.62M119.4,98.8h0.62M93.2,95.0h0.62M91.5,99.3h0.62M103.2,97.7h0.62M103.8,116.6h0.62M92.4,99.8h0.62M98.4,106.0h0.62M90.9,94.1h0.62M91.3,80.6h0.62M105.0,72.7h0.62M120.0,91.0h0.62M116.6,73.9h0.62M114.3,96.1h0.62M108.9,93.3h0.62M97.7,102.3h0.62M97.7,108.3h0.62M122.6,89.1h0.62M112.9,85.6h0.62M114.6,120.1h0.62M99.9,76.4h0.62M122.2,90.7h0.62M101.3,112.5h0.62M101.7,96.3h0.62M97.1,90.8h0.62M112.0,75.5h0.62M95.1,110.3h0.62M101.5,97.0h0.62M96.0,71.4h0.62M119.4,85.8h0.62M112.8,89.2h0.62M95.8,102.4h0.62M101.8,86.6h0.62M108.4,95.1h0.62M101.7,120.3h0.62M109.7,110.0h0.62M102.5,74.6h0.62M103.0,78.1h0.62M96.6,89.9h0.62M98.5,82.4h0.62M101.5,94.7h0.62M95.0,86.3h0.62M113.5,112.2h0.62M104.9,100.3h0.62M106.6,89.3h0.62M111.8,97.7h0.62M104.1,114.2h0.62M98.7,66.0h0.62M121.6,87.2h0.62M94.9,73.1h0.62M96.5,75.7h0.62M93.6,87.1h0.62M115.9,96.1h0.62M94.5,75.8h0.62M120.1,92.4h0.62M115.0,90.4h0.62M113.6,92.6h0.62M97.8,91.3h0.62M108.4,67.6h0.62M114.8,79.6h0.62M98.4,69.2h0.62M105.2,108.6h0.62M116.0,77.9h0.62M119.9,99.8h0.62M99.8,76.7h0.62M105.0,103.9h0.62M105.1,87.2h0.62M104.3,69.0h0.62M94.9,118.9h0.62M124.2,84.7h0.62M111.6,81.4h0.62M105.4,99.6h0.62M101.7,78.1h0.62M100.4,85.6h0.62M118.8,99.4h0.62M91.3,67.2h0.62M107.2,80.2h0.62M91.0,107.9h0.62M94.7,73.4h0.62M95.4,85.2h0.62M108.0,80.6h0.62M116.4,68.1h0.62M105.3,82.0h0.62M112.2,69.5h0.62M118.1,76.9h0.62M111.5,82.6h0.62M110.4,99.3h0.62M108.3,99.5h0.62M118.9,76.7h0.62M99.8,88.2h0.62M121.1,110.3h0.62M109.7,91.1h0.62M116.9,97.6h0.62M112.8,112.7h0.62M110.1,94.3h0.62M116.8,98.4h0.62M109.7,111.5h0.62M120.7,103.8h0.62M108.9,82.7h0.62M108.2,96.4h0.62M108.5,110.3h0.62M99.1,71.6h0.62M122.0,89.9h0.62M110.2,117.9h0.62M124.2,104.4h0.62M101.9,112.8h0.62M116.9,100.2h0.62M119.1,64.3h0.62M109.1,77.7h0.62M92.7,103.8h0.62M95.3,86.7h0.62M97.5,80.8h0.62M96.7,111.3h0.62M120.3,78.5h0.62M114.8,107.6h0.62M91.8,75.4h0.62M96.2,112.3h0.62M101.4,98.2h0.62M123.5,66.4h0.62M111.0,104.8h0.62M116.5,97.1h0.62M90.4,96.1h0.62M91.4,70.1h0.62M114.8,90.4h0.62M106.5,102.0h0.62M96.7,112.5h0.62M91.2,84.3h0.62M115.3,114.1h0.62M111.5,80.5h0.62M111.6,82.3h0.62M91.8,79.4h0.62M104.0,71.5h0.62M119.2,72.4h0.62M121.1,77.1h0.62M98.6,76.5h0.62M107.5,99.9h0.62M101.9,77.4h0.62M95.4,77.3h0.62M103.8,120.7h0.62M120.1,106.8h0.62M101.5,82.9h0.62M90.5,81.4h0.62M111.2,110.2h0.62M99.6,92.3h0.62M96.8,80.0h0.62M91.3,83.7h0.62M98.1,73.7h0.62M114.1,68.8h0.62M93.6,71.5h0.62M102.6,119.9h0.62M114.6,86.6h0.62M120.4,68.7h0.62M98.5,99.2h0.62M100.8,89.4h0.62M118.6,92.5h0.62M105.5,85.7h0.62M109.6,78.1h0.62M93.3,110.6h0.62M93.5,82.1h0.62M104.3,100.3h0.62M104.8,79.4h0.62M115.2,74.5h0.62M110.8,116.7h0.62M97.2,73.0h0.62M120.4,103.8h0.62M116.6,94.5h0.62M117.6,79.1h0.62M113.5,85.3h0.62M97.3,70.1h0.62M117.5,85.0h0.62M112.9,71.4h0.62M109.0,74.6h0.62M120.7,69.6h0.62M119.3,92.9h0.62M113.7,68.9h0.62M115.4,118.8h0.62M113.0,91.3h0.62M114.5,114.3h0.62M108.4,92.5h0.62M102.7,97.5h0.62M103.6,69.8h0.62M107.9,78.9h0.62M110.6,71.1h0.62M119.4,70.0h0.62M90.8,84.1h0.62M120.2,85.0h0.62M117.1,83.1h0.62M95.8,93.5h0.62M109.1,93.9h0.62M102.8,79.6h0.62M118.9,68.9h0.62M94.4,93.1h0.62M108.6,72.0h0.62M110.1,78.4h0.62M91.1,88.8h0.62M95.2,95.5h0.62M94.6,80.7h0.62M117.8,116.0h0.62M118.4,73.2h0.62M100.0,76.1h0.62M102.5,75.8h0.62M105.7,89.3h0.62M104.1,81.6h0.62M111.9,83.7h0.62M114.5,111.4h0.62M106.1,72.2h0.62M116.2,70.9h0.62M102.6,113.0h0.62M109.2,77.6h0.62M97.7,77.7h0.62M98.2,76.6h0.62M96.8,97.5h0.62M106.6,99.0h0.62M111.8,116.6h0.62M116.4,112.6h0.62M108.9,120.6h0.62M115.4,111.0h0.62M115.7,86.9h0.62M93.9,119.3h0.62M115.0,102.4h0.62M124.0,84.5h0.62M118.1,114.4h0.62M95.0,82.0h0.62M107.1,84.1h0.62M98.0,92.9h0.62M116.5,101.5h0.62M118.5,95.0h0.62M119.6,80.4h0.62M104.4,94.5h0.62M114.0,81.6h0.62M98.6,101.1h0.62M91.5,98.7h0.62M118.8,98.2h0.62M91.6,93.9h0.62M90.4,70.0h0.62M118.4,85.6h0.62M90.8,70.1h0.62M92.4,95.0h0.62M118.4,78.2h0.62M105.8,103.5h0.62M109.5,74.8h0.62M116.9,70.0h0.62M105.7,121.1h0.62M93.0,98.6h0.62M108.9,76.2h0.62M94.7,82.5h0.62M97.7,72.2h0.62M118.9,78.1h0.62M118.7,96.7h0.62M117.0,66.8h0.62M117.0,76.5h0.62M90.6,107.1h0.62M99.0,111.0h0.62M103.7,93.9h0.62M100.5,95.3h0.62M106.2,96.3h0.62M103.8,95.8h0.62M90.7,73.5h0.62M114.7,92.6h0.62M118.0,87.6h0.62M94.6,79.5h0.62M110.4,96.0h0.62M92.3,91.2h0.62M93.1,73.3h0.62M96.8,81.2h0.62M120.9,77.6h0.62M114.1,105.4h0.62M104.6,79.5h0.62M117.3,101.7h0.62M114.4,70.4h0.62M113.8,96.2h0.62M107.7,74.1h0.62M120.1,101.0h0.62M110.5,92.1h0.62M110.7,97.6h0.62M114.4,116.5h0.62M95.9,112.7h0.62M98.8,70.8h0.62M111.5,99.6h0.62M118.4,72.8h0.62M103.5,83.9h0.62M116.3,100.4h0.62M107.0,66.9h0.62M99.2,106.1h0.62M103.1,89.1h0.62M98.9,89.5h0.62M118.7,88.8h0.62M96.8,70.6h0.62M107.2,75.8h0.62M107.9,110.8h0.62M100.0,76.3h0.62M120.2,68.7h0.62M94.6,93.2h0.62M109.4,115.7h0.62M115.8,111.0h0.62M100.3,113.2h0.62M113.0,75.3h0.62M113.0,72.7h0.62M120.0,82.4h0.62M110.2,93.1h0.62M100.7,84.8h0.62M99.9,82.2h0.62M120.5,75.0h0.62M121.8,103.2h0.62M112.7,81.4h0.62M115.4,71.4h0.62M116.2,98.2h0.62M120.8,105.7h0.62M106.0,66.5h0.62M102.2,106.5h0.62M109.6,72.9h0.62M120.4,107.9h0.62M114.5,80.2h0.62M100.0,111.3h0.62M91.0,80.2h0.62M120.5,86.7h0.62M119.3,71.1h0.62M113.3,98.5h0.62M116.4,69.8h0.62M111.4,112.6h0.62M99.2,81.3h0.62M111.5,82.4h0.62M115.3,97.0h0.62M112.9,97.9h0.62M100.5,95.9h0.62M95.3,76.3h0.62M116.3,108.4h0.62M94.8,78.5h0.62M120.9,76.7h0.62M104.4,97.1h0.62M99.3,74.0h0.62M96.6,119.1h0.62M117.1,87.4h0.62M121.0,91.4h0.62M104.2,81.5h0.62M109.0,84.3h0.62M102.0,117.5h0.62M108.0,92.5h0.62M92.9,98.6h0.62M112.6,104.6h0.62M104.3,93.6h0.62M102.2,81.7h0.62M91.8,84.4h0.62M93.4,83.3h0.62M117.2,113.6h0.62M111.2,91.2h0.62M122.0,86.3h0.62M94.2,94.4h0.62M118.8,77.2h0.62M123.7,87.7h0.62M98.3,69.9h0.62M98.8,73.9h0.62M110.7,95.2h0.62M100.0,69.6h0.62M98.9,107.7h0.62M117.1,106.8h0.62M104.4,96.8h0.62M126.7,68.9h0.62M110.5,71.1h0.62M110.8,100.7h0.62M106.0,100.9h0.62M106.3,84.3h0.62M107.8,69.7h0.62M115.7,95.4h0.62M94.5,100.0h0.62M106.9,67.3h0.62M90.9,119.9h0.62M112.2,91.2h0.62M102.7,71.9h0.62M92.4,82.8h0.62M117.6,98.6h0.62M104.9,104.7h0.62M118.1,81.9h0.62M122.7,95.9h0.62M113.0,83.2h0.62M103.9,111.7h0.62M95.9,74.0h0.62M116.2,87.6h0.62M121.3,96.7h0.62M92.1,80.9h0.62M114.4,93.3h0.62M94.0,81.0h0.62M118.4,89.9h0.62M92.5,67.2h0.62M115.4,75.5h0.62M118.7,68.7h0.62M94.0,108.2h0.62M102.7,82.0h0.62M114.7,73.7h0.62M118.8,74.4h0.62M116.6,78.7h0.62M98.5,119.0h0.62M124.2,83.4h0.62M96.0,90.1h0.62M107.5,91.2h0.62M105.5,114.2h0.62M106.0,83.0h0.62M122.2,103.7h0.62M93.6,113.3h0.62M95.1,95.0h0.62M119.9,82.3h0.62M114.6,66.0h0.62M112.7,77.8h0.62M93.5,103.0h0.62M98.5,73.4h0.62M118.0,109.3h0.62M113.9,81.1h0.62M106.7,72.7h0.62M98.4,84.9h0.62M96.5,120.5h0.62M100.0,85.6h0.62M104.0,112.3h0.62M114.6,67.9h0.62M109.6,65.1h0.62M98.0,121.2h0.62M114.7,85.2h0.62M113.6,102.6h0.62M92.8,105.8h0.62M105.5,74.8h0.62M111.2,84.0h0.62M97.5,114.2h0.62M115.9,111.3h0.62M108.3,100.1h0.62M109.8,79.2h0.62M91.3,81.8h0.62M96.7,83.7h0.62M97.3,88.5h0.62M104.6,80.9h0.62M104.1,106.1h0.62M115.0,69.4h0.62M126.4,70.6h0.62M96.7,113.8h0.62M109.0,91.2h0.62M100.1,101.2h0.62M97.3,67.2h0.62M101.1,112.7h0.62M101.4,121.2h0.62M106.2,87.2h0.62M101.2,96.8h0.62M105.4,84.0h0.62M102.4,89.4h0.62M97.2,85.3h0.62M104.1,79.7h0.62M95.1,79.3h0.62M92.0,76.3h0.62M101.3,91.6h0.62M124.6,71.1h0.62M98.7,85.3h0.62M123.5,68.6h0.62M94.9,83.2h0.62M95.1,82.5h0.62M121.0,86.1h0.62M112.5,85.9h0.62M110.4,75.3h0.62M107.7,80.7h0.62M100.3,89.1h0.62M106.3,97.2h0.62M115.7,117.9h0.62M100.0,82.6h0.62M110.5,76.9h0.62M115.8,98.0h0.62M115.1,72.9h0.62M121.4,97.0h0.62M118.1,70.3h0.62M124.3,71.8h0.62M90.3,76.7h0.62M121.0,69.6h0.62M120.2,104.7h0.62M113.3,85.8h0.62M95.1,101.3h0.62M113.8,97.0h0.62M108.7,94.8h0.62M97.3,79.3h0.62M96.7,87.6h0.62M98.6,92.0h0.62M106.5,97.6h0.62M114.8,62.8h0.62M106.0,101.0h0.62M116.1,69.6h0.62M95.7,116.7h0.62M98.6,78.3h0.62M106.0,112.8h0.62M102.8,107.9h0.62M120.8,117.0h0.62M98.1,83.9h0.62M118.4,87.0h0.62M120.2,79.9h0.62M94.3,73.3h0.62M112.9,78.6h0.62M113.9,68.8h0.62M102.2,98.1h0.62M95.5,98.4h0.62M105.8,92.1h0.62M98.5,89.0h0.62M117.9,77.7h0.62M115.5,78.0h0.62M101.7,72.0h0.62M104.5,68.5h0.62M114.7,113.8h0.62M99.8,89.7h0.62M109.6,75.8h0.62M101.1,105.2h0.62M117.9,94.9h0.62M113.8,93.8h0.62M124.5,120.4h0.62M109.0,85.9h0.62M90.9,85.0h0.62M114.7,80.0h0.62M114.1,75.2h0.62M101.7,77.6h0.62M93.9,69.6h0.62M116.1,94.5h0.62M124.2,78.1h0.62M122.6,98.0h0.62M103.5,84.1h0.62M106.6,78.9h0.62M97.0,85.6h0.62M102.4,69.0h0.62M99.8,102.6h0.62M117.6,85.8h0.62M114.0,79.3h0.62M120.8,118.7h0.62M112.6,89.3h0.62M95.3,103.7h0.62M117.9,71.3h0.62M112.8,66.9h0.62M117.4,119.8h0.62M91.0,117.3h0.62M100.1,91.5h0.62M112.3,115.2h0.62M107.4,95.4h0.62M99.0,88.6h0.62M100.1,96.0h0.62M92.0,89.5h0.62M99.6,74.5h0.62M112.7,76.6h0.62M117.1,72.6h0.62M104.9,88.4h0.62M97.5,95.1h0.62M106.6,88.6h0.62M112.7,97.5h0.62M95.6,66.5h0.62M91.8,82.7h0.62M119.1,93.6h0.62M123.2,90.7h0.62M104.4,81.1h0.62M118.0,62.6h0.62M96.1,102.1h0.62M90.4,97.6h0.62M106.5,98.9h0.62M111.1,103.7h0.62M122.0,90.7h0.62M103.4,89.7h0.62M116.1,67.3h0.62M116.6,75.5h0.62M111.1,109.4h0.62M108.6,80.5h0.62M114.5,93.0h0.62M108.6,77.4h0.62M126.5,77.3h0.62M90.7,113.3h0.62M104.7,115.6h0.62M109.6,75.5h0.62M115.5,93.1h0.62M116.8,86.8h0.62M105.6,72.4h0.62M116.2,110.1h0.62M100.9,95.3h0.62M107.6,76.5h0.62M101.3,96.3h0.62M115.1,82.6h0.62M114.4,110.9h0.62M97.4,77.2h0.62M118.4,83.5h0.62M107.9,121.0h0.62M109.0,98.1h0.62M112.5,84.5h0.62M108.8,84.9h0.62M98.1,100.7h0.62M117.4,79.1h0.62M100.9,78.4h0.62M121.3,79.8h0.62M119.2,80.8h0.62M99.0,93.1h0.62M110.9,108.0h0.62M112.5,97.3h0.62M101.4,100.2h0.62M105.7,70.6h0.62M112.4,112.7h0.62M118.9,91.8h0.62M104.1,100.3h0.62M117.8,76.6h0.62M119.4,76.8h0.62M114.9,93.8h0.62M93.3,87.1h0.62M112.7,67.7h0.62M104.4,113.7h0.62M118.7,103.9h0.62M118.5,71.8h0.62M119.3,95.1h0.62M96.0,88.8h0.62M98.8,79.3h0.62M111.8,116.8h0.62M91.7,91.0h0.62M110.3,101.8h0.62M97.5,107.5h0.62M104.8,103.9h0.62M97.0,69.8h0.62M116.9,104.0h0.62M93.5,74.5h0.62M120.8,84.0h0.62M112.5,73.0h0.62M99.1,82.9h0.62M111.3,109.3h0.62M105.2,70.8h0.62M117.4,109.5h0.62M98.2,80.4h0.62M113.8,95.8h0.62M90.7,76.2h0.62M112.7,71.3h0.62M120.2,76.9h0.62M116.9,91.6h0.62M110.4,85.5h0.62M107.7,72.8h0.62M98.6,92.1h0.62M94.0,91.1h0.62M112.2,69.4h0.62M112.8,90.5h0.62M111.3,86.8h0.62M100.8,98.6h0.62M112.4,115.0h0.62M100.9,67.3h0.62M118.1,89.7h0.62M119.7,70.8h0.62M105.2,66.4h0.62M112.8,102.5h0.62M103.7,78.4h0.62M111.0,88.4h0.62M104.3,111.8h0.62M107.2,109.2h0.62M101.7,74.2h0.62M114.9,73.3h0.62M91.7,82.8h0.62M102.0,93.5h0.62M117.6,118.4h0.62M106.3,70.8h0.62M117.2,73.4h0.62M93.5,77.7h0.62M122.5,90.7h0.62M96.7,97.6h0.62M92.3,81.9h0.62M120.4,69.4h0.62M96.4,90.4h0.62M101.2,114.6h0.62M118.9,95.2h0.62M92.8,73.6h0.62M118.6,105.7h0.62M93.6,95.7h0.62M121.2,84.6h0.62M95.8,71.1h0.62M107.7,91.6h0.62M108.4,104.6h0.62M109.9,92.7h0.62M114.0,79.0h0.62M106.4,118.9h0.62M107.7,119.5h0.62M106.5,67.8h0.62M105.3,98.1h0.62M109.1,84.8h0.62M116.0,86.0h0.62M101.7,108.6h0.62M104.9,83.0h0.62M121.4,111.7h0.62M109.9,109.1h0.62M112.0,113.1h0.62M107.8,116.7h0.62M116.9,75.2h0.62M100.9,93.8h0.62M113.6,95.3h0.62M97.9,98.1h0.62M111.9,74.1h0.62M109.7,105.6h0.62M91.5,113.8h0.62M111.2,76.0h0.62M108.7,93.9h0.62M123.2,79.0h0.62M93.9,76.1h0.62M116.1,68.6h0.62M113.6,88.5h0.62M111.5,72.4h0.62M102.0,89.3h0.62M107.4,89.4h0.62M116.1,74.6h0.62M94.3,89.7h0.62M92.5,105.3h0.62M122.9,79.9h0.62M116.1,71.8h0.62M96.2,81.3h0.62M95.5,73.0h0.62M110.1,91.2h0.62M97.4,101.3h0.62M118.7,108.7h0.62M112.4,106.7h0.62M109.7,81.1h0.62M92.9,84.3h0.62M94.4,85.4h0.62M115.1,101.3h0.62M107.4,86.4h0.62M105.3,94.5h0.62M119.1,88.9h0.62M100.5,93.3h0.62M112.2,90.8h0.62M120.5,105.2h0.62M110.2,99.5h0.62M101.1,71.8h0.62M94.9,96.9h0.62M113.9,102.4h0.62M94.6,87.6h0.62M117.0,87.4h0.62M124.3,77.9h0.62M111.4,101.5h0.62M118.4,87.2h0.62M113.4,111.6h0.62M115.6,121.0h0.62M112.6,105.2h0.62M116.5,87.6h0.62M122.4,86.3h0.62M96.1,93.6h0.62M117.2,98.7h0.62M100.2,99.3h0.62M115.2,87.4h0.62M122.7,84.6h0.62M110.9,113.2h0.62M111.9,68.0h0.62M92.4,100.5h0.62M118.9,94.6h0.62M108.1,74.1h0.62M114.6,95.8h0.62M120.3,104.9h0.62M102.1,112.0h0.62M123.1,61.2h0.62M113.3,110.6h0.62M113.1,74.3h0.62M105.5,96.9h0.62M105.7,97.1h0.62M99.9,75.0h0.62M113.3,118.1h0.62M105.9,82.7h0.62M120.0,93.0h0.62M112.5,98.8h0.62M123.0,97.8h0.62M118.2,96.5h0.62M116.2,87.6h0.62M99.0,96.1h0.62M115.2,71.4h0.62M107.1,113.9h0.62M97.0,102.6h0.62M104.3,90.7h0.62M121.3,67.9h0.62M98.5,95.2h0.62M90.8,85.3h0.62M122.1,91.8h0.62M112.2,101.6h0.62M116.2,87.6h0.62M119.9,112.2h0.62M98.4,81.8h0.62M117.8,110.5h0.62M114.3,92.7h0.62M106.7,77.0h0.62M95.1,112.5h0.62M94.8,69.3h0.62M96.7,67.8h0.62M117.4,83.0h0.62M92.1,97.7h0.62M96.2,101.8h0.62M107.6,110.6h0.62M120.3,79.6h0.62M96.2,69.1h0.62M115.8,102.1h0.62M111.6,97.3h0.62M108.6,65.7h0.62M110.2,78.2h0.62M101.8,68.8h0.62M115.5,92.8h0.62M105.2,74.1h0.62M100.3,78.3h0.62M94.2,70.3h0.62M91.6,87.1h0.62M98.1,84.3h0.62M102.6,77.9h0.62M111.4,84.8h0.62M106.1,76.1h0.62M91.0,86.7h0.62M91.9,67.1h0.62M102.1,78.0h0.62M115.6,101.9h0.62M114.7,81.3h0.62M97.5,94.4h0.62M110.6,84.2h0.62M119.6,65.5h0.62M94.2,81.1h0.62M109.3,72.4h0.62M112.7,113.6h0.62M112.6,70.6h0.62M93.0,119.5h0.62M102.2,67.5h0.62M99.2,73.2h0.62M104.9,119.2h0.62M103.3,73.2h0.62M109.5,100.4h0.62M96.9,97.3h0.62M99.1,74.9h0.62" stroke="#000" stroke-width="0.62" fill="none" opacity="0.95"/>
<path d="M92.1,113.1h0.6M99.4,106.7h0.6M97.5,114.5h0.6M113.3,108.6h0.6M105.2,109.8h0.6M94.6,108.4h0.6M105.3,115.2h0.6M106.6,117.3h0.6M103.3,98.7h0.6M113.8,112.5h0.6M102.0,120.0h0.6M100.1,114.3h0.6M96.3,109.2h0.6M96.6,120.7h0.6M117.9,116.9h0.6M106.1,104.9h0.6M101.6,109.8h0.6M116.4,110.3h0.6M90.6,116.7h0.6M116.2,112.9h0.6M103.0,105.6h0.6M110.4,112.6h0.6M99.5,106.1h0.6M114.1,111.5h0.6M91.7,116.4h0.6M120.1,111.0h0.6M99.1,111.4h0.6M114.9,115.2h0.6M103.1,116.2h0.6M108.6,114.2h0.6M98.7,118.4h0.6M111.5,118.6h0.6M118.1,107.2h0.6M104.1,109.9h0.6M108.8,118.6h0.6M103.1,114.1h0.6M91.3,118.5h0.6M96.8,118.3h0.6M106.0,104.2h0.6M98.4,120.4h0.6M104.6,112.9h0.6M106.2,97.1h0.6M96.7,109.7h0.6M96.8,116.7h0.6M96.9,109.8h0.6M113.0,103.8h0.6M106.6,96.3h0.6M102.8,120.6h0.6M100.2,113.2h0.6M92.4,109.1h0.6M92.5,112.5h0.6M91.2,114.5h0.6M99.6,102.8h0.6M103.2,112.3h0.6M102.5,120.1h0.6M103.0,98.9h0.6M104.6,112.0h0.6M111.3,121.0h0.6M109.7,120.8h0.6M117.6,110.5h0.6M114.7,114.6h0.6M103.1,108.5h0.6M103.2,115.6h0.6M105.6,114.0h0.6M91.1,106.3h0.6M121.1,99.7h0.6M105.1,111.4h0.6M104.2,116.8h0.6M99.2,109.8h0.6M91.0,107.3h0.6M100.9,108.9h0.6M96.6,112.2h0.6M105.9,111.8h0.6M99.0,105.9h0.6M121.0,109.2h0.6M118.1,119.3h0.6M104.1,120.8h0.6M93.9,101.4h0.6M110.9,104.6h0.6M105.0,101.5h0.6M102.2,119.3h0.6M103.3,119.6h0.6M118.8,117.4h0.6M102.0,119.4h0.6M103.1,120.2h0.6M107.3,119.5h0.6M101.9,113.0h0.6M96.2,114.6h0.6M108.9,104.7h0.6M91.2,101.0h0.6M94.4,111.9h0.6M91.5,112.9h0.6M93.1,111.3h0.6M103.9,116.9h0.6M98.8,106.9h0.6M100.6,118.4h0.6M103.2,115.4h0.6M117.6,118.2h0.6M95.1,111.8h0.6M98.9,119.1h0.6M95.7,119.7h0.6M99.1,118.3h0.6M106.3,114.7h0.6M95.0,118.9h0.6M115.0,120.4h0.6M103.4,105.0h0.6M96.5,120.2h0.6M104.6,110.3h0.6M121.9,104.6h0.6M92.9,110.5h0.6M111.5,101.9h0.6M120.7,98.0h0.6M109.1,109.6h0.6M96.1,120.1h0.6M113.6,118.0h0.6M97.7,110.6h0.6M91.2,101.5h0.6M111.7,102.8h0.6M102.8,112.4h0.6M99.1,120.4h0.6M99.4,113.5h0.6M99.8,116.1h0.6M118.8,120.9h0.6M104.3,107.0h0.6M94.0,116.0h0.6M90.9,113.3h0.6M94.9,120.6h0.6M95.4,118.0h0.6M114.2,118.5h0.6M94.6,113.3h0.6M109.3,119.0h0.6M116.9,109.1h0.6M106.5,98.9h0.6M104.9,112.9h0.6M113.2,105.1h0.6M116.6,100.4h0.6M107.0,119.7h0.6M116.6,116.5h0.6M100.0,119.7h0.6M100.6,115.4h0.6M118.1,100.5h0.6M92.0,116.4h0.6M105.2,120.0h0.6M105.5,111.6h0.6M108.1,119.8h0.6M90.5,110.3h0.6M106.3,100.9h0.6M92.1,118.8h0.6M94.7,120.8h0.6M94.2,120.8h0.6M90.8,118.3h0.6M109.2,109.7h0.6M116.8,121.1h0.6M101.0,106.0h0.6M98.2,120.3h0.6M100.9,101.5h0.6M107.9,110.6h0.6M117.8,102.6h0.6M97.9,118.1h0.6M92.5,118.1h0.6M109.0,116.8h0.6M118.0,103.1h0.6M103.2,117.2h0.6M95.1,119.0h0.6M96.1,118.9h0.6M119.5,120.4h0.6M91.1,115.6h0.6M99.2,107.0h0.6M102.1,114.6h0.6M100.4,114.8h0.6M96.7,103.7h0.6M99.6,103.0h0.6M108.0,98.5h0.6M115.9,112.0h0.6M107.2,121.2h0.6M102.8,115.3h0.6M108.0,120.1h0.6M107.6,109.8h0.6M115.9,118.9h0.6M93.6,111.4h0.6M104.4,103.1h0.6M90.7,110.8h0.6M96.8,117.6h0.6M119.4,117.2h0.6M103.7,110.1h0.6M108.8,110.0h0.6M101.6,115.3h0.6M103.0,115.8h0.6M116.9,118.2h0.6M103.1,116.0h0.6M92.8,110.6h0.6M97.0,109.9h0.6M100.1,116.4h0.6M97.5,102.5h0.6M100.3,102.1h0.6M93.6,119.0h0.6M112.3,99.8h0.6M112.0,113.6h0.6M97.8,100.6h0.6M92.4,111.8h0.6M120.6,119.9h0.6M120.1,117.6h0.6M98.6,111.5h0.6M101.7,100.3h0.6M111.7,105.0h0.6M114.3,111.2h0.6M114.7,118.4h0.6M117.6,114.8h0.6M94.1,118.3h0.6M98.2,118.6h0.6M104.5,118.0h0.6M91.6,103.4h0.6M117.8,112.0h0.6M91.2,96.0h0.6M115.8,118.1h0.6M101.9,102.7h0.6M100.2,120.9h0.6M92.0,115.9h0.6M97.1,109.1h0.6M90.5,106.1h0.6M118.5,118.3h0.6M106.4,106.1h0.6M116.2,110.3h0.6M103.6,110.6h0.6M94.8,98.8h0.6M118.7,119.0h0.6M116.1,111.0h0.6M93.5,119.9h0.6M92.7,119.4h0.6M100.1,106.4h0.6M106.7,113.4h0.6M95.4,121.2h0.6M103.8,112.0h0.6M99.4,118.3h0.6M116.0,117.0h0.6M106.2,119.6h0.6M106.5,116.9h0.6M97.3,114.1h0.6M111.4,119.3h0.6M100.5,102.2h0.6M105.3,116.3h0.6M116.1,114.8h0.6M98.9,115.2h0.6M118.3,109.6h0.6M119.5,116.6h0.6M111.5,108.3h0.6M116.4,99.6h0.6M104.8,113.2h0.6M99.9,100.1h0.6M101.8,116.5h0.6M95.4,115.8h0.6M90.5,114.4h0.6M94.0,118.3h0.6M96.6,112.5h0.6M90.8,117.6h0.6M91.6,121.1h0.6M102.3,119.7h0.6M112.7,108.8h0.6M105.7,117.3h0.6M100.6,111.1h0.6M93.3,110.9h0.6M92.9,104.0h0.6M117.7,120.0h0.6M90.8,116.2h0.6M120.1,120.2h0.6M121.1,119.3h0.6M106.3,116.1h0.6M105.9,117.1h0.6M92.4,119.1h0.6M118.0,106.0h0.6M115.9,106.8h0.6M99.5,113.7h0.6M95.3,114.0h0.6M100.3,119.8h0.6M114.1,114.5h0.6M90.8,118.7h0.6M105.1,114.3h0.6M98.7,98.1h0.6M111.6,110.9h0.6M103.7,117.3h0.6M97.3,109.0h0.6M112.2,101.5h0.6M101.5,110.0h0.6M117.6,105.8h0.6M99.1,117.2h0.6M103.7,98.1h0.6M98.5,111.0h0.6M117.0,114.3h0.6M121.6,106.5h0.6M120.5,109.2h0.6M106.5,114.0h0.6M117.9,119.0h0.6M100.1,111.9h0.6M92.8,108.0h0.6M95.4,115.7h0.6M91.8,109.3h0.6M96.0,120.0h0.6M112.7,119.9h0.6M112.9,102.7h0.6M94.1,118.3h0.6M92.1,119.2h0.6M100.4,114.8h0.6M100.9,111.3h0.6M96.1,107.0h0.6M103.6,112.8h0.6M90.9,114.6h0.6M98.2,99.4h0.6M92.3,117.7h0.6M113.1,116.7h0.6M116.1,114.8h0.6M99.9,105.7h0.6M94.0,112.6h0.6M103.2,96.6h0.6M99.0,111.7h0.6M98.7,119.5h0.6M96.0,105.1h0.6M91.5,117.1h0.6M98.7,105.1h0.6M93.7,113.0h0.6M115.2,115.5h0.6M102.4,110.1h0.6M102.0,112.7h0.6M104.4,109.2h0.6M115.6,108.4h0.6M104.2,120.4h0.6M104.4,108.0h0.6M111.2,115.8h0.6M110.8,119.5h0.6M119.2,116.5h0.6M104.4,112.3h0.6M99.5,107.3h0.6M90.6,104.5h0.6M91.7,116.5h0.6M105.0,119.0h0.6M107.5,112.0h0.6M90.6,104.9h0.6M105.9,120.0h0.6M103.4,97.5h0.6M93.4,121.0h0.6M108.6,108.0h0.6M90.6,120.2h0.6M91.5,111.5h0.6M116.3,120.6h0.6M98.8,119.5h0.6M94.0,113.7h0.6M100.0,106.5h0.6M98.8,97.9h0.6M98.5,105.3h0.6M103.3,113.4h0.6M105.8,115.2h0.6M100.6,119.3h0.6M111.8,99.1h0.6M116.8,111.0h0.6M104.9,118.8h0.6M116.8,118.4h0.6M94.0,114.0h0.6M121.5,115.2h0.6M100.0,119.2h0.6M115.3,105.1h0.6M97.1,105.2h0.6M117.3,116.7h0.6M106.1,120.0h0.6M96.5,120.3h0.6M110.8,118.9h0.6M111.0,119.3h0.6M97.7,110.9h0.6M101.0,115.5h0.6M118.8,114.4h0.6M98.1,106.1h0.6M107.3,106.9h0.6M90.5,118.6h0.6M98.3,121.3h0.6M99.5,105.1h0.6M92.7,111.0h0.6M103.8,121.1h0.6M117.4,103.0h0.6M102.8,110.5h0.6M105.5,120.8h0.6M94.4,113.8h0.6M115.5,112.6h0.6M108.3,113.3h0.6M96.0,105.8h0.6M111.2,103.5h0.6M108.7,113.1h0.6M98.1,111.2h0.6M95.3,111.7h0.6M94.3,99.0h0.6M101.7,109.3h0.6M98.8,121.3h0.6M115.0,115.4h0.6M97.1,101.3h0.6M118.1,108.7h0.6M100.9,103.6h0.6M101.9,119.3h0.6M108.7,111.7h0.6M97.6,100.1h0.6M99.9,113.7h0.6M91.7,103.5h0.6M100.8,104.6h0.6M112.2,120.7h0.6M117.5,120.3h0.6M92.9,118.7h0.6M118.9,120.5h0.6M110.6,103.2h0.6M96.2,101.1h0.6M90.3,99.4h0.6M90.6,111.9h0.6M94.8,98.0h0.6M101.4,118.4h0.6M100.8,101.4h0.6M90.9,119.4h0.6M92.4,114.9h0.6M102.2,120.2h0.6M117.1,105.9h0.6M94.1,108.3h0.6M104.9,101.3h0.6M98.7,115.6h0.6M92.7,120.1h0.6M107.5,113.4h0.6M105.0,119.6h0.6M102.7,106.4h0.6M117.7,111.1h0.6M100.5,106.5h0.6M100.1,112.3h0.6M99.8,117.7h0.6M105.0,107.1h0.6M99.4,103.7h0.6M100.0,108.3h0.6M91.0,114.5h0.6M117.6,110.3h0.6M117.4,102.4h0.6M116.3,118.8h0.6M100.8,100.9h0.6M101.6,119.2h0.6M91.4,100.2h0.6M93.0,115.1h0.6M118.7,114.2h0.6M116.5,107.4h0.6M103.5,119.2h0.6M95.6,109.9h0.6M118.9,102.0h0.6M96.5,110.4h0.6M90.7,113.5h0.6M114.3,108.1h0.6M101.1,112.6h0.6M92.7,116.8h0.6M100.5,115.4h0.6M97.7,114.3h0.6M96.3,100.4h0.6M98.7,120.2h0.6M99.0,110.6h0.6M103.4,115.4h0.6M97.2,118.4h0.6M103.5,109.7h0.6M95.3,108.0h0.6M113.5,113.2h0.6M109.9,113.0h0.6M95.9,116.3h0.6M98.1,118.6h0.6M101.3,113.7h0.6M114.5,110.2h0.6M116.1,116.1h0.6M92.9,111.7h0.6M102.7,121.1h0.6M99.5,111.6h0.6M92.9,119.3h0.6M106.7,118.9h0.6M114.8,108.6h0.6M108.0,121.1h0.6M93.3,116.5h0.6M104.0,111.6h0.6M113.4,106.2h0.6M90.9,120.4h0.6M107.6,117.0h0.6M93.1,115.8h0.6M116.3,119.4h0.6M112.5,111.1h0.6M103.4,113.1h0.6M104.3,102.6h0.6M94.6,102.0h0.6M95.1,118.2h0.6M113.6,118.0h0.6M119.5,119.8h0.6M95.7,100.7h0.6M105.0,117.8h0.6M98.6,102.1h0.6M112.3,107.8h0.6M114.8,112.9h0.6M99.0,108.5h0.6M116.0,105.7h0.6M103.7,120.0h0.6M93.5,118.9h0.6M103.6,111.0h0.6M94.8,118.4h0.6M116.2,116.0h0.6M100.7,105.3h0.6M94.7,118.3h0.6M116.4,117.0h0.6M115.2,114.7h0.6M93.0,107.9h0.6M101.5,116.1h0.6M96.0,118.4h0.6M94.1,120.2h0.6M111.2,120.8h0.6M99.8,115.3h0.6M93.8,113.3h0.6M92.1,119.2h0.6M94.3,105.1h0.6M106.0,103.0h0.6M117.4,117.9h0.6M117.9,114.4h0.6M98.2,116.8h0.6M105.1,118.4h0.6M118.9,118.8h0.6M121.1,114.9h0.6M95.2,113.4h0.6M111.1,105.1h0.6M115.1,120.1h0.6M90.5,119.4h0.6M116.7,105.0h0.6M96.6,103.6h0.6M92.5,98.2h0.6M118.0,113.5h0.6M115.4,114.0h0.6M121.8,112.6h0.6M94.3,119.4h0.6M98.2,110.5h0.6M104.0,100.1h0.6M92.2,109.1h0.6M112.8,118.7h0.6M102.8,121.0h0.6M101.7,107.0h0.6M92.2,113.2h0.6M96.0,117.2h0.6M102.5,118.8h0.6M104.7,105.6h0.6M103.0,119.2h0.6M97.0,118.7h0.6M119.8,117.6h0.6M99.6,111.2h0.6M117.8,120.5h0.6M101.7,106.1h0.6M100.4,110.5h0.6M106.6,118.5h0.6M110.2,117.0h0.6M101.3,109.0h0.6M91.0,113.7h0.6M121.3,117.6h0.6M103.9,113.2h0.6M101.1,105.3h0.6M93.0,118.9h0.6M117.4,113.1h0.6M106.4,111.5h0.6M118.5,109.8h0.6M107.4,120.3h0.6M99.1,117.0h0.6M98.8,106.7h0.6M97.2,114.3h0.6M94.7,108.9h0.6M94.7,113.6h0.6M97.0,98.5h0.6M118.1,121.1h0.6M96.1,114.2h0.6M102.7,101.1h0.6M106.6,113.7h0.6M105.0,101.4h0.6M106.3,116.7h0.6M94.7,119.3h0.6M119.3,116.4h0.6M96.2,113.8h0.6M96.0,119.4h0.6M91.7,115.8h0.6M99.8,120.7h0.6M103.7,109.7h0.6M100.3,114.7h0.6M119.2,117.5h0.6M99.0,106.1h0.6M99.9,114.0h0.6M93.8,104.8h0.6M91.2,119.8h0.6M91.6,99.8h0.6M111.3,100.3h0.6M92.9,116.5h0.6M95.0,119.2h0.6M99.3,102.1h0.6M101.5,115.1h0.6M92.5,108.6h0.6M100.6,121.1h0.6M107.7,109.3h0.6M97.6,101.7h0.6M104.1,118.9h0.6M92.7,117.3h0.6M117.7,103.9h0.6M112.5,112.3h0.6M118.7,112.9h0.6M101.4,111.3h0.6M112.2,119.7h0.6M96.5,120.2h0.6M93.2,104.5h0.6M103.5,116.0h0.6M98.9,117.7h0.6M97.1,102.3h0.6M117.6,105.3h0.6M103.4,116.2h0.6M96.5,118.5h0.6M99.0,114.3h0.6M103.0,98.9h0.6M104.9,109.9h0.6M118.9,119.1h0.6M104.8,112.0h0.6M96.9,113.5h0.6M93.9,120.7h0.6M106.9,119.6h0.6M104.0,104.0h0.6M102.1,110.0h0.6M91.1,118.1h0.6M107.2,106.4h0.6M116.7,113.8h0.6M105.6,120.2h0.6M114.9,113.5h0.6M117.4,121.1h0.6M117.3,121.0h0.6M105.5,117.5h0.6M91.2,107.2h0.6M95.7,104.0h0.6M92.6,114.3h0.6M104.0,113.2h0.6M100.0,116.9h0.6M106.6,113.8h0.6M103.2,121.1h0.6M98.6,101.6h0.6M98.5,111.5h0.6M99.1,120.9h0.6M106.0,119.6h0.6M104.7,106.0h0.6M112.9,114.1h0.6M119.6,106.7h0.6M105.8,117.5h0.6M91.8,106.4h0.6M102.1,117.0h0.6M119.6,119.9h0.6M101.7,110.9h0.6M102.0,120.6h0.6M99.2,101.5h0.6M97.6,115.3h0.6M92.1,107.8h0.6M100.4,120.6h0.6M97.2,114.2h0.6M93.5,120.0h0.6M119.9,120.9h0.6M110.3,119.9h0.6M103.2,120.9h0.6M103.6,115.2h0.6M110.3,99.8h0.6M114.4,106.5h0.6M120.9,118.4h0.6M104.2,108.4h0.6M92.7,113.9h0.6M93.1,107.7h0.6M96.3,106.8h0.6M95.8,115.9h0.6M99.6,115.3h0.6M106.8,106.2h0.6M105.3,119.1h0.6M93.1,120.4h0.6M91.3,104.7h0.6M93.3,97.7h0.6M95.9,120.0h0.6M90.9,109.0h0.6M97.9,110.7h0.6M119.6,113.2h0.6M96.7,106.0h0.6M100.4,120.9h0.6M117.0,108.4h0.6M116.9,107.0h0.6M118.4,108.4h0.6M92.4,119.6h0.6M104.0,117.1h0.6M93.0,105.3h0.6M119.0,118.2h0.6M101.6,97.1h0.6M99.2,104.9h0.6M119.6,120.4h0.6M97.2,118.6h0.6M94.3,100.8h0.6M92.0,102.7h0.6M102.2,115.3h0.6M92.2,119.8h0.6M97.7,119.4h0.6M118.9,117.5h0.6M91.7,109.2h0.6M110.0,104.4h0.6M107.4,112.7h0.6M115.7,101.1h0.6M99.8,97.9h0.6M101.5,114.1h0.6M95.9,103.8h0.6M116.3,111.4h0.6M94.1,104.7h0.6M118.1,120.4h0.6M91.7,114.7h0.6M113.9,121.2h0.6M92.6,108.5h0.6M110.6,119.2h0.6M106.2,105.7h0.6M106.0,99.9h0.6M92.3,110.8h0.6M106.1,105.2h0.6M97.4,113.1h0.6M90.7,118.8h0.6M104.6,112.5h0.6M108.1,101.0h0.6M116.8,103.9h0.6M99.9,112.2h0.6M115.6,118.6h0.6M94.4,116.4h0.6M97.3,120.4h0.6M108.0,103.6h0.6M109.1,105.0h0.6M102.9,105.9h0.6M97.8,108.8h0.6M96.7,121.3h0.6M103.6,120.4h0.6M100.5,111.5h0.6M114.3,111.4h0.6M114.5,106.1h0.6M104.7,116.8h0.6M106.6,108.4h0.6M97.1,104.6h0.6M92.2,102.2h0.6M114.6,117.1h0.6M96.9,103.4h0.6M95.5,104.1h0.6M99.8,110.9h0.6M112.7,111.3h0.6M115.0,115.2h0.6M121.4,106.3h0.6M96.3,103.5h0.6M105.3,105.9h0.6M104.0,115.6h0.6M106.6,107.9h0.6M110.3,117.6h0.6M91.4,118.1h0.6M102.2,105.7h0.6M96.4,111.4h0.6M113.0,106.9h0.6M97.0,101.5h0.6M94.8,117.3h0.6M101.9,100.4h0.6M116.6,119.5h0.6M97.3,113.1h0.6M117.1,105.2h0.6M114.6,112.6h0.6M104.2,114.0h0.6M100.7,109.6h0.6M107.9,102.7h0.6M98.0,116.4h0.6M112.3,114.7h0.6M91.6,108.9h0.6M102.5,113.5h0.6M96.1,111.8h0.6M118.5,117.4h0.6M100.9,113.0h0.6M90.3,120.1h0.6M118.0,116.3h0.6M117.3,114.5h0.6M119.5,116.2h0.6M98.0,109.8h0.6M115.9,111.2h0.6M98.4,110.3h0.6M108.5,101.8h0.6M91.8,120.2h0.6M103.2,104.8h0.6M90.5,113.8h0.6M99.2,101.3h0.6M91.8,107.5h0.6M98.8,98.8h0.6M90.3,115.7h0.6M101.0,109.5h0.6M94.7,115.8h0.6M106.1,101.8h0.6M96.6,119.8h0.6M95.9,114.2h0.6M116.3,106.2h0.6M99.7,119.6h0.6M96.1,105.6h0.6M98.8,116.7h0.6M92.6,102.9h0.6M107.4,107.0h0.6M96.6,119.5h0.6M95.7,118.4h0.6M94.9,117.3h0.6M104.9,111.7h0.6M98.5,119.5h0.6M96.9,98.9h0.6M90.8,120.3h0.6M97.0,107.4h0.6M117.7,120.0h0.6M102.1,118.3h0.6M104.0,119.1h0.6M103.0,116.4h0.6M107.2,115.2h0.6M99.9,115.9h0.6M103.0,98.7h0.6M103.9,107.6h0.6M102.0,104.5h0.6M97.5,112.7h0.6M93.9,118.7h0.6M102.0,113.4h0.6M92.9,117.0h0.6M92.2,114.0h0.6M91.2,116.3h0.6M100.8,115.1h0.6M115.3,117.1h0.6M109.8,114.6h0.6M97.0,120.8h0.6M97.3,116.7h0.6M118.6,119.9h0.6M107.7,120.1h0.6M98.8,116.3h0.6M92.6,112.9h0.6M105.1,100.6h0.6M90.9,111.8h0.6M114.5,109.8h0.6" stroke="#fff" stroke-width="0.6" fill="none" opacity="0.85"/>
<path d="M117.7,63.4h0.5M104.7,66.8h0.5M104.9,67.1h0.5M118.5,68.5h0.5M102.7,67.5h0.5M97.3,67.2h0.5M94.9,68.4h0.5M119.6,64.3h0.5M102.3,64.9h0.5M94.6,66.5h0.5M114.5,67.3h0.5M98.3,67.5h0.5M123.1,62.8h0.5M104.6,65.9h0.5M99.6,66.6h0.5M106.4,65.6h0.5M104.5,68.1h0.5M102.9,64.7h0.5M113.7,64.2h0.5M105.9,66.3h0.5M101.1,66.2h0.5M94.2,62.8h0.5M96.5,66.9h0.5M114.7,65.0h0.5M110.1,63.1h0.5M115.9,66.9h0.5M103.6,65.7h0.5M120.2,66.1h0.5M99.8,68.3h0.5M92.1,63.9h0.5M115.6,64.3h0.5M105.9,65.6h0.5M94.3,66.6h0.5M90.7,61.7h0.5M106.1,61.0h0.5M100.9,67.1h0.5M108.8,67.0h0.5M103.9,63.4h0.5M116.3,68.8h0.5M101.5,66.5h0.5M120.6,66.0h0.5M123.5,68.9h0.5M104.3,64.8h0.5M98.7,63.7h0.5M97.2,63.3h0.5M98.9,67.6h0.5M109.9,60.5h0.5M108.6,67.2h0.5M113.4,68.8h0.5M98.0,68.6h0.5M97.2,64.8h0.5M98.4,67.1h0.5M97.3,62.3h0.5M112.2,63.0h0.5M104.2,69.0h0.5M112.3,64.3h0.5M100.8,66.8h0.5M90.6,67.1h0.5M107.2,66.3h0.5M116.8,66.3h0.5M104.3,64.9h0.5M98.5,66.2h0.5M102.6,67.1h0.5M102.9,65.9h0.5M117.6,66.4h0.5M111.4,65.6h0.5M98.4,65.7h0.5M120.5,64.1h0.5M104.6,65.9h0.5M112.4,68.5h0.5M106.9,66.8h0.5M109.9,64.3h0.5M105.3,63.3h0.5M108.2,66.0h0.5M107.7,64.5h0.5M103.0,64.0h0.5M105.6,65.4h0.5M105.8,66.8h0.5M93.4,64.3h0.5M106.5,61.7h0.5M109.2,68.1h0.5M108.0,65.9h0.5M110.8,66.3h0.5M118.0,66.0h0.5M113.5,66.3h0.5M92.5,64.7h0.5M93.9,65.7h0.5M116.8,62.3h0.5M110.1,62.1h0.5M100.9,67.5h0.5M99.8,68.9h0.5M107.9,65.5h0.5M105.9,65.7h0.5M109.5,63.1h0.5M104.5,64.3h0.5M107.1,64.3h0.5M107.1,67.6h0.5M100.6,66.1h0.5M99.3,67.7h0.5M95.1,66.0h0.5M122.6,67.0h0.5M106.8,67.2h0.5M92.9,63.3h0.5M115.8,64.6h0.5M111.5,64.9h0.5M101.5,67.0h0.5M110.3,65.0h0.5M106.9,66.5h0.5M117.7,64.5h0.5M105.7,68.0h0.5M112.5,60.0h0.5M114.0,64.9h0.5M118.3,65.2h0.5M95.2,62.9h0.5M107.0,67.9h0.5M112.0,66.4h0.5M106.2,67.1h0.5M94.5,64.1h0.5M93.5,65.1h0.5M94.2,66.6h0.5M106.3,67.8h0.5M116.6,65.0h0.5M116.6,67.5h0.5" stroke="#222" stroke-width="0.5" fill="none" opacity="0.6"/>
<path d="M126.8,77.8h0.6M130.0,74.1h0.6M142.4,73.2h0.6M140.4,72.8h0.6M132.1,77.2h0.6M133.6,77.0h0.6M143.1,76.0h0.6M138.3,72.9h0.6M131.7,74.8h0.6M137.8,70.9h0.6M132.7,74.4h0.6M139.8,74.0h0.6M129.7,74.6h0.6M130.7,72.8h0.6M137.1,80.1h0.6M146.4,71.1h0.6M147.8,70.6h0.6M132.7,72.8h0.6M142.1,73.2h0.6M140.3,73.2h0.6M134.1,72.8h0.6M134.1,72.7h0.6M146.7,78.2h0.6M141.0,80.4h0.6M134.3,72.5h0.6M130.7,70.6h0.6M133.5,75.0h0.6M129.6,74.9h0.6M135.8,72.7h0.6M128.7,74.7h0.6M134.3,72.2h0.6M126.6,78.4h0.6M139.6,73.3h0.6M131.0,76.1h0.6M132.1,75.0h0.6M139.7,77.1h0.6M137.7,76.3h0.6M136.9,74.6h0.6M133.5,69.7h0.6M129.6,75.1h0.6M124.5,77.2h0.6M139.6,71.2h0.6M139.6,73.5h0.6M143.5,72.7h0.6M141.3,71.1h0.6M128.9,68.9h0.6M136.0,71.3h0.6M142.6,70.4h0.6M138.7,75.9h0.6M131.0,74.1h0.6M146.9,73.2h0.6M140.5,76.5h0.6M136.8,69.6h0.6M132.1,75.0h0.6M140.6,72.4h0.6M124.7,70.1h0.6M134.9,72.1h0.6M138.4,75.4h0.6M133.0,70.5h0.6M134.9,75.1h0.6M134.9,75.9h0.6M131.4,76.0h0.6M138.6,74.0h0.6M134.4,72.6h0.6M132.6,72.2h0.6M141.2,74.6h0.6M128.2,73.7h0.6M142.0,78.1h0.6M141.6,71.1h0.6M138.8,71.0h0.6M144.8,79.2h0.6M128.1,74.9h0.6M127.8,74.8h0.6M131.4,71.6h0.6M140.2,74.6h0.6M140.2,75.5h0.6M129.1,72.5h0.6M140.6,77.0h0.6M132.7,79.6h0.6M138.3,78.5h0.6M138.1,77.7h0.6M132.1,74.2h0.6M126.3,74.8h0.6M128.2,75.1h0.6M132.3,71.7h0.6M132.8,72.9h0.6M128.7,78.2h0.6M129.6,77.2h0.6M142.3,76.5h0.6M132.4,72.3h0.6M127.8,71.1h0.6M127.9,72.8h0.6M135.7,76.4h0.6M128.0,76.4h0.6M129.7,80.4h0.6M141.9,79.3h0.6M136.9,72.0h0.6M126.6,74.6h0.6M126.5,75.9h0.6M138.5,72.1h0.6M140.9,74.5h0.6M136.6,75.8h0.6M130.4,74.1h0.6M129.3,75.5h0.6M130.5,77.5h0.6M140.4,72.6h0.6M134.3,74.0h0.6M142.2,75.5h0.6M136.2,79.9h0.6M135.6,74.8h0.6M134.9,75.3h0.6M129.0,77.8h0.6M129.5,70.5h0.6M140.1,77.4h0.6M135.4,72.5h0.6M123.1,76.4h0.6M130.0,75.2h0.6M132.1,76.4h0.6M131.2,75.2h0.6M132.5,73.5h0.6M130.0,77.2h0.6M124.7,76.0h0.6M129.5,73.2h0.6M140.3,70.8h0.6M140.3,73.0h0.6M139.5,76.3h0.6M140.5,73.3h0.6M136.7,72.6h0.6M135.6,73.3h0.6M139.3,81.4h0.6M140.1,71.7h0.6M134.7,73.9h0.6M127.2,71.6h0.6M137.6,70.8h0.6M146.6,70.0h0.6M134.0,78.4h0.6M137.4,76.5h0.6M124.1,73.2h0.6M126.9,72.4h0.6M135.8,71.9h0.6M139.7,71.6h0.6M135.3,72.9h0.6M129.3,71.2h0.6M131.5,77.6h0.6M127.8,75.2h0.6M130.2,73.1h0.6M136.7,73.9h0.6M136.7,73.7h0.6M135.6,70.6h0.6M132.1,73.2h0.6M126.3,74.9h0.6M135.8,71.3h0.6M133.8,75.0h0.6M131.6,75.3h0.6M137.8,71.1h0.6M138.9,77.5h0.6M130.2,75.6h0.6M124.4,68.2h0.6M134.2,71.3h0.6M138.9,78.3h0.6M132.6,72.4h0.6M137.6,75.6h0.6M137.5,71.7h0.6M137.2,74.4h0.6M126.5,72.6h0.6M139.2,72.6h0.6M124.9,75.4h0.6M138.7,72.6h0.6M133.3,74.6h0.6M128.8,74.4h0.6M141.4,75.8h0.6M134.6,72.8h0.6M146.4,69.5h0.6M133.4,72.1h0.6M129.2,73.3h0.6M132.5,77.4h0.6M143.0,77.0h0.6M137.5,72.8h0.6M131.5,77.9h0.6M137.4,69.3h0.6M131.5,70.3h0.6M134.8,76.4h0.6M141.3,73.7h0.6M134.3,73.4h0.6M125.5,72.6h0.6M133.3,74.6h0.6M136.8,73.6h0.6M136.8,69.9h0.6M134.9,73.7h0.6M144.0,72.4h0.6M140.5,73.6h0.6M135.1,74.7h0.6M138.9,70.1h0.6M123.5,77.1h0.6M138.5,77.0h0.6M132.5,77.3h0.6M123.8,68.4h0.6M135.1,75.2h0.6M131.5,71.5h0.6M136.8,71.3h0.6M133.1,73.9h0.6M142.9,76.7h0.6M136.1,74.7h0.6M124.3,76.0h0.6M136.6,75.4h0.6M133.4,73.6h0.6M138.1,73.4h0.6M130.3,74.2h0.6M134.4,72.4h0.6M126.2,76.7h0.6M124.7,77.4h0.6M134.6,73.9h0.6M132.9,73.1h0.6M129.6,73.2h0.6M130.5,75.8h0.6M125.0,72.1h0.6M130.7,78.2h0.6M137.2,74.7h0.6M141.2,72.4h0.6M129.0,75.8h0.6M132.8,76.4h0.6M146.4,74.7h0.6M139.9,73.8h0.6M133.5,74.8h0.6M143.2,74.8h0.6M142.4,73.8h0.6M131.2,72.8h0.6M136.4,73.5h0.6M130.7,74.7h0.6M133.5,77.0h0.6M130.8,78.0h0.6M140.1,77.1h0.6M138.8,78.4h0.6M135.9,72.8h0.6M125.9,76.5h0.6M140.2,75.3h0.6M134.5,75.8h0.6M137.0,71.8h0.6M142.0,74.1h0.6M133.8,75.2h0.6M144.1,72.9h0.6M134.0,73.1h0.6M129.9,69.8h0.6M138.5,72.7h0.6M137.1,78.3h0.6M135.7,74.3h0.6M131.0,74.5h0.6M128.4,70.3h0.6M130.2,74.3h0.6M132.5,73.6h0.6M130.7,71.9h0.6M137.8,76.4h0.6M140.4,76.1h0.6M134.3,67.5h0.6M133.7,76.4h0.6M126.3,69.6h0.6M135.3,72.7h0.6M131.2,76.5h0.6M135.5,73.1h0.6M130.9,72.4h0.6M139.0,74.1h0.6M141.0,69.4h0.6M138.1,74.1h0.6M134.6,75.9h0.6M129.0,73.6h0.6M134.1,75.7h0.6M134.9,74.1h0.6M125.6,73.4h0.6M133.9,75.2h0.6M125.2,75.2h0.6M139.8,75.6h0.6M136.3,74.8h0.6M133.1,70.1h0.6M131.7,74.5h0.6M131.0,75.7h0.6M138.0,70.2h0.6M137.6,78.4h0.6M130.1,75.4h0.6M139.7,71.2h0.6M136.3,76.3h0.6M131.6,75.3h0.6M136.3,76.4h0.6M130.3,75.6h0.6M144.8,70.4h0.6M138.2,78.7h0.6M138.0,75.9h0.6M138.2,72.4h0.6M126.8,71.9h0.6M134.5,75.2h0.6M131.7,76.5h0.6M140.7,73.0h0.6M133.6,68.3h0.6M134.0,74.5h0.6M146.0,72.8h0.6M142.0,76.3h0.6M137.9,76.3h0.6M140.1,74.5h0.6M140.3,69.3h0.6M135.7,74.8h0.6M143.4,75.9h0.6M133.5,73.0h0.6M131.4,76.8h0.6M131.7,74.3h0.6M125.3,72.1h0.6M131.1,78.3h0.6M135.3,72.5h0.6M134.0,80.4h0.6M134.1,76.9h0.6M130.3,73.5h0.6M131.7,72.9h0.6M144.5,73.0h0.6M138.5,72.0h0.6M132.0,73.6h0.6M137.8,74.2h0.6M128.5,72.5h0.6M135.2,72.0h0.6M138.9,71.2h0.6M127.7,74.9h0.6M144.8,79.4h0.6M142.4,72.7h0.6M138.4,69.2h0.6M131.2,80.5h0.6M138.8,75.0h0.6M135.2,75.2h0.6M135.8,70.3h0.6M147.7,74.4h0.6M133.4,72.6h0.6M130.3,74.5h0.6M136.9,71.4h0.6M134.6,71.4h0.6M145.4,77.4h0.6M132.0,74.6h0.6M136.8,71.6h0.6M142.3,75.5h0.6M129.0,73.1h0.6M134.1,72.4h0.6M129.4,72.0h0.6M127.1,77.2h0.6M135.6,69.7h0.6M130.3,74.2h0.6M136.6,76.8h0.6M136.3,77.6h0.6M139.4,75.2h0.6M133.5,79.8h0.6M138.0,74.3h0.6M136.3,75.5h0.6M139.2,74.8h0.6M125.6,75.4h0.6M127.8,76.0h0.6M140.3,75.3h0.6M135.8,72.9h0.6M130.3,70.2h0.6M138.4,76.6h0.6M132.1,76.1h0.6M138.2,74.4h0.6M126.3,75.6h0.6M134.8,78.9h0.6M136.9,73.0h0.6M143.7,74.4h0.6M133.0,73.3h0.6M134.9,75.2h0.6M132.7,73.8h0.6M130.4,72.1h0.6M135.3,73.2h0.6M136.5,73.4h0.6M129.1,73.1h0.6M135.7,77.6h0.6M135.3,71.6h0.6M135.4,69.9h0.6M137.6,69.4h0.6M142.9,75.5h0.6M138.0,75.6h0.6M131.8,75.4h0.6M141.0,75.1h0.6M131.7,77.3h0.6M139.8,73.7h0.6M143.3,76.8h0.6M136.1,71.0h0.6M140.6,71.6h0.6M136.3,70.6h0.6M128.1,75.3h0.6M145.4,75.3h0.6M133.2,71.9h0.6M131.1,76.6h0.6M135.9,73.8h0.6M142.2,74.3h0.6M133.3,71.3h0.6M139.4,71.2h0.6M135.6,73.8h0.6M140.3,78.1h0.6M144.6,74.3h0.6M130.1,69.6h0.6M146.5,76.4h0.6M133.6,77.1h0.6M131.2,75.9h0.6M131.4,71.4h0.6M133.8,74.3h0.6M140.6,73.7h0.6M144.9,74.4h0.6M135.1,71.2h0.6M135.2,76.5h0.6M131.5,73.6h0.6M133.1,76.4h0.6M143.7,73.0h0.6M136.8,74.8h0.6M126.8,76.6h0.6M133.3,74.9h0.6M129.7,76.1h0.6M126.7,76.6h0.6M142.7,74.2h0.6M128.8,77.6h0.6M133.1,72.8h0.6M147.0,72.1h0.6M132.3,74.0h0.6M135.3,71.5h0.6M144.9,70.3h0.6M131.4,74.8h0.6M136.5,72.3h0.6M129.5,73.7h0.6M130.1,74.6h0.6M128.6,73.2h0.6M140.5,75.0h0.6M140.9,77.1h0.6M139.3,74.3h0.6M135.0,72.0h0.6M146.4,78.5h0.6M124.3,77.9h0.6M130.7,71.6h0.6M133.0,72.6h0.6M131.5,71.2h0.6M145.6,76.1h0.6M143.3,74.7h0.6M132.9,74.6h0.6M125.7,72.9h0.6M145.6,75.2h0.6M139.2,76.9h0.6M135.5,73.4h0.6M124.0,72.7h0.6M131.3,73.4h0.6M138.5,72.3h0.6M138.6,75.4h0.6M138.9,72.7h0.6M146.9,74.6h0.6M132.8,78.3h0.6M142.0,75.7h0.6M135.4,73.8h0.6M135.8,76.5h0.6M132.9,77.4h0.6M132.4,75.6h0.6M139.2,74.0h0.6M139.0,75.7h0.6M131.2,72.5h0.6M135.5,77.9h0.6M144.8,72.2h0.6M136.5,77.4h0.6M136.1,77.6h0.6M133.3,72.7h0.6M133.2,73.7h0.6M135.6,67.6h0.6M129.0,74.0h0.6M132.8,78.5h0.6M135.2,73.2h0.6M137.7,78.4h0.6M126.3,73.6h0.6M133.2,74.1h0.6M140.9,75.1h0.6M138.5,76.5h0.6M132.4,71.2h0.6M133.7,74.0h0.6M132.5,73.2h0.6M133.7,74.8h0.6M137.2,76.9h0.6M136.3,73.7h0.6M134.1,74.3h0.6M135.0,75.1h0.6M140.1,72.8h0.6M139.1,70.7h0.6M138.1,76.7h0.6M130.2,76.8h0.6M136.2,74.6h0.6M135.8,75.7h0.6M129.2,74.6h0.6M128.6,72.8h0.6M137.6,70.3h0.6M139.0,75.7h0.6M130.4,72.7h0.6M131.7,74.0h0.6M142.3,79.0h0.6M133.2,72.6h0.6M131.6,74.4h0.6M134.5,75.7h0.6M143.9,71.6h0.6M135.8,68.9h0.6M132.0,72.9h0.6M127.4,76.2h0.6M130.7,74.3h0.6M134.9,75.3h0.6M131.4,70.0h0.6M142.1,74.0h0.6M132.1,77.8h0.6M125.8,74.9h0.6M125.2,75.2h0.6M137.2,71.7h0.6M129.5,74.1h0.6M135.8,74.9h0.6M133.9,73.9h0.6M135.8,76.0h0.6M146.2,74.0h0.6M138.6,73.5h0.6M132.7,78.9h0.6M133.9,78.5h0.6M139.2,77.4h0.6M129.3,70.8h0.6M144.9,73.5h0.6M132.7,74.1h0.6" stroke="#000" stroke-width="0.6" fill="none" opacity="0.85"/>
<path d="M138.3,69.3h0.5M149.9,75.5h0.5M145.3,83.5h0.5M142.3,72.2h0.5M143.6,74.6h0.5M139.5,76.7h0.5M138.9,71.7h0.5M123.7,78.2h0.5M131.8,77.9h0.5M132.9,74.5h0.5M147.1,69.8h0.5M133.6,76.9h0.5M139.9,73.2h0.5M135.9,69.4h0.5M151.4,72.3h0.5M142.2,70.9h0.5M133.1,72.9h0.5M130.7,72.2h0.5M142.7,74.1h0.5M126.2,80.1h0.5M144.2,76.6h0.5M140.8,76.6h0.5M130.0,79.2h0.5M140.3,76.2h0.5M142.1,76.5h0.5M131.1,79.1h0.5M131.0,70.0h0.5M146.2,73.0h0.5M137.5,80.9h0.5M138.2,77.5h0.5M130.5,71.9h0.5M128.2,77.2h0.5M133.8,73.2h0.5M140.5,70.6h0.5M141.4,79.9h0.5M144.5,81.3h0.5M137.6,72.6h0.5M137.6,73.7h0.5M127.3,79.0h0.5M135.2,78.4h0.5M146.1,64.8h0.5M128.8,73.1h0.5M139.0,72.2h0.5M140.7,76.3h0.5M134.3,76.0h0.5M126.3,71.3h0.5M141.1,70.6h0.5M138.8,77.0h0.5M130.1,70.1h0.5M144.8,80.9h0.5M154.0,77.7h0.5M144.4,70.8h0.5M132.5,77.7h0.5M131.8,76.4h0.5M148.4,74.4h0.5M136.1,74.3h0.5M141.2,78.4h0.5M140.8,72.3h0.5M129.2,80.0h0.5M155.5,80.2h0.5M157.1,73.3h0.5M141.2,68.5h0.5M146.7,77.5h0.5M131.2,71.5h0.5M132.4,77.3h0.5M135.2,74.2h0.5M130.7,76.5h0.5M138.0,75.3h0.5M125.6,80.6h0.5M128.3,76.2h0.5M139.3,74.7h0.5M134.1,79.9h0.5M128.2,80.5h0.5M124.0,72.8h0.5M140.5,81.9h0.5M161.1,68.6h0.5M130.3,77.9h0.5M146.4,76.6h0.5M153.8,77.8h0.5M132.4,70.2h0.5M131.3,78.0h0.5M140.5,63.9h0.5M136.7,75.6h0.5M134.5,75.4h0.5M123.3,77.3h0.5M153.6,72.0h0.5M128.0,77.5h0.5M141.9,84.8h0.5M132.1,77.7h0.5M126.5,77.7h0.5M140.5,73.6h0.5M148.0,77.5h0.5M144.8,76.5h0.5M139.3,75.5h0.5M140.7,80.2h0.5M128.7,76.6h0.5M139.3,72.4h0.5M132.3,85.6h0.5M138.3,74.8h0.5M139.4,80.5h0.5M135.7,78.9h0.5M139.7,74.7h0.5M132.6,72.7h0.5M142.4,70.0h0.5M138.0,81.4h0.5M130.2,74.3h0.5M127.3,76.0h0.5M136.0,78.9h0.5M130.6,73.1h0.5M141.1,72.8h0.5M131.6,80.0h0.5M134.0,79.5h0.5M126.8,77.3h0.5M143.1,70.5h0.5M135.9,67.9h0.5M150.5,74.6h0.5M131.2,71.9h0.5M150.1,77.2h0.5M145.8,77.3h0.5M136.7,77.1h0.5M136.2,77.1h0.5M124.0,76.1h0.5M142.2,74.8h0.5M140.5,77.6h0.5M128.5,74.1h0.5M145.6,63.8h0.5M142.4,80.8h0.5M140.1,82.8h0.5M141.5,79.2h0.5M147.2,75.6h0.5M123.0,75.3h0.5M146.5,73.1h0.5M129.4,71.6h0.5M151.5,74.2h0.5M130.3,73.2h0.5M140.0,74.2h0.5M141.9,74.3h0.5M135.8,76.9h0.5M150.5,72.6h0.5M124.6,82.3h0.5M148.8,74.5h0.5M143.9,76.5h0.5M143.4,70.0h0.5M139.6,83.4h0.5M134.7,72.1h0.5M140.1,72.6h0.5M147.4,71.4h0.5M142.1,81.1h0.5M131.6,73.3h0.5M135.0,82.1h0.5M132.2,76.2h0.5M141.9,74.3h0.5M144.4,80.1h0.5M138.5,77.1h0.5M149.2,75.1h0.5M147.5,81.0h0.5M133.6,81.3h0.5M148.7,74.7h0.5M143.1,78.5h0.5M138.3,72.7h0.5M144.3,71.6h0.5M136.5,72.6h0.5M143.6,78.8h0.5M136.8,77.7h0.5M148.8,75.6h0.5M144.7,80.7h0.5M130.6,71.6h0.5M126.2,77.6h0.5M138.0,83.0h0.5M135.2,78.9h0.5M138.8,72.1h0.5M135.7,82.0h0.5M135.5,76.0h0.5M133.3,77.8h0.5M139.9,76.1h0.5M135.8,63.6h0.5M138.9,76.0h0.5M141.9,80.8h0.5M137.7,78.3h0.5M142.2,79.6h0.5M149.6,81.2h0.5M141.6,73.2h0.5M151.7,79.8h0.5M150.4,72.4h0.5M130.7,70.4h0.5M142.2,74.7h0.5M151.4,73.9h0.5M142.6,79.5h0.5M138.4,78.6h0.5M141.1,76.1h0.5M143.2,72.6h0.5M147.1,78.3h0.5M148.2,69.5h0.5" stroke="#333" stroke-width="0.5" fill="none" opacity="0.6"/>
<path d="M138.6,98.0h0.5M136.6,84.5h0.5M132.2,99.0h0.5M140.9,95.5h0.5M128.0,99.4h0.5M133.4,96.7h0.5M138.1,108.3h0.5M131.2,107.1h0.5M145.0,99.9h0.5M142.4,95.4h0.5M133.6,99.6h0.5M129.5,94.7h0.5M130.5,98.4h0.5M137.4,112.4h0.5M135.2,97.5h0.5M143.5,109.8h0.5M132.4,92.6h0.5M133.7,103.1h0.5M137.0,97.0h0.5M143.2,95.2h0.5M127.0,109.2h0.5M146.8,120.8h0.5M134.7,102.4h0.5M135.4,87.4h0.5M143.2,93.0h0.5M142.1,102.8h0.5M143.7,93.3h0.5M129.7,91.3h0.5M138.4,106.4h0.5M134.3,91.3h0.5M142.4,100.8h0.5M125.7,101.1h0.5M131.2,86.6h0.5M137.4,109.7h0.5M124.9,97.0h0.5M138.7,118.8h0.5M130.1,103.7h0.5M134.9,118.5h0.5M144.3,110.8h0.5M133.5,120.3h0.5M138.8,91.2h0.5M125.8,102.3h0.5M133.4,108.7h0.5M141.9,110.4h0.5M148.5,93.0h0.5M133.6,86.2h0.5M129.8,93.5h0.5M126.2,118.8h0.5M130.4,105.2h0.5M133.7,89.7h0.5M145.3,97.8h0.5M139.2,107.4h0.5M134.3,111.3h0.5M131.9,105.2h0.5M133.4,107.2h0.5M133.9,103.1h0.5M135.6,111.0h0.5M131.6,106.7h0.5M132.2,98.1h0.5M136.9,91.5h0.5M141.6,108.2h0.5M155.7,95.2h0.5M131.4,105.3h0.5M137.5,103.1h0.5M132.5,108.5h0.5M144.8,109.1h0.5M137.5,101.3h0.5M146.2,102.6h0.5M142.9,99.4h0.5M147.8,91.4h0.5M127.5,120.8h0.5M138.3,86.6h0.5M140.9,100.5h0.5M142.2,97.4h0.5M137.0,99.2h0.5M129.5,112.3h0.5M138.6,115.3h0.5M136.2,111.7h0.5M144.4,94.8h0.5M135.9,116.4h0.5M124.0,104.7h0.5M133.8,95.1h0.5M143.8,112.7h0.5M142.8,111.7h0.5M127.5,105.3h0.5M128.5,110.9h0.5M142.3,104.9h0.5M141.5,113.8h0.5M142.6,108.8h0.5M133.0,93.9h0.5M139.5,97.5h0.5M123.5,99.9h0.5M141.7,110.7h0.5M137.2,103.3h0.5M131.8,108.0h0.5M142.5,99.1h0.5M141.3,98.8h0.5M130.0,110.7h0.5M142.0,90.0h0.5M138.8,91.8h0.5M140.3,101.4h0.5M124.3,91.4h0.5M135.8,92.6h0.5M125.1,89.5h0.5M138.6,110.0h0.5M128.9,103.8h0.5M136.9,87.7h0.5M130.3,86.3h0.5M134.2,96.1h0.5M130.1,95.2h0.5M134.4,110.1h0.5M141.4,98.3h0.5M142.5,85.9h0.5M146.9,105.6h0.5M141.9,95.3h0.5M153.1,113.4h0.5M127.7,100.3h0.5M132.4,106.2h0.5M134.8,98.0h0.5M137.8,121.0h0.5M137.9,115.6h0.5M134.3,103.3h0.5M132.4,100.0h0.5M133.4,102.1h0.5M124.1,102.4h0.5M144.3,88.7h0.5M134.9,106.0h0.5M136.7,108.5h0.5M139.0,98.0h0.5M138.7,109.4h0.5M140.0,100.0h0.5M146.1,95.8h0.5M141.1,89.0h0.5M133.5,103.9h0.5M139.0,114.0h0.5M127.1,92.0h0.5M143.6,106.5h0.5M133.3,92.8h0.5M137.5,92.6h0.5M140.4,91.4h0.5M136.5,105.4h0.5M137.9,109.3h0.5M136.2,113.7h0.5M131.2,109.1h0.5M151.6,88.4h0.5M138.1,94.7h0.5M133.2,91.0h0.5M129.8,98.4h0.5M133.7,98.2h0.5M138.2,86.9h0.5M136.7,100.6h0.5M144.0,89.2h0.5M137.6,93.2h0.5M126.6,107.5h0.5M137.2,85.9h0.5M133.5,105.7h0.5M128.0,106.7h0.5M135.2,112.2h0.5M147.3,87.2h0.5M141.9,103.0h0.5M129.1,111.9h0.5M128.6,101.8h0.5M136.2,101.8h0.5M138.9,89.2h0.5M133.3,107.1h0.5M141.1,106.3h0.5M144.1,90.1h0.5M133.4,98.0h0.5M139.2,105.9h0.5M143.1,103.4h0.5M137.2,89.2h0.5M136.9,88.8h0.5M129.5,94.3h0.5M139.1,115.4h0.5M129.3,89.2h0.5M136.9,110.4h0.5M143.5,108.2h0.5M132.8,106.5h0.5M134.9,94.8h0.5M145.7,97.8h0.5M135.4,95.2h0.5M141.4,96.0h0.5M135.9,101.0h0.5M137.4,101.1h0.5M137.9,100.8h0.5M129.0,111.0h0.5M133.8,98.1h0.5M129.4,94.5h0.5M132.5,100.2h0.5M131.4,99.0h0.5M145.7,90.1h0.5M127.6,111.9h0.5M145.2,84.2h0.5M138.3,96.4h0.5M137.7,95.1h0.5M128.7,105.5h0.5M136.1,93.1h0.5M137.2,92.4h0.5M133.6,92.4h0.5M142.2,114.1h0.5M127.7,106.7h0.5M139.3,99.6h0.5M144.3,119.5h0.5M124.1,101.4h0.5M140.3,97.9h0.5M127.5,97.6h0.5M126.0,100.2h0.5M141.5,118.4h0.5M132.3,104.2h0.5M137.7,98.6h0.5M144.7,92.8h0.5M139.5,115.7h0.5M140.5,84.2h0.5M134.9,107.8h0.5M136.5,94.2h0.5M133.1,91.5h0.5M143.2,94.1h0.5M141.0,106.4h0.5M144.8,120.6h0.5M133.6,87.2h0.5M136.7,117.9h0.5M140.7,98.7h0.5M148.8,102.3h0.5M131.8,99.6h0.5M144.1,99.4h0.5M137.0,102.6h0.5M133.1,94.8h0.5M147.2,103.1h0.5M124.2,102.5h0.5M130.5,91.6h0.5M148.0,109.6h0.5M139.1,100.7h0.5M128.6,96.9h0.5M139.9,106.8h0.5M123.1,94.9h0.5M133.6,105.7h0.5M130.2,98.9h0.5M124.4,87.9h0.5M137.4,104.0h0.5M137.4,97.3h0.5M126.3,93.2h0.5M134.6,96.5h0.5M133.2,107.5h0.5M132.7,98.2h0.5M138.2,108.3h0.5M143.5,85.5h0.5M143.6,104.1h0.5M140.4,107.8h0.5M131.2,100.5h0.5M148.7,92.6h0.5M133.8,108.2h0.5M140.1,87.7h0.5M141.2,103.9h0.5M140.0,110.9h0.5M131.1,103.8h0.5M136.1,88.0h0.5M140.4,97.5h0.5M136.2,84.7h0.5M127.7,103.2h0.5M133.7,115.7h0.5M142.6,107.1h0.5M137.8,105.8h0.5M136.0,102.9h0.5M149.7,93.6h0.5M129.1,98.0h0.5M142.4,105.0h0.5M138.8,118.2h0.5M130.1,109.9h0.5M136.0,97.3h0.5M141.8,91.4h0.5M137.7,91.8h0.5M129.5,113.6h0.5M134.2,117.7h0.5M130.1,96.0h0.5M134.4,105.2h0.5M124.6,94.5h0.5M125.2,86.7h0.5M137.1,101.1h0.5M147.0,119.6h0.5M139.2,99.7h0.5M145.4,101.6h0.5M142.9,95.8h0.5M129.8,104.7h0.5M139.0,106.3h0.5M139.1,105.5h0.5M134.3,111.5h0.5M137.7,88.5h0.5M136.0,115.6h0.5M140.3,109.7h0.5M140.3,93.1h0.5M151.7,108.1h0.5M149.7,85.2h0.5M125.7,97.8h0.5M146.4,116.7h0.5M143.9,111.5h0.5M139.3,95.4h0.5M139.7,100.6h0.5M141.5,109.6h0.5M132.5,95.2h0.5M149.3,88.7h0.5M139.4,90.7h0.5M138.4,107.9h0.5M130.6,103.5h0.5M139.1,90.8h0.5M149.1,100.6h0.5M149.7,85.1h0.5M126.3,96.4h0.5M143.6,104.8h0.5M138.9,92.1h0.5M136.6,108.2h0.5M143.6,99.4h0.5M133.8,102.1h0.5M149.3,112.6h0.5M137.9,90.1h0.5M137.9,97.5h0.5M148.2,89.0h0.5M137.6,99.4h0.5M138.7,87.6h0.5M133.1,92.3h0.5M146.3,92.2h0.5M126.7,85.6h0.5M142.4,106.0h0.5M135.1,87.2h0.5M139.9,103.5h0.5M148.9,92.4h0.5M141.5,103.3h0.5M146.5,119.3h0.5M136.3,111.5h0.5M150.8,99.3h0.5M134.5,111.1h0.5M141.0,109.3h0.5M138.2,98.3h0.5M136.1,102.8h0.5M124.6,108.0h0.5M151.8,95.5h0.5M129.1,118.0h0.5M142.6,107.3h0.5M130.8,88.2h0.5M143.3,113.4h0.5M134.3,110.8h0.5M143.3,103.8h0.5M132.2,96.9h0.5M141.8,94.7h0.5M136.2,121.1h0.5M139.1,113.4h0.5M147.8,89.3h0.5M143.9,85.5h0.5M141.4,90.6h0.5M144.1,89.5h0.5M132.4,111.9h0.5M134.3,98.2h0.5M145.1,109.7h0.5M134.4,108.5h0.5M143.0,100.4h0.5M140.8,106.6h0.5M140.1,111.3h0.5M148.2,101.4h0.5M149.7,109.7h0.5M134.3,100.7h0.5M144.7,112.8h0.5M151.4,99.8h0.5M135.3,87.5h0.5M130.2,93.6h0.5M142.0,94.2h0.5M142.0,95.4h0.5M134.5,115.7h0.5M142.7,99.2h0.5M146.8,90.5h0.5M139.0,88.5h0.5M144.4,108.1h0.5M135.3,97.8h0.5M146.4,103.0h0.5M132.1,84.8h0.5M146.5,118.5h0.5M145.2,109.8h0.5M138.7,99.6h0.5M131.7,109.2h0.5M136.7,108.5h0.5M137.9,102.9h0.5M144.0,103.7h0.5M156.6,116.8h0.5" stroke="#333" stroke-width="0.5" fill="none" opacity="0.55"/>
<path d="M125.5,94.6h0.5M130.3,120.6h0.5M122.1,92.2h0.5M125.6,95.8h0.5M129.3,78.9h0.5M124.5,96.1h0.5M124.7,86.9h0.5M125.9,112.8h0.5M129.3,90.8h0.5M124.5,87.9h0.5M122.2,78.8h0.5M128.7,86.3h0.5M125.6,98.3h0.5M129.8,79.5h0.5M131.9,92.1h0.5M125.1,97.8h0.5M126.4,88.1h0.5M124.1,98.4h0.5M126.4,86.7h0.5M124.4,90.5h0.5M124.2,107.4h0.5M128.1,79.8h0.5M124.9,78.7h0.5M127.8,98.9h0.5M125.8,93.3h0.5M127.5,94.7h0.5M130.2,92.2h0.5M129.2,115.5h0.5M122.6,83.1h0.5M122.2,86.5h0.5M126.0,97.4h0.5M125.1,105.8h0.5M123.1,96.7h0.5M130.5,98.8h0.5M127.3,77.8h0.5M123.2,72.7h0.5M130.7,94.3h0.5M127.4,98.0h0.5M130.9,89.1h0.5M127.8,80.9h0.5M130.5,88.3h0.5M122.5,86.4h0.5M125.5,86.6h0.5M125.7,87.9h0.5M123.1,104.1h0.5M124.1,98.7h0.5M126.5,85.0h0.5M124.5,105.1h0.5M130.3,91.6h0.5M123.7,96.0h0.5M131.2,85.4h0.5M127.3,80.1h0.5M125.9,102.0h0.5M127.1,82.5h0.5M125.1,87.8h0.5M127.7,79.0h0.5M125.7,105.6h0.5M129.7,96.7h0.5M129.9,98.5h0.5M128.1,114.7h0.5M123.7,102.3h0.5M126.3,93.4h0.5M130.3,94.8h0.5M131.2,84.2h0.5M126.2,86.1h0.5M126.5,85.1h0.5M123.9,84.2h0.5M123.2,86.1h0.5M125.1,96.9h0.5M125.0,74.4h0.5M125.2,74.6h0.5M127.1,111.3h0.5M127.0,79.9h0.5M127.7,107.4h0.5M122.9,101.2h0.5M124.8,96.9h0.5M128.0,80.9h0.5M130.9,109.7h0.5M127.4,95.8h0.5M127.9,88.6h0.5M125.9,98.5h0.5M127.7,90.1h0.5M124.7,111.0h0.5M125.2,83.7h0.5M126.4,86.6h0.5M129.2,88.8h0.5M129.8,73.4h0.5M128.7,77.7h0.5M124.3,86.0h0.5M128.1,82.3h0.5M124.9,79.8h0.5M128.5,93.6h0.5M124.3,87.4h0.5M125.1,94.4h0.5M125.6,104.1h0.5M123.1,95.0h0.5M129.8,99.6h0.5M127.8,88.4h0.5M122.8,71.4h0.5M123.7,82.0h0.5M129.9,77.8h0.5M127.4,93.7h0.5M131.6,79.6h0.5M130.0,74.8h0.5M127.8,108.9h0.5M124.2,95.7h0.5M128.9,82.1h0.5M122.8,73.6h0.5M125.8,79.1h0.5M131.1,91.8h0.5M129.3,92.3h0.5M132.4,108.0h0.5M125.2,92.4h0.5M122.9,101.7h0.5M128.3,82.3h0.5M128.9,77.8h0.5M124.0,82.9h0.5M127.6,101.9h0.5M124.9,103.9h0.5M124.8,88.7h0.5M131.2,100.6h0.5M126.8,84.0h0.5M127.4,107.5h0.5M125.6,79.2h0.5M128.9,73.0h0.5M124.9,103.0h0.5M123.1,89.6h0.5M125.8,98.4h0.5M124.2,114.9h0.5" stroke="#333" stroke-width="0.5" fill="none" opacity="0.55"/>
</g>
<rect x="125.50" y="66.20" width="29.20" height="19.70" fill="none" stroke="#a8505a" stroke-width="1.0" />
<text transform="translate(137.20,62.70)" font-size="7.7" text-anchor="middle" fill="#a32a55" stroke="#a32a55" stroke-width="0.1" >LSK</text>
<line x1="150.60" y1="75.80" x2="170.10" y2="75.80" stroke="#960b36" stroke-width="1.5" />
<path d="M174.80,75.80 L168.60,73.00 L170.20,75.80 L168.60,78.60 Z" fill="#960b36"/>
<line x1="80.60" y1="95.00" x2="80.60" y2="50.00" stroke="#1a1a1a" stroke-width="1.6" />
<path d="M80.60,45.00 L77.50,51.50 L80.60,49.90 L83.70,51.50 Z" fill="#1a1a1a"/>
<text transform="translate(84.40,119.90) rotate(-90) scale(0.6,1)" font-size="11" text-anchor="start" fill="#111" stroke="#111" stroke-width="0.22" vector-effect="non-scaling-stroke" >cKit</text>
<text transform="translate(89.70,136.40) scale(0.59,1)" font-size="11" text-anchor="start" fill="#111" stroke="#111" stroke-width="0.22" vector-effect="non-scaling-stroke" >Sca-1</text>
<line x1="120.50" y1="132.90" x2="160.50" y2="132.90" stroke="#1a1a1a" stroke-width="1.6" />
<path d="M165.50,132.90 L159.00,129.80 L160.60,132.90 L159.00,136.00 Z" fill="#1a1a1a"/>
<path d="M220.5,67.7h0.5M217.6,58.8h0.5M216.7,73.6h0.5M214.2,65.8h0.5M214.6,69.5h0.5M216.5,58.8h0.5M218.2,65.1h0.5M215.7,65.1h0.5M213.8,68.1h0.5M211.8,60.2h0.5M215.1,72.9h0.5M214.6,65.8h0.5M215.1,67.5h0.5M214.3,74.6h0.5M216.8,67.5h0.5M217.1,70.9h0.5M219.6,66.6h0.5M216.3,68.7h0.5M213.9,64.1h0.5M215.4,69.2h0.5M215.7,55.1h0.5M211.9,67.9h0.5M214.4,67.1h0.5M214.2,72.4h0.5M217.3,71.0h0.5M211.9,72.7h0.5M213.6,76.7h0.5M214.5,66.4h0.5M209.7,68.4h0.5M212.9,63.9h0.5M218.5,78.3h0.5M214.0,60.9h0.5M208.6,64.0h0.5M217.0,60.4h0.5M212.5,74.1h0.5M219.5,73.1h0.5M212.4,63.3h0.5M212.2,65.5h0.5M214.9,69.4h0.5M218.1,70.0h0.5M218.5,72.1h0.5M214.8,65.7h0.5M213.6,77.7h0.5M215.5,62.9h0.5M213.2,65.4h0.5M215.8,66.7h0.5M216.1,75.5h0.5M213.6,67.8h0.5M220.4,60.6h0.5M212.5,72.8h0.5M212.3,69.4h0.5M213.0,71.1h0.5M221.9,63.9h0.5M212.8,67.5h0.5M212.4,61.1h0.5M213.2,65.9h0.5M221.2,71.4h0.5M219.5,72.1h0.5M215.0,61.7h0.5M218.2,62.9h0.5M220.3,65.7h0.5M213.5,69.7h0.5M217.0,70.0h0.5M214.3,69.0h0.5M211.3,69.6h0.5M210.9,68.8h0.5M217.1,72.7h0.5M217.5,62.5h0.5M215.0,71.5h0.5M218.7,64.6h0.5M217.5,74.6h0.5M213.6,70.0h0.5M217.7,66.8h0.5M217.1,74.8h0.5M217.5,68.5h0.5M215.7,65.7h0.5M212.1,62.2h0.5M211.1,66.1h0.5M212.8,59.1h0.5M219.7,66.3h0.5M219.1,74.2h0.5M221.0,67.1h0.5M208.1,69.7h0.5M215.8,59.8h0.5M207.7,72.8h0.5M219.5,73.9h0.5M220.8,73.5h0.5M217.7,69.4h0.5M219.4,70.2h0.5M216.6,70.7h0.5M214.4,63.5h0.5M222.6,78.8h0.5M220.2,63.7h0.5M214.9,72.6h0.5M217.8,66.9h0.5M222.0,68.1h0.5M216.2,67.8h0.5M214.0,72.5h0.5M210.6,67.9h0.5M218.5,75.7h0.5M218.3,61.8h0.5M218.9,71.6h0.5M216.5,64.8h0.5M212.1,66.0h0.5M216.9,81.6h0.5M217.9,68.5h0.5M210.5,61.7h0.5M214.1,67.0h0.5M215.7,73.0h0.5M221.2,74.0h0.5M213.9,65.4h0.5M213.4,60.2h0.5M211.8,69.7h0.5M213.4,70.8h0.5M215.2,65.1h0.5M216.3,68.1h0.5M225.6,64.2h0.5M217.1,60.7h0.5M214.8,75.0h0.5M218.1,77.1h0.5M210.5,63.3h0.5M216.6,62.3h0.5M213.9,60.7h0.5M218.4,65.6h0.5M215.8,61.0h0.5M214.7,76.1h0.5M218.6,67.6h0.5M213.2,66.1h0.5M216.3,77.3h0.5M216.8,66.4h0.5M215.5,62.1h0.5M216.9,62.3h0.5M213.6,65.4h0.5M223.3,76.3h0.5M215.4,71.8h0.5M216.7,70.8h0.5M215.9,71.5h0.5M221.8,67.4h0.5M220.4,67.7h0.5M219.0,62.3h0.5M218.2,63.6h0.5M213.8,68.2h0.5M223.7,69.5h0.5M220.2,70.8h0.5M215.3,61.7h0.5M212.8,58.6h0.5M217.6,67.4h0.5M216.6,70.1h0.5M222.8,66.0h0.5M217.1,70.4h0.5M218.7,66.6h0.5M220.6,64.7h0.5M216.4,58.7h0.5M216.8,66.9h0.5M214.9,64.1h0.5M217.9,71.8h0.5M224.7,64.8h0.5M218.3,70.7h0.5M220.7,65.1h0.5M214.1,67.7h0.5M214.2,68.0h0.5M213.8,68.2h0.5M219.9,68.2h0.5M217.7,71.8h0.5M218.9,69.7h0.5M210.9,62.0h0.5M221.0,63.8h0.5M215.7,73.0h0.5M213.2,57.1h0.5M213.2,71.7h0.5M219.4,70.8h0.5M223.7,73.9h0.5M209.7,58.3h0.5M215.5,58.2h0.5M219.2,57.3h0.5M216.1,62.2h0.5M218.0,77.7h0.5M216.3,54.7h0.5M213.7,63.3h0.5M216.1,75.0h0.5M214.5,63.8h0.5M211.2,59.2h0.5M211.6,66.5h0.5M218.0,68.3h0.5M214.1,69.1h0.5M213.6,72.6h0.5M211.6,58.9h0.5M216.3,64.1h0.5M220.5,64.2h0.5M217.1,69.1h0.5M220.1,74.0h0.5M211.6,57.3h0.5M213.4,70.4h0.5M218.8,64.3h0.5M222.4,66.8h0.5M220.6,67.1h0.5M211.3,64.8h0.5M219.0,72.9h0.5M216.6,78.4h0.5M217.1,71.2h0.5M218.2,66.4h0.5M212.4,68.5h0.5M216.0,65.8h0.5M217.4,66.6h0.5M220.0,72.5h0.5M214.9,75.6h0.5M216.3,60.4h0.5M212.2,65.9h0.5M218.4,65.2h0.5M220.3,79.2h0.5M213.4,68.9h0.5M213.6,74.8h0.5M210.6,72.5h0.5M215.1,68.8h0.5M217.4,65.1h0.5M213.6,77.5h0.5M218.4,70.2h0.5M221.5,64.7h0.5M219.5,67.3h0.5M211.1,64.6h0.5M217.0,63.7h0.5M213.2,71.6h0.5M216.9,65.6h0.5M211.1,71.1h0.5M220.2,68.7h0.5M218.6,67.3h0.5M220.4,73.5h0.5M217.5,73.1h0.5M216.2,75.9h0.5M220.2,67.6h0.5M220.6,69.7h0.5M215.9,69.4h0.5M214.9,71.3h0.5M216.3,68.6h0.5M223.2,55.9h0.5M215.2,74.9h0.5M213.9,61.7h0.5M220.9,76.8h0.5M215.2,69.6h0.5M215.2,63.6h0.5M218.4,71.5h0.5M216.6,62.9h0.5M217.0,65.2h0.5M214.6,69.2h0.5M216.6,61.2h0.5M219.0,65.9h0.5M215.3,62.3h0.5M213.9,60.5h0.5M215.9,63.9h0.5M214.8,73.6h0.5M213.9,72.3h0.5M213.4,67.6h0.5M210.8,68.2h0.5M218.1,52.0h0.5M213.1,69.6h0.5M216.7,64.4h0.5M215.4,70.3h0.5M217.1,59.4h0.5M218.5,63.8h0.5M216.4,68.2h0.5M215.1,73.6h0.5M218.3,69.9h0.5M221.8,65.4h0.5M215.7,72.3h0.5M215.9,63.1h0.5M217.7,71.0h0.5M211.8,70.7h0.5M214.1,67.6h0.5M216.7,74.7h0.5M217.1,73.1h0.5M215.3,69.3h0.5M214.2,74.3h0.5M216.3,64.9h0.5M219.5,71.7h0.5M217.8,69.5h0.5M217.3,69.4h0.5M216.2,65.9h0.5M217.5,65.8h0.5M221.0,68.1h0.5M216.0,59.0h0.5M215.0,67.2h0.5M210.3,64.5h0.5M213.6,67.1h0.5M218.7,58.8h0.5M217.6,73.1h0.5M219.6,67.2h0.5M211.0,70.7h0.5M216.5,70.9h0.5M218.5,66.8h0.5M211.5,64.1h0.5M211.3,69.2h0.5M214.8,57.3h0.5M209.3,69.9h0.5M211.3,58.6h0.5M219.3,66.1h0.5M213.5,67.1h0.5M220.4,66.8h0.5M220.2,70.5h0.5M215.6,71.4h0.5M212.4,60.6h0.5M213.7,72.7h0.5M213.6,65.7h0.5M212.9,67.5h0.5M214.0,70.4h0.5M213.3,67.0h0.5M218.7,62.6h0.5M212.2,61.9h0.5M209.9,72.1h0.5M216.1,71.5h0.5M214.3,67.5h0.5M219.1,68.9h0.5M220.3,66.4h0.5M209.3,61.1h0.5M212.7,66.2h0.5M213.0,61.5h0.5M213.9,60.0h0.5M215.8,66.5h0.5M217.6,74.1h0.5M215.3,75.7h0.5M214.1,64.3h0.5M214.1,62.4h0.5M219.7,57.1h0.5M217.0,68.9h0.5M216.4,66.5h0.5M217.9,73.5h0.5M214.8,67.9h0.5M219.6,57.2h0.5M218.8,62.8h0.5M214.6,72.0h0.5M218.1,67.5h0.5M214.6,64.1h0.5M216.1,70.7h0.5M219.3,68.6h0.5M216.4,72.6h0.5M214.4,66.8h0.5M216.6,66.0h0.5M218.5,66.1h0.5M214.9,79.5h0.5M213.5,71.4h0.5M216.9,63.5h0.5M217.2,61.5h0.5M212.1,68.9h0.5M208.8,57.8h0.5M213.5,63.6h0.5M216.5,57.5h0.5M216.9,64.1h0.5M215.1,61.7h0.5M212.4,80.4h0.5M216.7,66.5h0.5M221.7,73.3h0.5M205.6,66.7h0.5M218.2,63.7h0.5M214.0,70.4h0.5M214.5,65.4h0.5M211.8,65.7h0.5M214.6,67.1h0.5M218.7,65.2h0.5M208.0,60.1h0.5M218.3,62.8h0.5M214.3,71.1h0.5M223.4,57.5h0.5M220.6,69.0h0.5M215.3,57.8h0.5M211.4,72.1h0.5M209.1,77.7h0.5M216.8,66.4h0.5M208.3,66.8h0.5M218.9,69.2h0.5M217.2,68.3h0.5M217.2,71.4h0.5M222.3,63.2h0.5M215.1,71.6h0.5M214.0,58.3h0.5M216.1,63.8h0.5M219.7,73.9h0.5M219.7,74.5h0.5M219.8,66.3h0.5M212.1,70.1h0.5M223.0,69.9h0.5M220.8,71.9h0.5" stroke="#222" stroke-width="0.5" fill="none" opacity="0.7"/>
<path d="M228.1,66.3h0.45M224.6,91.6h0.45M221.4,78.1h0.45M211.1,63.9h0.45M214.1,63.6h0.45M234.6,94.6h0.45M206.4,86.6h0.45M226.5,73.1h0.45M223.2,97.2h0.45M221.0,84.6h0.45M215.9,77.4h0.45M195.4,77.0h0.45M228.7,59.6h0.45M219.9,56.0h0.45M229.9,75.3h0.45M226.9,59.5h0.45M224.2,80.3h0.45M207.4,87.9h0.45M241.8,74.7h0.45M213.3,83.7h0.45M247.1,75.2h0.45M210.3,78.3h0.45M210.1,77.2h0.45M207.8,65.7h0.45M242.9,83.1h0.45M214.9,72.4h0.45M240.9,73.0h0.45M233.3,83.1h0.45M233.7,84.2h0.45M212.8,67.6h0.45M222.8,75.7h0.45M233.4,74.1h0.45M203.5,75.4h0.45M244.7,62.6h0.45M220.2,87.0h0.45M241.5,81.6h0.45M240.9,74.5h0.45M226.8,75.3h0.45M202.8,81.4h0.45M197.6,97.7h0.45M248.2,91.4h0.45M212.7,75.4h0.45M228.2,91.3h0.45M219.3,74.1h0.45M225.3,93.5h0.45M217.1,95.2h0.45M224.3,73.0h0.45M220.4,72.2h0.45M225.7,75.5h0.45M213.0,81.4h0.45M215.4,77.8h0.45M233.9,88.4h0.45M223.2,79.8h0.45M216.4,75.2h0.45M231.9,92.0h0.45M217.6,69.8h0.45M207.1,83.2h0.45M229.7,72.0h0.45M235.2,89.5h0.45M220.8,75.1h0.45M217.7,79.8h0.45M197.2,59.9h0.45M219.9,81.6h0.45M234.6,53.8h0.45M238.9,58.8h0.45M227.7,80.8h0.45M206.5,81.6h0.45M219.6,76.1h0.45M224.5,65.2h0.45M209.3,59.7h0.45M228.9,83.7h0.45M210.8,66.7h0.45M222.3,68.8h0.45M226.5,85.6h0.45M207.9,79.4h0.45M216.1,87.4h0.45M200.6,90.3h0.45M219.9,79.3h0.45M216.4,56.9h0.45M225.1,89.0h0.45M232.2,77.7h0.45M206.9,62.5h0.45M231.5,77.2h0.45M225.4,73.8h0.45M213.4,82.8h0.45M207.5,88.1h0.45M226.3,86.4h0.45M228.9,92.1h0.45M221.4,86.1h0.45M228.1,83.1h0.45M222.6,64.7h0.45M234.5,96.5h0.45M227.3,90.1h0.45M219.1,63.9h0.45M245.1,79.0h0.45M212.2,83.9h0.45M211.9,87.3h0.45M231.0,76.7h0.45M229.0,65.1h0.45M232.2,78.1h0.45M212.7,81.1h0.45M220.0,81.4h0.45M232.3,83.2h0.45M221.7,77.3h0.45M222.2,88.8h0.45M205.0,85.0h0.45M226.5,59.8h0.45M216.6,78.9h0.45M239.0,81.1h0.45M216.1,82.8h0.45M228.6,83.5h0.45M252.3,81.9h0.45M207.7,90.7h0.45M213.4,98.9h0.45M229.9,77.5h0.45M223.5,81.5h0.45M237.1,87.5h0.45M225.5,68.5h0.45M225.4,88.0h0.45M225.5,76.5h0.45M210.4,99.9h0.45M223.9,79.9h0.45M223.6,74.5h0.45M215.3,104.3h0.45M212.2,74.5h0.45M207.3,76.4h0.45M227.2,75.1h0.45M241.7,89.4h0.45M216.7,69.5h0.45M244.8,75.5h0.45M221.3,92.8h0.45M235.2,79.7h0.45M226.3,80.0h0.45M224.4,74.4h0.45M233.9,81.4h0.45M227.4,76.4h0.45M211.3,90.2h0.45M226.9,72.9h0.45M225.2,60.8h0.45M222.4,90.0h0.45M228.3,75.8h0.45M221.6,75.6h0.45M220.9,77.8h0.45M207.1,69.5h0.45M223.2,79.9h0.45M232.4,83.3h0.45M224.9,66.6h0.45M231.6,62.8h0.45M217.2,80.6h0.45M213.3,90.0h0.45M236.3,68.3h0.45M211.7,82.1h0.45M222.9,101.3h0.45M231.8,103.2h0.45M207.6,67.4h0.45M213.4,65.6h0.45M209.3,97.0h0.45M228.0,89.2h0.45M230.9,79.4h0.45M216.4,89.1h0.45M242.6,61.8h0.45M238.4,85.5h0.45M214.0,66.6h0.45M223.3,76.0h0.45M229.9,78.2h0.45M209.2,80.3h0.45M217.6,90.7h0.45M236.0,83.5h0.45M235.4,79.4h0.45M221.5,101.3h0.45M203.2,89.8h0.45M246.5,93.3h0.45M215.9,90.8h0.45M225.0,85.0h0.45M218.1,75.9h0.45M237.3,71.9h0.45M210.6,69.7h0.45M208.5,84.7h0.45M241.2,98.4h0.45M200.4,72.4h0.45M231.2,85.2h0.45M222.6,91.9h0.45M234.2,76.5h0.45M202.3,77.4h0.45M232.0,85.7h0.45M233.8,85.5h0.45M199.8,66.9h0.45M242.0,89.6h0.45M236.0,91.4h0.45M221.7,90.5h0.45M215.1,86.6h0.45M223.7,65.7h0.45M203.2,67.4h0.45M229.2,81.6h0.45M221.8,78.5h0.45M224.6,97.5h0.45M219.6,69.3h0.45M221.4,69.5h0.45M232.9,82.7h0.45M226.6,89.0h0.45M209.9,71.0h0.45M220.0,68.1h0.45M224.7,67.6h0.45M210.5,68.8h0.45M235.6,90.2h0.45M236.5,85.5h0.45M229.1,76.3h0.45M220.8,80.4h0.45M234.8,59.0h0.45M235.6,90.0h0.45M223.5,98.3h0.45M231.9,82.1h0.45M225.8,88.3h0.45M213.7,95.4h0.45M201.3,72.5h0.45M224.1,72.6h0.45M203.4,90.3h0.45M193.7,88.2h0.45M221.4,82.6h0.45M229.9,65.3h0.45M215.6,53.1h0.45M199.0,81.6h0.45M247.4,82.3h0.45M216.0,88.2h0.45M229.5,91.4h0.45M239.8,87.6h0.45M225.8,62.7h0.45M218.1,75.2h0.45M218.3,84.4h0.45M225.2,72.6h0.45M232.4,81.0h0.45M215.4,83.6h0.45M219.3,85.8h0.45M239.7,63.4h0.45M225.8,76.7h0.45M228.1,93.5h0.45M246.7,79.8h0.45M215.4,100.3h0.45M234.6,83.6h0.45M237.5,69.1h0.45M233.5,85.4h0.45M225.7,69.2h0.45M229.8,106.2h0.45M207.0,96.3h0.45M228.4,87.3h0.45M219.6,104.6h0.45M225.8,74.7h0.45M218.1,91.2h0.45M238.2,60.8h0.45M208.3,74.2h0.45M194.7,71.2h0.45M215.5,87.8h0.45M238.0,77.5h0.45M234.8,50.9h0.45M216.5,71.7h0.45M229.1,78.0h0.45M239.6,76.0h0.45M222.3,64.0h0.45M239.2,66.4h0.45M243.6,80.6h0.45M246.7,89.7h0.45M207.9,76.3h0.45M215.6,71.4h0.45M224.5,81.3h0.45M216.4,71.7h0.45M231.9,77.7h0.45M220.5,101.8h0.45M225.6,75.3h0.45M228.3,88.6h0.45M233.5,81.1h0.45M208.5,81.8h0.45M246.3,79.8h0.45M224.0,68.1h0.45M216.4,76.6h0.45M212.2,85.8h0.45M217.0,65.3h0.45M209.4,77.4h0.45M191.7,96.9h0.45M234.0,81.6h0.45M212.7,69.4h0.45M217.8,97.1h0.45M229.2,89.1h0.45M236.9,68.1h0.45M203.8,76.6h0.45M208.6,83.7h0.45M222.4,80.5h0.45M218.9,69.1h0.45M229.4,69.7h0.45M226.0,63.7h0.45M212.3,72.7h0.45M235.6,97.2h0.45M226.2,90.7h0.45M226.3,97.0h0.45M206.0,77.6h0.45M229.6,92.3h0.45M216.8,69.8h0.45M222.0,71.0h0.45M208.3,63.8h0.45M215.2,86.9h0.45M228.5,82.0h0.45M228.6,73.8h0.45M237.8,67.0h0.45M215.6,78.9h0.45M200.7,79.8h0.45M242.9,79.4h0.45M232.9,71.9h0.45M221.7,69.7h0.45M215.8,55.8h0.45M236.5,91.2h0.45M226.5,83.1h0.45M225.8,85.2h0.45M233.5,92.3h0.45M220.7,78.7h0.45M235.3,82.2h0.45M232.5,84.2h0.45M232.4,73.8h0.45M220.6,76.8h0.45M222.3,91.9h0.45M224.6,86.6h0.45M230.0,88.6h0.45M250.4,78.9h0.45M213.4,71.6h0.45M222.7,90.4h0.45M216.1,82.2h0.45M221.0,66.3h0.45M207.0,66.6h0.45M219.3,84.1h0.45M218.0,97.2h0.45M220.3,75.3h0.45M211.0,79.8h0.45M227.7,88.6h0.45M225.3,79.7h0.45M222.7,91.0h0.45M212.6,66.0h0.45M209.7,72.6h0.45M236.8,83.9h0.45M233.1,86.9h0.45M222.2,95.0h0.45M211.6,79.5h0.45M219.8,70.0h0.45M219.2,82.6h0.45M229.4,93.4h0.45M210.6,74.4h0.45M231.3,79.2h0.45M233.0,62.5h0.45M229.6,78.3h0.45M224.0,87.4h0.45M220.3,64.8h0.45M217.4,67.4h0.45M246.2,59.7h0.45M228.1,65.4h0.45M229.3,71.3h0.45M204.4,73.7h0.45M232.3,95.8h0.45M244.0,102.1h0.45M225.9,85.4h0.45M227.0,79.5h0.45M216.0,77.3h0.45M225.3,68.9h0.45M216.1,69.8h0.45M226.8,79.8h0.45M227.0,82.0h0.45M230.9,65.8h0.45M218.0,79.6h0.45M245.0,63.1h0.45M222.2,61.2h0.45M237.4,75.0h0.45M224.1,81.0h0.45M224.4,86.9h0.45M234.9,90.6h0.45M207.6,66.0h0.45M224.3,80.9h0.45M230.9,68.6h0.45M221.6,73.2h0.45M228.1,74.3h0.45M244.8,81.2h0.45M220.2,81.7h0.45M239.2,74.6h0.45M210.1,83.2h0.45M226.6,76.0h0.45M230.1,89.7h0.45M225.0,105.3h0.45M218.4,77.1h0.45M205.6,96.4h0.45M234.5,88.3h0.45M213.4,101.0h0.45M250.8,79.2h0.45M203.1,84.6h0.45M211.9,76.6h0.45M238.6,75.4h0.45M232.1,84.5h0.45M232.4,87.2h0.45M224.4,77.3h0.45M222.1,61.3h0.45M233.8,71.6h0.45M217.1,65.1h0.45M221.3,70.2h0.45M228.0,72.0h0.45M229.1,77.2h0.45M226.1,66.4h0.45M225.2,64.9h0.45M223.6,60.4h0.45M222.8,79.0h0.45M231.7,80.6h0.45M230.6,85.5h0.45M213.3,74.4h0.45M193.6,87.0h0.45M240.3,64.7h0.45M221.8,78.6h0.45M213.1,71.8h0.45M234.0,74.7h0.45M226.9,72.2h0.45M214.2,92.0h0.45M210.8,79.4h0.45M226.4,78.3h0.45M253.0,71.3h0.45M224.9,67.7h0.45M224.7,54.8h0.45M210.8,65.8h0.45M229.6,73.2h0.45M236.1,48.2h0.45M223.5,68.2h0.45M218.9,86.5h0.45M225.3,82.8h0.45M213.5,72.2h0.45M227.4,68.7h0.45M221.0,83.4h0.45M226.4,70.3h0.45M222.1,73.3h0.45M213.8,85.1h0.45M223.1,86.4h0.45M244.1,79.0h0.45M239.8,80.4h0.45M219.1,87.6h0.45M223.7,75.4h0.45M233.3,74.6h0.45M225.4,87.1h0.45M215.2,77.1h0.45M217.5,63.2h0.45M219.7,66.4h0.45M203.8,78.6h0.45M216.2,77.8h0.45M221.2,87.8h0.45M237.9,86.4h0.45M225.0,84.7h0.45M203.9,84.5h0.45M227.3,81.5h0.45M216.0,84.9h0.45M236.5,66.1h0.45M225.4,67.6h0.45M201.0,77.4h0.45M225.3,79.9h0.45M221.2,82.5h0.45M231.2,66.7h0.45M207.1,78.4h0.45M233.6,91.0h0.45M214.3,72.0h0.45M239.7,88.8h0.45M225.3,77.8h0.45M223.9,71.2h0.45M254.7,74.1h0.45M212.2,77.4h0.45M234.0,76.5h0.45M204.3,88.6h0.45M220.1,88.1h0.45M215.5,82.0h0.45M238.5,86.3h0.45M236.3,77.0h0.45M229.0,80.8h0.45M216.4,90.3h0.45M226.6,64.0h0.45M209.5,89.8h0.45M227.2,72.8h0.45M231.7,74.6h0.45M220.1,84.2h0.45M231.8,99.5h0.45M240.6,82.4h0.45M216.1,83.9h0.45M224.7,98.3h0.45M233.9,73.4h0.45M212.9,89.8h0.45M238.8,80.4h0.45M210.3,74.7h0.45M223.8,72.7h0.45M208.3,67.1h0.45M235.5,65.7h0.45M229.3,66.1h0.45M202.4,67.4h0.45M229.9,94.4h0.45M214.8,57.8h0.45M245.4,86.7h0.45M238.4,66.2h0.45M231.9,68.3h0.45M238.5,75.9h0.45M214.7,67.5h0.45M233.8,69.7h0.45M210.9,75.8h0.45M219.8,69.4h0.45M240.9,90.5h0.45M234.7,58.0h0.45M202.7,62.5h0.45M221.6,78.3h0.45M234.9,77.1h0.45M248.0,77.6h0.45M240.4,72.0h0.45M208.3,81.0h0.45M228.2,80.5h0.45M229.5,86.5h0.45M225.3,75.8h0.45M236.9,74.2h0.45M221.9,77.2h0.45M204.3,79.7h0.45M212.9,76.0h0.45M219.3,81.8h0.45M239.3,89.1h0.45M226.3,92.0h0.45M207.4,87.8h0.45M241.3,68.6h0.45M231.7,69.7h0.45M218.6,79.9h0.45M223.8,77.3h0.45M206.1,73.6h0.45M231.3,78.8h0.45M226.3,58.6h0.45M214.2,95.5h0.45M240.5,79.1h0.45M207.3,76.8h0.45M236.6,79.1h0.45M232.3,65.0h0.45M226.6,85.0h0.45M217.1,72.0h0.45M238.1,77.3h0.45M220.0,75.7h0.45M223.5,66.0h0.45M217.9,95.7h0.45M219.3,88.7h0.45M226.8,78.6h0.45M231.7,87.5h0.45M232.2,73.7h0.45M223.7,87.2h0.45M218.0,101.2h0.45M205.0,68.3h0.45M211.2,84.6h0.45M218.1,88.7h0.45M219.2,73.0h0.45M216.4,81.3h0.45M239.9,76.1h0.45M226.9,72.6h0.45M219.3,85.1h0.45M232.1,70.7h0.45M216.1,94.3h0.45M207.5,84.2h0.45M213.9,86.0h0.45M242.8,71.7h0.45M229.3,67.9h0.45M228.5,84.1h0.45M224.4,86.5h0.45M226.0,83.9h0.45M222.8,51.6h0.45M206.6,81.6h0.45M228.3,79.7h0.45M238.7,76.6h0.45M217.1,74.7h0.45M236.8,86.9h0.45M248.2,88.7h0.45M240.2,71.9h0.45M238.9,76.0h0.45M227.2,80.9h0.45M226.7,79.2h0.45M221.4,71.4h0.45M223.9,93.0h0.45M232.8,72.2h0.45M243.5,78.0h0.45M205.4,68.3h0.45M200.2,87.3h0.45M224.3,75.3h0.45M225.6,80.2h0.45M243.1,70.8h0.45M223.7,77.5h0.45M240.7,68.7h0.45M226.2,85.6h0.45M215.6,78.7h0.45M217.3,94.0h0.45M215.6,92.6h0.45M220.4,66.0h0.45M225.0,67.7h0.45M211.6,87.0h0.45M230.6,98.6h0.45M222.8,76.8h0.45M215.6,90.1h0.45M217.2,77.9h0.45M225.6,60.3h0.45M221.4,81.2h0.45M229.0,71.0h0.45M228.3,53.0h0.45M218.2,82.1h0.45M233.4,96.1h0.45M231.2,78.3h0.45M231.3,96.7h0.45M227.0,89.0h0.45M236.7,67.9h0.45M219.2,80.2h0.45M210.7,76.7h0.45M238.9,81.7h0.45M222.4,75.7h0.45M228.1,78.4h0.45M211.8,83.7h0.45M207.6,69.6h0.45M237.0,79.2h0.45M231.0,77.6h0.45M207.6,79.4h0.45M203.4,104.2h0.45M206.8,84.7h0.45M221.1,66.2h0.45M233.3,76.7h0.45M212.6,53.9h0.45M219.7,98.5h0.45M239.2,63.7h0.45M236.9,81.7h0.45M228.6,91.3h0.45M209.4,72.2h0.45M244.2,75.6h0.45M220.0,65.6h0.45M222.3,88.0h0.45M244.3,87.5h0.45M223.3,76.8h0.45M234.2,79.2h0.45M220.3,59.4h0.45M214.7,77.4h0.45M220.9,78.4h0.45M236.4,56.5h0.45M227.8,78.3h0.45M203.5,82.8h0.45M222.8,60.8h0.45M224.3,83.8h0.45M219.9,85.4h0.45M215.9,80.7h0.45M223.4,85.2h0.45M210.8,104.7h0.45M206.9,94.8h0.45M225.2,80.3h0.45M236.4,71.8h0.45M207.7,91.2h0.45M246.8,107.2h0.45M231.4,53.6h0.45M229.9,89.2h0.45M228.3,87.8h0.45M235.5,87.2h0.45M222.4,65.9h0.45M216.8,87.2h0.45M238.3,95.1h0.45M229.7,70.0h0.45M231.4,68.8h0.45M231.4,69.8h0.45M233.2,87.4h0.45M217.7,85.3h0.45M231.0,76.8h0.45M226.5,79.8h0.45M204.9,75.5h0.45M252.5,85.7h0.45M203.9,84.6h0.45M231.2,82.7h0.45M232.8,92.0h0.45M247.9,95.6h0.45M227.2,62.5h0.45M205.1,88.5h0.45M228.0,80.1h0.45M240.8,68.5h0.45M210.7,72.4h0.45M226.4,69.0h0.45M224.9,76.9h0.45M222.6,77.7h0.45M206.6,86.9h0.45M234.9,61.4h0.45M217.9,84.7h0.45M226.6,63.6h0.45M224.2,72.2h0.45M239.0,87.6h0.45M241.1,72.2h0.45M231.4,72.8h0.45M231.9,78.7h0.45M212.4,72.9h0.45M222.0,88.4h0.45M208.4,105.9h0.45M228.8,82.0h0.45M228.0,76.0h0.45M223.4,94.3h0.45M208.0,83.9h0.45M235.4,93.7h0.45M205.8,83.9h0.45M203.7,74.6h0.45M225.6,80.7h0.45M220.9,86.5h0.45M234.4,82.5h0.45M215.4,76.2h0.45M228.6,87.1h0.45M225.9,67.0h0.45M218.4,82.3h0.45M208.5,77.2h0.45M218.8,89.0h0.45M236.6,69.5h0.45M240.6,96.7h0.45M218.7,78.1h0.45M217.5,72.2h0.45M206.9,51.7h0.45M225.7,97.0h0.45M210.4,86.1h0.45M216.4,81.3h0.45M221.4,85.0h0.45M230.0,86.4h0.45M233.3,93.9h0.45M211.9,74.1h0.45M237.0,70.4h0.45M235.8,81.6h0.45M237.7,82.6h0.45M223.3,80.9h0.45M205.3,85.2h0.45M225.5,90.9h0.45M230.3,70.1h0.45M224.4,85.5h0.45M225.1,90.3h0.45M225.3,82.1h0.45M207.7,88.2h0.45M238.2,73.9h0.45M213.6,77.3h0.45M245.9,99.6h0.45M226.3,70.1h0.45M216.6,67.5h0.45M213.7,86.0h0.45M227.6,75.4h0.45M229.2,85.4h0.45M244.7,72.4h0.45M243.9,92.8h0.45M217.2,87.0h0.45M219.5,93.3h0.45M229.9,76.4h0.45M238.5,83.8h0.45M215.5,80.3h0.45M236.9,83.7h0.45M219.0,78.9h0.45M233.4,96.2h0.45M219.2,87.2h0.45M234.2,92.2h0.45M242.4,70.5h0.45M225.2,83.9h0.45M232.5,91.4h0.45M234.8,72.4h0.45M212.2,81.0h0.45M231.6,65.6h0.45M221.3,83.6h0.45M225.9,91.0h0.45M213.6,84.3h0.45M222.8,101.6h0.45M205.7,92.6h0.45M206.8,85.6h0.45M226.6,67.6h0.45M215.3,82.7h0.45M234.7,83.8h0.45M210.5,75.5h0.45M242.9,78.1h0.45M199.9,71.9h0.45M208.1,66.3h0.45M237.2,73.8h0.45M217.7,81.1h0.45M220.0,74.0h0.45M205.5,71.4h0.45M230.1,84.8h0.45M217.6,67.0h0.45M213.4,84.5h0.45M218.0,78.2h0.45M233.8,66.2h0.45M213.8,71.0h0.45M240.1,75.7h0.45M219.9,63.4h0.45M232.5,81.5h0.45M225.0,77.7h0.45M202.9,83.6h0.45M236.4,74.9h0.45M224.6,86.4h0.45M215.5,80.7h0.45M239.6,66.8h0.45M245.2,90.2h0.45M206.9,65.6h0.45M229.0,81.7h0.45M215.5,94.0h0.45M235.9,89.7h0.45M204.9,76.0h0.45M248.6,64.6h0.45M227.2,85.8h0.45M233.3,75.4h0.45M204.9,75.0h0.45M236.4,88.9h0.45M218.2,86.0h0.45M234.0,72.3h0.45M215.3,78.5h0.45M226.3,99.5h0.45M228.6,77.8h0.45M239.5,74.3h0.45M212.7,80.0h0.45M211.4,55.0h0.45M227.9,68.5h0.45M212.9,80.9h0.45M237.9,80.7h0.45M220.1,64.8h0.45M218.0,80.1h0.45M234.9,90.1h0.45M234.0,76.4h0.45M213.8,69.8h0.45M227.7,66.6h0.45M221.0,86.9h0.45M227.7,80.1h0.45M211.4,83.8h0.45M228.5,86.7h0.45M220.7,75.6h0.45M210.6,64.9h0.45M225.0,79.4h0.45M220.9,70.6h0.45M240.6,65.8h0.45M230.0,75.1h0.45M224.7,80.2h0.45M215.0,88.0h0.45M224.4,80.8h0.45M223.4,71.0h0.45M252.9,75.6h0.45M217.5,104.1h0.45M211.3,86.7h0.45M250.1,84.0h0.45M228.5,83.6h0.45M206.0,88.2h0.45M237.1,80.8h0.45M214.0,85.9h0.45M239.5,82.4h0.45M215.1,82.4h0.45M215.1,62.0h0.45M230.4,71.5h0.45M203.4,83.0h0.45M223.0,81.1h0.45M232.5,75.5h0.45M226.3,84.3h0.45M232.7,70.4h0.45M215.3,90.1h0.45M244.8,82.4h0.45M226.2,61.8h0.45M238.1,82.8h0.45M216.1,85.9h0.45M218.4,77.4h0.45M224.0,85.8h0.45M245.8,81.1h0.45M214.1,83.2h0.45M216.3,69.1h0.45M211.7,73.8h0.45M198.8,80.6h0.45M215.4,89.9h0.45M208.8,76.3h0.45M209.0,77.8h0.45M218.7,87.5h0.45M226.4,83.5h0.45M214.4,77.3h0.45M214.0,71.4h0.45M212.2,73.1h0.45M220.2,61.4h0.45M226.0,75.2h0.45M221.3,94.8h0.45M259.5,58.5h0.45M215.5,75.9h0.45M212.1,81.9h0.45M221.9,81.8h0.45M228.3,86.9h0.45M227.7,81.4h0.45M217.9,82.3h0.45M232.8,76.4h0.45M223.9,81.0h0.45M226.3,64.2h0.45M223.4,81.3h0.45M206.8,79.2h0.45M225.2,61.0h0.45M245.3,82.8h0.45M237.3,76.7h0.45M225.5,69.5h0.45M220.1,77.4h0.45M229.6,95.1h0.45M203.5,76.8h0.45M236.7,77.0h0.45M208.0,94.1h0.45M242.3,88.5h0.45M226.6,80.2h0.45M220.3,87.3h0.45M234.8,66.9h0.45M238.0,75.6h0.45M226.9,78.2h0.45M227.9,81.0h0.45M241.2,74.7h0.45M228.1,90.3h0.45M238.4,62.8h0.45M241.2,91.5h0.45M233.1,73.6h0.45M202.5,80.5h0.45M227.8,61.9h0.45M220.6,76.7h0.45M222.6,92.9h0.45M203.6,76.7h0.45M215.2,87.5h0.45M240.9,96.2h0.45M221.0,103.6h0.45M227.0,104.7h0.45M210.5,69.7h0.45M221.8,74.8h0.45M200.6,80.4h0.45M197.9,71.9h0.45M227.4,65.5h0.45M222.4,74.4h0.45M216.2,85.9h0.45M211.3,90.0h0.45M207.2,84.2h0.45M218.1,79.9h0.45M211.4,74.5h0.45M219.1,78.3h0.45M221.5,97.2h0.45M225.1,65.4h0.45M235.8,87.8h0.45M204.5,96.5h0.45M223.5,81.8h0.45M218.9,76.4h0.45M222.8,82.9h0.45M238.9,87.5h0.45M229.2,78.7h0.45M211.6,73.3h0.45M233.9,83.7h0.45M215.5,79.1h0.45M241.6,86.1h0.45M228.8,94.0h0.45M225.2,66.8h0.45M221.9,76.4h0.45M231.3,77.1h0.45M220.5,79.0h0.45M215.6,69.6h0.45M206.0,85.4h0.45M224.1,77.0h0.45M228.8,83.2h0.45M198.1,75.8h0.45M200.7,96.6h0.45M210.7,92.8h0.45M215.1,74.0h0.45M211.7,59.2h0.45M238.5,61.9h0.45M218.5,73.6h0.45M222.1,91.7h0.45M202.6,79.9h0.45M215.4,81.6h0.45M221.1,71.5h0.45M237.7,80.4h0.45M220.0,77.8h0.45M218.5,84.2h0.45M224.8,75.6h0.45M216.5,58.5h0.45M211.2,80.6h0.45M224.7,71.5h0.45M240.7,89.8h0.45M215.5,87.9h0.45M209.6,83.5h0.45M221.6,60.6h0.45M236.8,60.4h0.45M227.0,77.6h0.45M234.4,88.8h0.45M225.8,47.0h0.45M210.2,105.7h0.45M231.5,69.5h0.45M236.7,93.0h0.45M222.0,84.2h0.45M233.7,99.4h0.45M214.3,82.4h0.45M206.6,87.5h0.45M219.0,55.1h0.45M232.9,89.5h0.45M245.4,82.5h0.45M203.9,64.0h0.45M238.4,80.1h0.45M209.7,76.7h0.45M217.2,92.3h0.45M233.1,68.0h0.45M227.6,90.7h0.45M217.1,77.8h0.45M211.1,85.8h0.45M205.9,75.6h0.45M222.3,75.5h0.45M229.0,80.3h0.45M230.5,90.8h0.45M236.1,106.4h0.45M217.3,92.3h0.45M214.7,72.7h0.45M215.7,85.2h0.45M216.2,74.4h0.45M220.6,78.1h0.45M246.4,79.1h0.45M219.3,79.7h0.45M214.1,70.1h0.45M224.1,85.4h0.45M218.2,73.4h0.45M234.1,61.8h0.45M208.3,79.2h0.45M246.3,74.9h0.45M241.1,77.9h0.45M198.5,95.8h0.45M232.8,72.6h0.45M217.8,93.0h0.45M223.8,90.4h0.45M232.6,76.4h0.45M220.2,88.3h0.45M248.0,81.7h0.45M207.5,82.3h0.45M208.3,79.2h0.45M227.6,74.8h0.45M216.8,73.4h0.45M228.3,85.4h0.45M222.5,75.4h0.45M204.5,57.2h0.45M219.7,87.1h0.45M202.3,81.2h0.45M225.9,87.2h0.45M233.8,79.5h0.45M241.8,81.2h0.45M208.2,76.4h0.45M223.8,89.8h0.45M225.3,81.8h0.45M209.9,75.7h0.45M229.2,60.5h0.45M231.2,85.6h0.45M216.7,84.1h0.45M233.0,87.6h0.45M235.2,71.8h0.45M218.3,68.4h0.45M201.4,86.4h0.45M226.8,65.0h0.45M230.9,84.3h0.45M220.7,74.7h0.45M233.2,78.0h0.45M215.7,86.1h0.45M232.6,92.6h0.45M233.3,63.4h0.45M220.5,84.4h0.45M205.9,69.7h0.45M211.8,83.5h0.45M210.4,90.6h0.45M229.4,92.0h0.45M222.4,86.0h0.45M211.1,71.7h0.45M227.0,80.2h0.45M231.2,84.4h0.45M226.8,55.6h0.45M241.7,70.7h0.45M234.8,68.4h0.45M232.4,89.0h0.45M218.1,74.6h0.45M208.8,73.9h0.45M221.0,71.1h0.45M209.6,55.3h0.45M216.7,79.5h0.45M241.1,68.8h0.45M206.6,77.9h0.45M222.1,94.3h0.45M234.6,81.7h0.45M226.5,78.9h0.45M230.1,92.2h0.45M192.8,75.0h0.45M232.7,66.8h0.45M204.2,85.4h0.45M210.1,71.9h0.45M226.2,93.0h0.45M208.5,87.4h0.45M222.4,70.2h0.45M227.4,73.7h0.45M220.1,100.9h0.45M227.4,82.0h0.45M235.8,59.0h0.45M240.1,83.0h0.45M224.5,70.5h0.45M233.2,74.1h0.45M214.3,63.2h0.45M237.0,71.1h0.45M217.2,83.0h0.45M229.5,95.3h0.45M216.4,66.2h0.45M218.4,69.8h0.45M213.9,68.2h0.45M227.2,88.5h0.45M229.5,56.9h0.45M200.8,90.0h0.45M206.2,88.0h0.45M212.1,75.1h0.45M251.6,85.2h0.45M218.1,99.3h0.45M218.0,71.9h0.45M228.6,93.7h0.45M230.7,96.8h0.45M238.1,92.7h0.45M226.4,75.8h0.45M215.0,78.0h0.45M216.1,76.3h0.45M203.2,59.4h0.45M253.3,95.7h0.45M224.2,89.0h0.45M231.9,78.3h0.45M209.4,91.0h0.45M229.1,67.3h0.45M230.7,76.9h0.45M248.1,54.1h0.45M228.6,69.3h0.45M223.1,60.0h0.45M225.4,77.1h0.45M204.1,82.8h0.45M224.7,67.7h0.45M235.3,76.6h0.45M223.3,90.9h0.45M207.3,79.9h0.45M231.3,64.2h0.45M241.9,85.9h0.45M213.0,94.7h0.45M219.5,72.7h0.45M211.6,85.2h0.45M221.4,81.5h0.45M226.3,76.3h0.45M222.7,76.5h0.45M229.8,82.8h0.45M211.6,73.4h0.45M211.2,80.5h0.45M238.6,78.6h0.45M240.9,61.9h0.45M224.8,90.2h0.45M211.3,76.4h0.45M221.3,76.1h0.45M215.8,118.3h0.45M205.3,81.9h0.45M213.4,80.9h0.45M223.2,81.7h0.45M218.5,79.5h0.45M218.3,78.6h0.45M219.0,78.6h0.45M237.9,88.5h0.45M198.9,75.0h0.45M204.9,94.1h0.45M217.6,100.7h0.45M222.0,69.7h0.45M234.4,50.7h0.45M235.8,88.8h0.45M222.0,63.6h0.45M208.8,76.9h0.45M198.4,77.7h0.45M230.1,65.6h0.45M208.9,92.8h0.45M220.8,74.4h0.45M225.8,62.3h0.45M222.0,82.8h0.45M239.9,84.5h0.45M204.3,89.7h0.45M212.4,76.7h0.45M233.8,87.3h0.45M215.1,62.8h0.45M235.3,79.8h0.45M226.1,84.1h0.45M223.5,97.8h0.45M223.4,91.0h0.45M231.8,71.2h0.45M226.3,76.4h0.45M221.5,85.4h0.45M222.8,69.3h0.45M238.8,76.2h0.45M241.0,82.6h0.45M233.2,79.1h0.45M207.7,78.3h0.45M222.2,75.9h0.45M200.9,82.2h0.45M217.7,72.7h0.45M231.7,88.2h0.45M212.9,70.1h0.45M229.3,85.6h0.45M229.4,77.7h0.45M242.4,80.0h0.45M217.8,67.8h0.45M231.8,74.4h0.45M228.1,88.2h0.45M218.8,88.7h0.45M236.2,78.7h0.45M211.0,63.4h0.45M210.7,68.2h0.45M217.5,85.1h0.45M226.1,75.0h0.45M234.0,77.4h0.45M245.3,76.3h0.45M228.0,68.7h0.45M229.8,84.8h0.45M227.8,84.9h0.45M240.3,93.1h0.45M219.6,69.1h0.45M219.1,76.7h0.45M236.9,68.3h0.45M212.4,83.2h0.45M215.8,76.3h0.45M215.0,94.8h0.45M225.4,70.6h0.45M230.4,84.2h0.45M234.8,77.2h0.45M225.0,69.2h0.45M229.1,65.9h0.45M225.9,91.1h0.45M233.8,62.9h0.45M224.3,80.3h0.45M223.3,85.3h0.45M241.3,85.2h0.45M238.7,67.8h0.45M236.7,92.2h0.45M212.0,73.4h0.45M203.2,78.1h0.45M226.0,98.6h0.45M215.5,73.5h0.45M220.2,90.3h0.45M221.9,79.1h0.45M211.7,85.1h0.45M219.0,71.7h0.45M220.6,76.2h0.45M224.2,88.0h0.45M237.3,104.1h0.45M226.0,85.9h0.45M238.6,71.8h0.45M225.2,80.7h0.45M246.4,88.1h0.45M211.5,55.6h0.45M226.0,65.2h0.45M212.2,66.3h0.45M220.5,72.4h0.45M243.1,77.4h0.45M232.2,59.2h0.45M236.4,68.2h0.45M222.5,76.9h0.45M234.0,75.2h0.45M231.3,77.7h0.45M226.5,94.5h0.45M243.5,71.9h0.45M224.4,83.7h0.45M219.0,100.7h0.45M217.8,77.6h0.45M227.5,88.2h0.45M213.6,66.1h0.45M225.0,89.4h0.45M211.0,76.0h0.45M213.4,68.7h0.45M221.8,67.0h0.45M223.5,88.3h0.45M223.4,87.8h0.45" stroke="#2a2a2a" stroke-width="0.45" fill="none" opacity="0.65"/>
<path d="M246.9,89.6h0.45M233.7,94.3h0.45M237.2,88.1h0.45M226.3,107.5h0.45M248.3,116.0h0.45M241.4,98.5h0.45M246.4,71.4h0.45M236.2,106.0h0.45M243.0,101.6h0.45M243.0,97.4h0.45M236.6,89.2h0.45M224.0,77.4h0.45M251.9,86.6h0.45M233.9,97.4h0.45M248.6,95.4h0.45M247.0,97.1h0.45M231.6,112.3h0.45M250.6,84.5h0.45M234.3,81.8h0.45M243.7,88.9h0.45M217.7,110.5h0.45M246.7,93.1h0.45M251.6,92.3h0.45M248.0,87.1h0.45M250.1,81.7h0.45M260.5,96.7h0.45M247.8,101.2h0.45M240.1,93.0h0.45M235.0,91.5h0.45M242.1,97.2h0.45M235.6,87.1h0.45M249.3,78.3h0.45M258.0,88.5h0.45M243.6,102.0h0.45M263.0,87.3h0.45M224.9,89.0h0.45M221.3,81.3h0.45M219.9,98.3h0.45M238.4,91.9h0.45M246.6,97.0h0.45M225.9,99.0h0.45M233.9,81.1h0.45M235.6,81.3h0.45M231.3,77.0h0.45M231.9,90.7h0.45M234.4,100.3h0.45M235.2,88.5h0.45M248.1,98.9h0.45M242.0,91.7h0.45M231.8,79.5h0.45M242.7,102.3h0.45M251.4,113.8h0.45M240.4,95.0h0.45M241.6,96.6h0.45M227.1,86.0h0.45M240.5,87.9h0.45M248.3,81.5h0.45M256.1,80.3h0.45M238.6,75.2h0.45M242.7,98.3h0.45M241.4,83.6h0.45M249.4,90.0h0.45M228.6,95.8h0.45M245.4,102.3h0.45M238.9,86.4h0.45M236.7,83.0h0.45M244.2,88.0h0.45M237.0,93.7h0.45M246.1,104.7h0.45M245.0,82.3h0.45M252.2,112.4h0.45M241.2,91.4h0.45M227.5,89.8h0.45M228.3,103.1h0.45M221.9,87.2h0.45M245.3,82.2h0.45M231.2,107.3h0.45M218.9,86.9h0.45M260.7,100.5h0.45M223.7,85.5h0.45M223.5,97.7h0.45M232.5,87.7h0.45M226.9,100.7h0.45M209.7,76.9h0.45M243.6,79.7h0.45M250.6,91.0h0.45M248.2,92.7h0.45M241.1,90.7h0.45M243.3,76.9h0.45M224.0,98.7h0.45M250.5,93.3h0.45M228.4,88.6h0.45M248.5,97.1h0.45M227.8,105.8h0.45M222.2,86.0h0.45M217.7,95.1h0.45M260.5,91.4h0.45M235.1,88.7h0.45M237.6,96.9h0.45M246.4,94.2h0.45M253.2,76.9h0.45M236.3,94.3h0.45M237.3,107.8h0.45M239.3,81.3h0.45M238.3,101.4h0.45M255.6,94.1h0.45M247.9,95.3h0.45M238.3,75.1h0.45M247.2,83.0h0.45M246.8,97.8h0.45M240.8,106.9h0.45M241.6,104.6h0.45M232.5,91.6h0.45M264.8,100.4h0.45M226.0,99.7h0.45M237.6,100.3h0.45M226.8,98.9h0.45M243.3,93.8h0.45M229.6,91.8h0.45M254.4,105.4h0.45M232.7,92.3h0.45M254.5,101.7h0.45M233.9,101.8h0.45M238.8,92.4h0.45M231.9,98.6h0.45M244.5,101.1h0.45M244.7,91.4h0.45M231.0,86.1h0.45M244.6,88.7h0.45M243.7,78.7h0.45M239.4,92.4h0.45M235.1,89.0h0.45M231.9,77.7h0.45M258.0,90.3h0.45M246.2,109.8h0.45M237.5,100.1h0.45M260.4,101.3h0.45M236.8,85.2h0.45M237.1,103.3h0.45M239.4,104.9h0.45M235.0,105.4h0.45M253.9,89.7h0.45M244.1,101.0h0.45M226.7,90.2h0.45M232.9,84.0h0.45M252.3,89.7h0.45M238.9,98.7h0.45M249.5,92.5h0.45M241.2,103.6h0.45M238.1,98.6h0.45M238.2,98.4h0.45M242.5,103.7h0.45M241.7,93.9h0.45M226.2,77.6h0.45M260.8,102.2h0.45M223.4,108.6h0.45M227.4,95.0h0.45M251.4,110.9h0.45M257.7,96.2h0.45M239.4,89.8h0.45M230.7,85.5h0.45M225.9,97.4h0.45M240.0,83.9h0.45M255.4,72.4h0.45M242.7,91.6h0.45M234.4,72.3h0.45M245.0,97.4h0.45M230.4,102.8h0.45M235.9,99.0h0.45M235.0,89.3h0.45M236.8,96.9h0.45M236.8,106.6h0.45M243.0,88.6h0.45M229.9,77.7h0.45M254.0,108.6h0.45M244.9,95.1h0.45M230.2,98.6h0.45M236.2,99.6h0.45M233.9,118.0h0.45M243.9,90.1h0.45M248.3,88.6h0.45M230.2,92.7h0.45M235.9,104.7h0.45M252.9,105.6h0.45M246.1,111.8h0.45M254.2,101.0h0.45M253.2,99.3h0.45M252.9,81.4h0.45M234.7,115.7h0.45M238.2,87.7h0.45M238.1,92.9h0.45M247.0,96.8h0.45M226.5,102.3h0.45M256.0,107.4h0.45M250.5,104.5h0.45M241.9,91.5h0.45M240.9,83.0h0.45M234.8,90.2h0.45M243.2,93.3h0.45M251.4,100.0h0.45M230.9,88.8h0.45M222.3,102.3h0.45M248.8,101.4h0.45M238.2,84.6h0.45M235.7,100.1h0.45M247.1,103.7h0.45M236.3,99.9h0.45M260.7,75.1h0.45M236.5,93.2h0.45M247.2,88.2h0.45M250.6,80.0h0.45M244.6,94.0h0.45M229.6,95.5h0.45M252.2,90.0h0.45M230.3,94.9h0.45M234.7,89.3h0.45M254.7,98.3h0.45M250.4,73.0h0.45M229.1,84.6h0.45M234.6,85.6h0.45M240.4,101.5h0.45M254.0,91.5h0.45M240.0,109.4h0.45M226.4,99.8h0.45M244.9,99.7h0.45M244.6,93.7h0.45M251.5,90.5h0.45M243.5,77.3h0.45M251.9,94.3h0.45M221.8,104.4h0.45M234.0,98.0h0.45M243.2,91.8h0.45M251.1,83.1h0.45M242.3,112.8h0.45M246.3,97.1h0.45M226.0,91.9h0.45M239.6,92.2h0.45M237.8,92.1h0.45M236.4,81.9h0.45M232.8,92.2h0.45M234.5,96.1h0.45M251.3,92.2h0.45M231.5,81.1h0.45M254.0,89.7h0.45M229.2,91.0h0.45M240.8,95.8h0.45M225.0,94.8h0.45M239.5,89.3h0.45M242.0,88.7h0.45M258.6,99.9h0.45M248.4,91.7h0.45M252.4,93.8h0.45M227.2,80.5h0.45M236.4,92.6h0.45M240.6,99.4h0.45M239.5,90.7h0.45M242.7,81.7h0.45M245.2,95.2h0.45M241.5,97.9h0.45M217.8,75.5h0.45M220.8,105.0h0.45M230.2,92.1h0.45M257.0,75.8h0.45M227.7,91.8h0.45M244.7,103.4h0.45M229.2,97.8h0.45M227.6,90.3h0.45M235.2,88.2h0.45M249.3,97.4h0.45M223.6,96.8h0.45M250.4,87.9h0.45M237.0,102.0h0.45M232.6,105.4h0.45M231.4,90.7h0.45M233.8,93.7h0.45M240.4,80.0h0.45M239.9,93.7h0.45M234.1,84.8h0.45M241.9,93.4h0.45M222.3,96.8h0.45M257.4,93.7h0.45M243.0,79.1h0.45M247.1,95.5h0.45M241.5,88.2h0.45M248.7,99.2h0.45M247.4,85.1h0.45M252.4,98.8h0.45M259.6,82.8h0.45M240.2,91.5h0.45M246.1,97.6h0.45M235.4,92.6h0.45M221.7,103.3h0.45M239.8,90.6h0.45M237.7,90.7h0.45M243.0,89.1h0.45M238.0,80.1h0.45M243.7,100.4h0.45M239.2,86.4h0.45M239.8,104.4h0.45M236.2,88.3h0.45M240.5,101.4h0.45M244.8,92.2h0.45M230.1,101.1h0.45M244.2,76.2h0.45M256.8,103.3h0.45M247.7,99.1h0.45M233.7,102.4h0.45M251.2,106.5h0.45M236.7,88.4h0.45M261.1,95.0h0.45M222.7,86.1h0.45M242.0,102.2h0.45M228.9,90.9h0.45M233.1,92.0h0.45M230.9,100.6h0.45M232.0,91.1h0.45M245.3,88.8h0.45M241.0,89.5h0.45M256.0,86.4h0.45M243.6,89.5h0.45M235.3,80.7h0.45M240.3,90.8h0.45M242.4,92.8h0.45M231.8,87.9h0.45M225.6,97.1h0.45M248.1,90.4h0.45M234.1,111.9h0.45M237.0,101.8h0.45M232.3,90.8h0.45M229.8,92.5h0.45M235.8,94.3h0.45M243.0,83.8h0.45M259.5,86.3h0.45M243.3,101.9h0.45M245.7,88.1h0.45M233.9,89.7h0.45M213.7,100.3h0.45M255.0,103.3h0.45M260.2,87.0h0.45M240.5,94.0h0.45M246.6,90.1h0.45M219.6,97.2h0.45M257.2,80.9h0.45M221.3,96.7h0.45M227.9,94.8h0.45M243.7,86.7h0.45M228.8,94.2h0.45M233.0,96.5h0.45M243.0,102.2h0.45M245.6,98.6h0.45M219.6,86.5h0.45M263.1,97.4h0.45M233.0,90.1h0.45M258.6,98.5h0.45M242.5,90.6h0.45M238.7,110.7h0.45M227.0,96.0h0.45M220.1,105.2h0.45M245.1,99.1h0.45M229.1,84.3h0.45M245.2,93.2h0.45M242.8,89.8h0.45M236.2,87.3h0.45M227.3,87.7h0.45M220.0,99.3h0.45M240.7,99.8h0.45M239.9,73.3h0.45M247.8,103.7h0.45M228.6,81.0h0.45M254.0,86.7h0.45M239.8,82.4h0.45M242.2,88.8h0.45M254.2,96.1h0.45M214.8,81.1h0.45M242.7,94.9h0.45M225.2,92.2h0.45M250.0,97.5h0.45M227.8,97.2h0.45M250.6,87.7h0.45M226.2,103.2h0.45M248.7,90.3h0.45M233.7,101.2h0.45M243.1,101.7h0.45M239.6,83.5h0.45M236.4,101.0h0.45M240.0,87.8h0.45M234.9,104.7h0.45M247.2,96.5h0.45M235.0,75.6h0.45M244.7,72.8h0.45M251.5,106.6h0.45M248.7,88.2h0.45M244.7,87.0h0.45M231.4,90.7h0.45M244.1,119.4h0.45M243.0,97.9h0.45M228.9,96.1h0.45M249.0,101.6h0.45M244.0,86.7h0.45M258.2,97.7h0.45M258.5,99.2h0.45M253.4,79.0h0.45M231.9,97.0h0.45M248.8,86.1h0.45M223.0,106.8h0.45M231.3,103.3h0.45M261.2,89.7h0.45M229.6,92.2h0.45M251.7,80.3h0.45M243.6,82.6h0.45M226.0,82.1h0.45M236.9,81.0h0.45M241.0,82.4h0.45M228.8,78.6h0.45M245.1,85.8h0.45M240.3,99.8h0.45M241.2,91.1h0.45M234.6,82.0h0.45M246.0,92.4h0.45M220.4,86.3h0.45M252.1,96.8h0.45M243.2,101.9h0.45M222.0,89.3h0.45M235.5,92.2h0.45M248.1,89.9h0.45M226.1,88.5h0.45M234.3,113.6h0.45M251.1,104.2h0.45M257.1,95.4h0.45M250.8,100.1h0.45M244.9,83.7h0.45M259.8,94.8h0.45M239.6,101.1h0.45M245.2,104.9h0.45M234.6,73.3h0.45M225.5,92.8h0.45M245.2,110.0h0.45M234.4,94.3h0.45M231.1,98.4h0.45M252.6,103.5h0.45M233.8,84.0h0.45M230.5,95.6h0.45M223.4,107.0h0.45M250.2,102.2h0.45M235.7,97.3h0.45M258.1,95.6h0.45M250.2,97.6h0.45M258.9,91.1h0.45M214.4,98.1h0.45M236.3,80.3h0.45M234.8,85.9h0.45M243.9,98.4h0.45M230.2,84.4h0.45M251.5,83.4h0.45M248.5,90.6h0.45M230.3,95.9h0.45M237.5,67.8h0.45M240.0,80.5h0.45M229.6,66.9h0.45M253.6,94.3h0.45M231.8,98.1h0.45M240.9,90.2h0.45M231.5,91.2h0.45M243.5,100.9h0.45M236.5,93.3h0.45M246.1,101.2h0.45M245.1,89.2h0.45M242.7,93.0h0.45M252.5,85.4h0.45M246.1,95.5h0.45M238.6,95.9h0.45M235.0,81.5h0.45M257.7,104.4h0.45M239.1,107.6h0.45M250.2,86.2h0.45M246.2,93.5h0.45M235.3,90.7h0.45M243.2,99.0h0.45M243.3,91.7h0.45" stroke="#2a2a2a" stroke-width="0.45" fill="none" opacity="0.6"/>
<line x1="189.80" y1="85.90" x2="267.60" y2="85.90" stroke="#c48d7e" stroke-width="1.3" />
<line x1="223.80" y1="85.90" x2="223.80" y2="121.60" stroke="#c08476" stroke-width="1.1" />
<line x1="227.20" y1="85.90" x2="227.20" y2="121.60" stroke="#c08476" stroke-width="1.1" />
<line x1="189.90" y1="85.90" x2="189.90" y2="121.60" stroke="#b4695e" stroke-width="1.1" />
<line x1="189.80" y1="121.40" x2="267.60" y2="121.40" stroke="#c08476" stroke-width="1.0" />
<line x1="267.40" y1="85.90" x2="267.40" y2="121.60" stroke="#c9a49c" stroke-width="0.9" />
<text transform="translate(203.80,117.00)" font-size="8.1" text-anchor="middle" fill="#a32a55" stroke="#a32a55" stroke-width="0.1" >MPP</text>
<text transform="translate(238.60,117.00)" font-size="8.1" text-anchor="middle" fill="#a32a55" stroke="#a32a55" stroke-width="0.1" >HSC</text>
<line x1="180.60" y1="89.00" x2="180.60" y2="49.60" stroke="#1a1a1a" stroke-width="1.6" />
<path d="M180.60,44.60 L177.50,51.10 L180.60,49.50 L183.70,51.10 Z" fill="#1a1a1a"/>
<text transform="translate(184.50,120.70) rotate(-90) scale(0.605,1)" font-size="11" text-anchor="start" fill="#111" stroke="#111" stroke-width="0.22" vector-effect="non-scaling-stroke" >CD48</text>
<text transform="translate(190.60,136.40) scale(0.56,1)" font-size="11" text-anchor="start" fill="#111" stroke="#111" stroke-width="0.22" vector-effect="non-scaling-stroke" >CD150</text>
<line x1="226.50" y1="132.90" x2="257.50" y2="132.90" stroke="#1a1a1a" stroke-width="1.6" />
<path d="M262.50,132.90 L256.00,129.80 L257.60,132.90 L256.00,136.00 Z" fill="#1a1a1a"/>
<line x1="263.60" y1="107.90" x2="271.30" y2="107.90" stroke="#960b36" stroke-width="1.5" />
<path d="M275.80,107.90 L269.80,105.10 L271.40,107.90 L269.80,110.70 Z" fill="#960b36"/>
<path d="M310.0,75.5h0.5M310.9,76.6h0.5M310.5,75.9h0.5M310.6,74.4h0.5M310.4,73.6h0.5M311.4,77.6h0.5M310.3,77.0h0.5M311.0,81.4h0.5M311.0,74.3h0.5M310.8,79.4h0.5M310.7,73.4h0.5M310.0,81.9h0.5M310.8,74.7h0.5M310.1,72.9h0.5M310.3,75.2h0.5M310.2,80.5h0.5M311.4,75.9h0.5M309.6,73.5h0.5M310.8,79.8h0.5M310.1,75.8h0.5M310.5,79.0h0.5M310.7,76.4h0.5M310.1,78.6h0.5M310.7,74.4h0.5M309.8,81.5h0.5M309.7,77.6h0.5M310.2,75.1h0.5M310.5,80.3h0.5M310.8,75.7h0.5M311.3,74.0h0.5M311.0,79.2h0.5M310.6,77.2h0.5M310.9,80.8h0.5M311.1,75.6h0.5M310.4,75.3h0.5M310.0,75.4h0.5M310.2,74.5h0.5M310.8,77.5h0.5M310.7,78.0h0.5M310.9,77.1h0.5M310.9,73.5h0.5M310.6,76.3h0.5M311.0,76.7h0.5M310.1,79.6h0.5M310.4,78.3h0.5M310.9,78.3h0.5M311.0,75.0h0.5M310.0,76.4h0.5M309.7,79.2h0.5M310.7,76.2h0.5M310.2,73.2h0.5M311.3,78.0h0.5M310.2,74.9h0.5M311.2,77.4h0.5M310.5,77.6h0.5M310.6,74.2h0.5M311.3,79.0h0.5M310.7,72.7h0.5M310.9,75.8h0.5M310.8,77.8h0.5M310.0,77.7h0.5M310.5,74.9h0.5M310.9,76.3h0.5M311.2,77.9h0.5M310.1,77.2h0.5M310.2,77.7h0.5M310.6,79.4h0.5M310.5,74.2h0.5M310.4,75.0h0.5M309.6,74.8h0.5M311.2,73.5h0.5M310.8,75.2h0.5M310.8,77.1h0.5M310.4,73.2h0.5M310.1,75.2h0.5M311.4,80.3h0.5M309.9,76.9h0.5M309.9,75.9h0.5M311.3,78.8h0.5M310.7,72.8h0.5M310.2,74.4h0.5M311.6,76.5h0.5M311.2,77.6h0.5M310.5,75.4h0.5M311.3,76.5h0.5M310.8,77.0h0.5M310.2,78.3h0.5M310.2,77.1h0.5M310.1,72.5h0.5M311.1,78.7h0.5M310.6,73.1h0.5M310.1,77.5h0.5M309.9,83.3h0.5M310.1,75.7h0.5M311.2,78.8h0.5M310.9,78.6h0.5M311.0,77.2h0.5M310.4,76.5h0.5M310.7,77.7h0.5M311.1,78.2h0.5M311.1,76.0h0.5M310.3,75.4h0.5M310.5,73.8h0.5M310.3,77.8h0.5M310.4,74.3h0.5M310.0,74.7h0.5M310.2,80.3h0.5M311.3,80.7h0.5M310.4,74.7h0.5M310.3,73.9h0.5M310.6,75.1h0.5M311.0,74.7h0.5M310.7,70.6h0.5M310.4,76.6h0.5M310.6,75.6h0.5M310.6,76.9h0.5M310.6,79.9h0.5M310.5,78.7h0.5M311.2,79.1h0.5M310.9,78.0h0.5M311.2,79.8h0.5M310.4,76.7h0.5M311.3,77.9h0.5M310.1,77.3h0.5M311.0,78.1h0.5M310.7,76.6h0.5M310.5,74.4h0.5M310.8,77.7h0.5M310.3,75.2h0.5M310.3,76.2h0.5M311.4,77.2h0.5M310.9,77.0h0.5M310.7,76.7h0.5M309.9,79.3h0.5M310.9,78.2h0.5M310.9,79.3h0.5M310.4,78.6h0.5M311.8,80.3h0.5M310.8,73.6h0.5M309.5,75.9h0.5M310.9,76.1h0.5M310.8,78.3h0.5M311.1,80.0h0.5M310.8,76.2h0.5M310.5,75.3h0.5M311.9,79.2h0.5M311.0,74.1h0.5M310.1,77.6h0.5M311.0,78.6h0.5M311.3,78.4h0.5M310.6,76.9h0.5M311.0,79.8h0.5M311.3,78.6h0.5M311.6,76.1h0.5M310.8,75.5h0.5M310.6,81.1h0.5M310.1,76.9h0.5M310.6,77.5h0.5M310.9,75.3h0.5M310.4,75.6h0.5M310.2,76.7h0.5M310.4,75.9h0.5M310.2,74.0h0.5M310.1,74.3h0.5M310.2,73.8h0.5M310.1,80.7h0.5M310.1,78.2h0.5M311.9,79.7h0.5M310.9,76.3h0.5M311.6,76.8h0.5M310.7,73.3h0.5M310.8,78.1h0.5M309.9,77.5h0.5M310.8,77.7h0.5M310.1,76.1h0.5M311.2,78.4h0.5M310.0,77.5h0.5M309.8,78.2h0.5M311.2,82.0h0.5M310.4,76.8h0.5M310.6,75.0h0.5M310.2,78.0h0.5M310.4,76.7h0.5M310.4,75.6h0.5M310.2,75.9h0.5M311.1,79.9h0.5M311.5,73.3h0.5M310.1,78.7h0.5M310.9,75.4h0.5M310.9,77.0h0.5M309.9,77.9h0.5M310.7,77.0h0.5M310.8,73.2h0.5M311.0,77.0h0.5M311.2,77.5h0.5M310.8,75.3h0.5M310.1,77.7h0.5M310.2,77.7h0.5M310.6,72.2h0.5M310.8,78.8h0.5M310.2,74.7h0.5M310.7,75.7h0.5M310.6,74.1h0.5M310.4,76.0h0.5M310.4,79.7h0.5M310.3,73.2h0.5M310.1,74.8h0.5M310.8,79.8h0.5M310.6,79.2h0.5M310.2,78.7h0.5M310.6,76.6h0.5M310.4,76.4h0.5M311.1,75.9h0.5M310.8,76.3h0.5M310.4,76.8h0.5M309.7,77.3h0.5M310.7,74.0h0.5M310.5,77.1h0.5M310.1,76.9h0.5M310.9,78.4h0.5" stroke="#000" stroke-width="0.5" fill="none" opacity="0.9"/>
<path d="M310.7,83.3h0.4M311.5,76.1h0.4M310.7,83.1h0.4M311.2,77.6h0.4M311.5,78.6h0.4M310.0,76.1h0.4M310.3,71.9h0.4M310.2,75.2h0.4M310.2,76.7h0.4M311.0,77.6h0.4M310.3,78.2h0.4M310.9,76.1h0.4M310.0,77.7h0.4M310.9,79.2h0.4M309.0,75.7h0.4M310.2,72.7h0.4M310.5,80.5h0.4M309.6,75.8h0.4M311.6,76.2h0.4M310.2,78.1h0.4M310.4,79.5h0.4M310.9,73.9h0.4M311.2,78.5h0.4M312.0,79.8h0.4M310.0,81.5h0.4M310.3,76.4h0.4M310.5,77.7h0.4M310.1,78.1h0.4M309.9,75.6h0.4M312.3,73.4h0.4M311.7,78.6h0.4M309.3,75.6h0.4M308.7,75.5h0.4M311.7,69.4h0.4M311.1,77.8h0.4M309.3,76.0h0.4M311.8,75.9h0.4M310.6,74.8h0.4M310.2,78.6h0.4M311.2,73.6h0.4M311.3,81.0h0.4M310.0,79.8h0.4M309.8,79.8h0.4M310.8,77.5h0.4M311.4,80.8h0.4M310.8,77.5h0.4M311.5,77.8h0.4M312.9,70.1h0.4M311.6,82.3h0.4M310.6,72.3h0.4" stroke="#555" stroke-width="0.4" fill="none" opacity="0.5"/>
<path d="M310.8,62.0h0.4M310.8,66.7h0.4M310.6,61.1h0.4M310.9,60.3h0.4M310.4,62.6h0.4M310.7,65.2h0.4M311.1,62.7h0.4M310.3,69.2h0.4M311.5,65.5h0.4M310.0,56.5h0.4M310.7,57.0h0.4M310.9,63.2h0.4M310.9,62.4h0.4M310.5,58.0h0.4M309.9,67.6h0.4M310.9,55.6h0.4M310.7,60.6h0.4M310.8,63.7h0.4M311.3,57.7h0.4M310.4,66.9h0.4M310.4,65.4h0.4M311.1,61.2h0.4M310.5,65.0h0.4M310.1,55.1h0.4M310.7,57.7h0.4M310.5,65.5h0.4M311.0,68.4h0.4M310.8,63.0h0.4M310.3,59.4h0.4M309.4,67.3h0.4M310.4,59.5h0.4M310.1,60.1h0.4M310.4,58.4h0.4M310.7,60.7h0.4M310.4,54.9h0.4M310.2,65.1h0.4M310.3,55.2h0.4M310.0,66.4h0.4M310.9,61.5h0.4M310.9,59.5h0.4" stroke="#555" stroke-width="0.4" fill="none" opacity="0.6"/>
<rect x="297.20" y="45.80" width="43.20" height="25.60" fill="none" stroke="#a8505a" stroke-width="1.1" rx="1.6"/>
<text transform="translate(324.20,55.70)" font-size="7.8" text-anchor="middle" fill="#a32a55" stroke="#a32a55" stroke-width="0.1" >BrdU<tspan font-size="6" dy="-3">+</tspan></text>
<line x1="284.00" y1="90.50" x2="284.00" y2="49.80" stroke="#1a1a1a" stroke-width="1.6" />
<path d="M284.00,44.80 L280.90,51.30 L284.00,49.70 L287.10,51.30 Z" fill="#1a1a1a"/>
<text transform="translate(287.80,119.40) rotate(-90) scale(0.575,1)" font-size="11" text-anchor="start" fill="#111" stroke="#111" stroke-width="0.22" vector-effect="non-scaling-stroke" >BrdU</text>
<text transform="translate(292.00,136.40) scale(0.595,1)" font-size="11" text-anchor="start" fill="#111" stroke="#111" stroke-width="0.22" vector-effect="non-scaling-stroke" >DAPI</text>
<line x1="322.00" y1="132.90" x2="362.50" y2="132.90" stroke="#1a1a1a" stroke-width="1.6" />
<path d="M367.50,132.90 L361.00,129.80 L362.60,132.90 L361.00,136.00 Z" fill="#1a1a1a"/>
<line x1="88.60" y1="117.80" x2="89.80" y2="117.80" stroke="#aaa" stroke-width="0.4" />
<line x1="93.80" y1="121.80" x2="93.80" y2="123.00" stroke="#aaa" stroke-width="0.4" />
<line x1="88.60" y1="100.30" x2="89.80" y2="100.30" stroke="#aaa" stroke-width="0.4" />
<line x1="111.30" y1="121.80" x2="111.30" y2="123.00" stroke="#aaa" stroke-width="0.4" />
<line x1="88.60" y1="82.80" x2="89.80" y2="82.80" stroke="#aaa" stroke-width="0.4" />
<line x1="128.80" y1="121.80" x2="128.80" y2="123.00" stroke="#aaa" stroke-width="0.4" />
<line x1="88.60" y1="65.30" x2="89.80" y2="65.30" stroke="#aaa" stroke-width="0.4" />
<line x1="146.30" y1="121.80" x2="146.30" y2="123.00" stroke="#aaa" stroke-width="0.4" />
<line x1="88.60" y1="47.80" x2="89.80" y2="47.80" stroke="#aaa" stroke-width="0.4" />
<line x1="163.80" y1="121.80" x2="163.80" y2="123.00" stroke="#aaa" stroke-width="0.4" />
<line x1="188.60" y1="117.80" x2="189.80" y2="117.80" stroke="#aaa" stroke-width="0.4" />
<line x1="193.80" y1="121.80" x2="193.80" y2="123.00" stroke="#aaa" stroke-width="0.4" />
<line x1="188.60" y1="100.30" x2="189.80" y2="100.30" stroke="#aaa" stroke-width="0.4" />
<line x1="211.30" y1="121.80" x2="211.30" y2="123.00" stroke="#aaa" stroke-width="0.4" />
<line x1="188.60" y1="82.80" x2="189.80" y2="82.80" stroke="#aaa" stroke-width="0.4" />
<line x1="228.80" y1="121.80" x2="228.80" y2="123.00" stroke="#aaa" stroke-width="0.4" />
<line x1="188.60" y1="65.30" x2="189.80" y2="65.30" stroke="#aaa" stroke-width="0.4" />
<line x1="246.30" y1="121.80" x2="246.30" y2="123.00" stroke="#aaa" stroke-width="0.4" />
<line x1="188.60" y1="47.80" x2="189.80" y2="47.80" stroke="#aaa" stroke-width="0.4" />
<line x1="263.80" y1="121.80" x2="263.80" y2="123.00" stroke="#aaa" stroke-width="0.4" />
<line x1="291.60" y1="117.80" x2="292.80" y2="117.80" stroke="#aaa" stroke-width="0.4" />
<line x1="296.80" y1="121.80" x2="296.80" y2="123.00" stroke="#aaa" stroke-width="0.4" />
<line x1="291.60" y1="100.30" x2="292.80" y2="100.30" stroke="#aaa" stroke-width="0.4" />
<line x1="314.30" y1="121.80" x2="314.30" y2="123.00" stroke="#aaa" stroke-width="0.4" />
<line x1="291.60" y1="82.80" x2="292.80" y2="82.80" stroke="#aaa" stroke-width="0.4" />
<line x1="331.80" y1="121.80" x2="331.80" y2="123.00" stroke="#aaa" stroke-width="0.4" />
<line x1="291.60" y1="65.30" x2="292.80" y2="65.30" stroke="#aaa" stroke-width="0.4" />
<line x1="349.30" y1="121.80" x2="349.30" y2="123.00" stroke="#aaa" stroke-width="0.4" />
<line x1="291.60" y1="47.80" x2="292.80" y2="47.80" stroke="#aaa" stroke-width="0.4" />
<line x1="366.80" y1="121.80" x2="366.80" y2="123.00" stroke="#aaa" stroke-width="0.4" />
<text transform="translate(376.30,16.20)" font-size="11.6" text-anchor="start" fill="#000" font-weight="bold" stroke="#000" stroke-width="0.6" >B</text>
<text transform="translate(460.30,30.70)" font-size="8.2" text-anchor="middle" fill="#2b2b2b" stroke="#2b2b2b" stroke-width="0.15" >HSCs</text>
<line x1="410.40" y1="37.60" x2="410.40" y2="121.80" stroke="#000" stroke-width="1.5" />
<line x1="409.70" y1="121.10" x2="507.60" y2="121.10" stroke="#000" stroke-width="1.5" />
<line x1="407.20" y1="121.10" x2="410.40" y2="121.10" stroke="#000" stroke-width="1.2" />
<text transform="translate(403.80,124.00)" font-size="8.4" text-anchor="end" fill="#2b2b2b" stroke="#2b2b2b" stroke-width="0.15" >0</text>
<line x1="407.20" y1="93.97" x2="410.40" y2="93.97" stroke="#000" stroke-width="1.2" />
<text transform="translate(403.80,96.87)" font-size="8.4" text-anchor="end" fill="#2b2b2b" stroke="#2b2b2b" stroke-width="0.15" >10</text>
<line x1="407.20" y1="66.84" x2="410.40" y2="66.84" stroke="#000" stroke-width="1.2" />
<text transform="translate(403.80,69.74)" font-size="8.4" text-anchor="end" fill="#2b2b2b" stroke="#2b2b2b" stroke-width="0.15" >20</text>
<line x1="407.20" y1="39.71" x2="410.40" y2="39.71" stroke="#000" stroke-width="1.2" />
<text transform="translate(403.80,42.61)" font-size="8.4" text-anchor="end" fill="#2b2b2b" stroke="#2b2b2b" stroke-width="0.15" >30</text>
<rect x="414.30" y="93.70" width="17.00" height="27.40" fill="#ae062f" stroke="none" stroke-width="1" />
<line x1="422.80" y1="94.20" x2="422.80" y2="92.40" stroke="#000" stroke-width="1.2" />
<line x1="418.20" y1="92.40" x2="427.40" y2="92.40" stroke="#000" stroke-width="1.2" />
<line x1="422.80" y1="121.10" x2="422.80" y2="124.10" stroke="#000" stroke-width="1.2" />
<rect x="438.80" y="79.00" width="17.00" height="42.10" fill="#2a4782" stroke="none" stroke-width="1" />
<line x1="447.30" y1="79.50" x2="447.30" y2="67.00" stroke="#000" stroke-width="1.2" />
<line x1="442.70" y1="67.00" x2="451.90" y2="67.00" stroke="#000" stroke-width="1.2" />
<line x1="447.30" y1="121.10" x2="447.30" y2="124.10" stroke="#000" stroke-width="1.2" />
<rect x="463.20" y="70.60" width="17.00" height="50.50" fill="#6fb044" stroke="none" stroke-width="1" />
<line x1="471.70" y1="71.10" x2="471.70" y2="68.30" stroke="#000" stroke-width="1.2" />
<line x1="467.10" y1="68.30" x2="476.30" y2="68.30" stroke="#000" stroke-width="1.2" />
<line x1="471.70" y1="121.10" x2="471.70" y2="124.10" stroke="#000" stroke-width="1.2" />
<rect x="487.70" y="94.00" width="17.00" height="27.10" fill="#572262" stroke="none" stroke-width="1" />
<line x1="496.20" y1="94.50" x2="496.20" y2="91.80" stroke="#000" stroke-width="1.2" />
<line x1="491.60" y1="91.80" x2="500.80" y2="91.80" stroke="#000" stroke-width="1.2" />
<line x1="496.20" y1="121.10" x2="496.20" y2="124.10" stroke="#000" stroke-width="1.2" />
<path d="M420.80,59.00 L420.80,55.60 L472.00,55.60 L472.00,59.00" fill="none" stroke="#111" stroke-width="1.2"/>
<text transform="translate(446.40,55.60)" font-size="8" text-anchor="middle" fill="#111" font-weight="bold" stroke="#111" stroke-width="0.1" >***</text>
<path d="M474.60,59.00 L474.60,55.60 L496.20,55.60 L496.20,59.00" fill="none" stroke="#111" stroke-width="1.2"/>
<text transform="translate(485.40,55.60)" font-size="8" text-anchor="middle" fill="#111" font-weight="bold" stroke="#111" stroke-width="0.1" >***</text>
<text transform="translate(387.60,96.60) rotate(-90) scale(0.63,1)" font-size="11" text-anchor="start" fill="#111" stroke="#111" stroke-width="0.22" vector-effect="non-scaling-stroke" >BrdU<tspan font-size="7.5" dy="-3.4">+</tspan><tspan dy="3.4"> (%)</tspan></text>
<text transform="translate(426.60,132.30) rotate(-45)" font-size="8.3" text-anchor="end" fill="#2b2b2b" stroke="#2b2b2b" stroke-width="0.15" >WT</text>
<text transform="translate(452.60,132.30) rotate(-45)" font-size="8.3" text-anchor="end" fill="#2b2b2b" stroke="#2b2b2b" stroke-width="0.15" >Tet2<tspan font-size="6.6" dy="-3">+/-</tspan></text>
<text transform="translate(477.00,132.30) rotate(-45)" font-size="8.3" text-anchor="end" fill="#2b2b2b" stroke="#2b2b2b" stroke-width="0.15" >Nras<tspan font-size="6.6" dy="-3"> G12D/+</tspan></text>
<text transform="translate(502.00,129.50) rotate(-45)" font-size="8.3" text-anchor="end" fill="#2b2b2b" stroke="#2b2b2b" stroke-width="0.15" >Nras<tspan font-size="6.6" dy="-3"> G12D/+</tspan><tspan dy="3">;</tspan></text>
<text transform="translate(506.30,140.60) rotate(-45)" font-size="8.3" text-anchor="end" fill="#2b2b2b" stroke="#2b2b2b" stroke-width="0.15" >Tet2<tspan font-size="6.6" dy="-3">+/-</tspan></text>
<text transform="translate(7.60,151.80)" font-size="11.6" text-anchor="start" fill="#000" font-weight="bold" stroke="#000" stroke-width="0.6" >C</text>
<line x1="43.00" y1="149.00" x2="53.00" y2="149.00" stroke="#6d9646" stroke-width="1.1" />
<circle cx="48.0" cy="149" r="1.7" fill="#6d9646"/>
<text transform="translate(55.50,151.80)" font-size="7.7" text-anchor="start" fill="#84aa5e" >No doxy</text>
<line x1="86.60" y1="149.00" x2="94.60" y2="149.00" stroke="#8c0a2c" stroke-width="1.1" />
<circle cx="90.6" cy="149" r="1.7" fill="#8c0a2c"/>
<text transform="translate(98.90,151.80)" font-size="7.7" text-anchor="start" fill="#8f1838" >WT</text>
<line x1="113.80" y1="149.00" x2="122.40" y2="149.00" stroke="#2f3f66" stroke-width="1.1" />
<circle cx="118.1" cy="149" r="1.7" fill="#2f3f66"/>
<text transform="translate(126.00,151.80)" font-size="7.7" text-anchor="start" fill="#3d4b72" >Tet2<tspan font-size="5.8" dy="-2.8">+/-</tspan></text>
<line x1="24.20" y1="170.40" x2="89.60" y2="170.40" stroke="#111" stroke-width="1" />
<text transform="translate(134.60,173.20)" font-size="8.2" text-anchor="middle" fill="#2b2b2b" stroke="#2b2b2b" stroke-width="0.15" >6 weeks chase</text>
<line x1="171.20" y1="170.40" x2="245.20" y2="170.40" stroke="#111" stroke-width="1" />
<line x1="282.40" y1="170.40" x2="348.00" y2="170.40" stroke="#111" stroke-width="1" />
<text transform="translate(394.50,173.20)" font-size="8.2" text-anchor="middle" fill="#2b2b2b" stroke="#2b2b2b" stroke-width="0.15" >18 weeks chase</text>
<line x1="435.00" y1="170.40" x2="507.00" y2="170.40" stroke="#111" stroke-width="1" />
<rect x="35.40" y="184.80" width="89.80" height="89.50" fill="#fff" stroke="none" stroke-width="1" />
<path d="M43.5,273.7 L44.2,272.3 L45.0,270.4 L45.7,265.9 L46.3,260.8 L47.0,249.4 L47.7,237.7 L48.7,208.8 L49.8,205.0 L50.8,206.0 L51.9,189.6 L52.9,203.1 L53.8,228.1 L54.6,231.8 L55.4,235.8 L56.3,238.4 L57.3,240.6 L58.1,240.7 L59.0,241.3 L59.8,241.9 L60.5,241.6 L61.2,242.9 L61.9,242.5 L62.8,244.5 L63.7,245.4 L64.6,249.2 L65.6,253.1 L66.5,257.2 L67.5,260.8 L68.5,265.3 L69.4,269.4 L70.4,271.8 L71.3,273.7" fill="none" stroke="#6fb044" stroke-width="1.3" stroke-linejoin="round"/>
<path d="M49.2,273.7 L50.0,273.0 L50.8,271.5 L51.5,270.4 L52.2,269.8 L52.8,269.5 L53.4,269.7 L54.0,269.4 L54.7,267.7 L55.3,266.9 L56.0,264.6 L56.7,263.8 L57.4,263.5 L58.1,262.9 L58.8,260.8 L59.5,260.1 L60.1,257.4 L60.8,256.0 L61.4,254.6 L62.1,251.6 L62.7,251.2 L63.3,247.9 L64.0,247.2 L64.6,243.5 L65.3,241.0 L65.9,239.2 L66.5,237.7 L67.3,236.4 L68.1,232.9 L68.8,232.2 L69.4,233.8 L70.1,230.1 L70.8,228.1 L71.4,226.7 L72.1,221.7 L72.7,220.4 L73.5,220.4 L74.2,221.3 L75.0,224.0 L75.8,225.2 L76.4,221.7 L77.1,216.5 L77.8,214.5 L78.4,211.3 L79.0,208.8 L79.7,206.3 L80.4,205.0 L81.0,201.9 L81.5,199.2 L82.2,200.8 L82.8,201.0 L83.5,201.2 L84.1,200.6 L84.7,200.7 L85.4,199.2 L86.1,194.5 L86.7,190.6 L87.7,199.2 L88.5,200.3 L89.2,201.2 L89.9,202.6 L90.5,204.0 L91.2,206.9 L91.8,208.4 L92.4,209.3 L93.1,211.7 L93.8,215.8 L94.4,218.5 L95.1,219.0 L95.7,219.5 L96.3,221.3 L97.0,226.2 L97.7,231.9 L98.3,236.1 L98.8,241.5 L99.5,243.4 L100.1,244.2 L100.8,245.4 L101.4,246.2 L102.1,248.7 L102.7,250.2 L103.5,252.5 L104.2,252.5 L105.0,255.0 L105.8,256.9 L106.5,258.8 L107.3,260.8 L107.9,260.0 L108.6,261.6 L109.2,262.5 L109.8,261.7 L110.4,262.0 L111.1,262.1 L111.7,264.8 L112.3,264.6 L112.9,266.4 L113.6,267.8 L114.2,269.4 L114.9,271.2 L115.5,272.6 L116.2,273.7 Z" fill="#ce7768" fill-opacity="0.86" stroke="none"/>
<path d="M49.2,273.7 L50.0,273.0 L50.8,271.5 L51.5,270.4 L52.2,269.8 L52.8,269.5 L53.4,269.7 L54.0,269.4 L54.7,267.7 L55.3,266.9 L56.0,264.6 L56.7,263.8 L57.4,263.5 L58.1,262.9 L58.8,260.8 L59.5,260.1 L60.1,257.4 L60.8,256.0 L61.4,254.6 L62.1,251.6 L62.7,251.2 L63.3,247.9 L64.0,247.2 L64.6,243.5 L65.3,241.0 L65.9,239.2 L66.5,237.7 L67.3,236.4 L68.1,232.9 L68.8,232.2 L69.4,233.8 L70.1,230.1 L70.8,228.1 L71.4,226.7 L72.1,221.7 L72.7,220.4 L73.5,220.4 L74.2,221.3 L75.0,224.0 L75.8,225.2 L76.4,221.7 L77.1,216.5 L77.8,214.5 L78.4,211.3 L79.0,208.8 L79.7,206.3 L80.4,205.0 L81.0,201.9 L81.5,199.2 L82.2,200.8 L82.8,201.0 L83.5,201.2 L84.1,200.6 L84.7,200.7 L85.4,199.2 L86.1,194.5 L86.7,190.6 L87.7,199.2 L88.5,200.3 L89.2,201.2 L89.9,202.6 L90.5,204.0 L91.2,206.9 L91.8,208.4 L92.4,209.3 L93.1,211.7 L93.8,215.8 L94.4,218.5 L95.1,219.0 L95.7,219.5 L96.3,221.3 L97.0,226.2 L97.7,231.9 L98.3,236.1 L98.8,241.5 L99.5,243.4 L100.1,244.2 L100.8,245.4 L101.4,246.2 L102.1,248.7 L102.7,250.2 L103.5,252.5 L104.2,252.5 L105.0,255.0 L105.8,256.9 L106.5,258.8 L107.3,260.8 L107.9,260.0 L108.6,261.6 L109.2,262.5 L109.8,261.7 L110.4,262.0 L111.1,262.1 L111.7,264.8 L112.3,264.6 L112.9,266.4 L113.6,267.8 L114.2,269.4 L114.9,271.2 L115.5,272.6 L116.2,273.7" fill="none" stroke="#ae062f" stroke-width="1.3" stroke-linejoin="round"/>
<path d="M43.5,273.7 L44.2,272.3 L45.0,270.4 L45.7,265.9 L46.3,260.8 L47.0,249.4 L47.7,237.7 L48.7,208.8 L49.8,205.0 L50.8,206.0 L51.9,189.6 L52.9,203.1 L53.8,228.1 L54.6,231.8 L55.4,235.8 L56.3,238.4 L57.3,240.6 L58.1,240.7 L59.0,241.3 L59.8,241.9 L60.5,241.6 L61.2,242.9 L61.9,242.5 L62.8,244.5 L63.7,245.4 L64.6,249.2 L65.6,253.1 L66.5,257.2 L67.5,260.8 L68.5,265.3 L69.4,269.4 L70.4,271.8 L71.3,273.7" fill="none" stroke="#6fb044" stroke-width="1.1" stroke-linejoin="round" opacity="0.62"/>
<path d="M41.5,273.7 L42.3,272.9 L43.1,271.8 L43.8,270.4 L44.5,268.4 L45.1,266.9 L45.8,265.6 L46.4,265.1 L47.1,264.8 L47.7,263.7 L48.5,265.0 L49.2,265.6 L50.0,267.4 L50.8,270.4 L51.5,270.1 L52.3,270.5 L53.1,270.4 L53.8,270.2 L54.6,268.7 L55.4,268.5 L56.0,267.0 L56.7,266.9 L57.3,265.6 L57.9,264.9 L58.6,266.0 L59.2,264.7 L59.8,264.6 L60.4,262.4 L61.1,261.2 L61.7,260.8 L62.4,261.1 L63.0,259.7 L63.6,259.3 L64.2,259.8 L64.9,259.2 L65.5,256.2 L66.2,256.0 L66.8,255.0 L67.4,255.2 L68.1,253.1 L68.7,250.4 L69.4,247.6 L70.0,245.4 L70.6,242.4 L71.3,240.7 L71.9,237.7 L72.6,235.5 L73.2,235.6 L73.8,232.9 L74.5,231.5 L75.1,230.0 L75.8,227.1 L76.4,228.5 L77.1,230.1 L77.7,230.4 L78.5,230.6 L79.2,229.0 L80.1,223.7 L81.0,218.5 L81.6,215.9 L82.2,215.9 L82.9,212.7 L83.5,211.0 L84.2,209.9 L84.8,206.9 L85.4,204.8 L86.1,204.0 L86.7,201.2 L87.4,202.4 L88.0,204.3 L88.7,204.0 L89.3,202.0 L90.0,199.2 L90.8,193.6 L91.5,189.6 L92.3,189.7 L93.1,191.5 L93.8,197.5 L94.4,205.0 L95.1,201.3 L95.7,201.0 L96.3,197.3 L97.0,198.5 L97.7,199.2 L98.3,197.6 L98.8,198.3 L99.5,204.5 L100.2,212.7 L100.8,217.1 L101.5,219.8 L102.1,222.3 L102.8,224.8 L103.4,228.0 L104.0,231.9 L104.7,233.3 L105.3,236.1 L105.9,236.7 L106.5,237.7 L107.2,242.0 L107.9,245.4 L108.6,250.9 L109.2,254.0 L109.9,252.4 L110.5,251.4 L111.2,251.2 L111.8,251.0 L112.4,248.0 L113.1,248.3 L113.8,252.8 L114.6,256.9 L115.4,262.1 L116.2,266.5 L116.8,268.6 L117.4,271.5 L118.1,273.7" fill="none" stroke="#2a4782" stroke-width="1.3" stroke-linejoin="round"/>
<rect x="35.40" y="184.80" width="89.80" height="89.50" fill="none" stroke="#000" stroke-width="1.5" />
<line x1="32.40" y1="273.70" x2="35.40" y2="273.70" stroke="#000" stroke-width="1.3" />
<line x1="33.60" y1="269.40" x2="35.40" y2="269.40" stroke="#000" stroke-width="0.8" />
<line x1="32.40" y1="265.10" x2="35.40" y2="265.10" stroke="#000" stroke-width="1.3" />
<line x1="33.60" y1="260.80" x2="35.40" y2="260.80" stroke="#000" stroke-width="0.8" />
<line x1="32.40" y1="256.50" x2="35.40" y2="256.50" stroke="#000" stroke-width="1.3" />
<line x1="33.60" y1="252.20" x2="35.40" y2="252.20" stroke="#000" stroke-width="0.8" />
<line x1="32.40" y1="247.90" x2="35.40" y2="247.90" stroke="#000" stroke-width="1.3" />
<line x1="33.60" y1="243.60" x2="35.40" y2="243.60" stroke="#000" stroke-width="0.8" />
<line x1="32.40" y1="239.30" x2="35.40" y2="239.30" stroke="#000" stroke-width="1.3" />
<line x1="33.60" y1="235.00" x2="35.40" y2="235.00" stroke="#000" stroke-width="0.8" />
<line x1="32.40" y1="230.70" x2="35.40" y2="230.70" stroke="#000" stroke-width="1.3" />
<line x1="33.60" y1="226.40" x2="35.40" y2="226.40" stroke="#000" stroke-width="0.8" />
<line x1="32.40" y1="222.10" x2="35.40" y2="222.10" stroke="#000" stroke-width="1.3" />
<line x1="33.60" y1="217.80" x2="35.40" y2="217.80" stroke="#000" stroke-width="0.8" />
<line x1="32.40" y1="213.50" x2="35.40" y2="213.50" stroke="#000" stroke-width="1.3" />
<line x1="33.60" y1="209.20" x2="35.40" y2="209.20" stroke="#000" stroke-width="0.8" />
<line x1="32.40" y1="204.90" x2="35.40" y2="204.90" stroke="#000" stroke-width="1.3" />
<line x1="33.60" y1="200.60" x2="35.40" y2="200.60" stroke="#000" stroke-width="0.8" />
<line x1="32.40" y1="196.30" x2="35.40" y2="196.30" stroke="#000" stroke-width="1.3" />
<line x1="33.60" y1="192.00" x2="35.40" y2="192.00" stroke="#000" stroke-width="0.8" />
<line x1="32.40" y1="187.70" x2="35.40" y2="187.70" stroke="#000" stroke-width="1.3" />
<line x1="37.90" y1="274.30" x2="37.90" y2="277.30" stroke="#000" stroke-width="1.3" />
<line x1="43.11" y1="274.30" x2="43.11" y2="276.30" stroke="#000" stroke-width="0.9" />
<line x1="46.15" y1="274.30" x2="46.15" y2="276.30" stroke="#000" stroke-width="0.9" />
<line x1="48.32" y1="274.30" x2="48.32" y2="276.30" stroke="#000" stroke-width="0.9" />
<line x1="49.99" y1="274.30" x2="49.99" y2="276.30" stroke="#000" stroke-width="0.9" />
<line x1="51.36" y1="274.30" x2="51.36" y2="276.30" stroke="#000" stroke-width="0.9" />
<line x1="53.52" y1="274.30" x2="53.52" y2="276.30" stroke="#000" stroke-width="0.9" />
<line x1="55.20" y1="274.30" x2="55.20" y2="277.30" stroke="#000" stroke-width="1.3" />
<line x1="60.41" y1="274.30" x2="60.41" y2="276.30" stroke="#000" stroke-width="0.9" />
<line x1="63.45" y1="274.30" x2="63.45" y2="276.30" stroke="#000" stroke-width="0.9" />
<line x1="65.62" y1="274.30" x2="65.62" y2="276.30" stroke="#000" stroke-width="0.9" />
<line x1="67.29" y1="274.30" x2="67.29" y2="276.30" stroke="#000" stroke-width="0.9" />
<line x1="68.66" y1="274.30" x2="68.66" y2="276.30" stroke="#000" stroke-width="0.9" />
<line x1="70.82" y1="274.30" x2="70.82" y2="276.30" stroke="#000" stroke-width="0.9" />
<line x1="72.50" y1="274.30" x2="72.50" y2="277.30" stroke="#000" stroke-width="1.3" />
<line x1="77.71" y1="274.30" x2="77.71" y2="276.30" stroke="#000" stroke-width="0.9" />
<line x1="80.75" y1="274.30" x2="80.75" y2="276.30" stroke="#000" stroke-width="0.9" />
<line x1="82.92" y1="274.30" x2="82.92" y2="276.30" stroke="#000" stroke-width="0.9" />
<line x1="84.59" y1="274.30" x2="84.59" y2="276.30" stroke="#000" stroke-width="0.9" />
<line x1="85.96" y1="274.30" x2="85.96" y2="276.30" stroke="#000" stroke-width="0.9" />
<line x1="88.12" y1="274.30" x2="88.12" y2="276.30" stroke="#000" stroke-width="0.9" />
<line x1="89.80" y1="274.30" x2="89.80" y2="277.30" stroke="#000" stroke-width="1.3" />
<line x1="95.01" y1="274.30" x2="95.01" y2="276.30" stroke="#000" stroke-width="0.9" />
<line x1="98.05" y1="274.30" x2="98.05" y2="276.30" stroke="#000" stroke-width="0.9" />
<line x1="100.22" y1="274.30" x2="100.22" y2="276.30" stroke="#000" stroke-width="0.9" />
<line x1="101.89" y1="274.30" x2="101.89" y2="276.30" stroke="#000" stroke-width="0.9" />
<line x1="103.26" y1="274.30" x2="103.26" y2="276.30" stroke="#000" stroke-width="0.9" />
<line x1="105.42" y1="274.30" x2="105.42" y2="276.30" stroke="#000" stroke-width="0.9" />
<line x1="107.10" y1="274.30" x2="107.10" y2="277.30" stroke="#000" stroke-width="1.3" />
<line x1="112.31" y1="274.30" x2="112.31" y2="276.30" stroke="#000" stroke-width="0.9" />
<line x1="115.35" y1="274.30" x2="115.35" y2="276.30" stroke="#000" stroke-width="0.9" />
<line x1="117.52" y1="274.30" x2="117.52" y2="276.30" stroke="#000" stroke-width="0.9" />
<line x1="119.19" y1="274.30" x2="119.19" y2="276.30" stroke="#000" stroke-width="0.9" />
<line x1="120.56" y1="274.30" x2="120.56" y2="276.30" stroke="#000" stroke-width="0.9" />
<line x1="122.72" y1="274.30" x2="122.72" y2="276.30" stroke="#000" stroke-width="0.9" />
<rect x="282.00" y="184.80" width="89.60" height="89.50" fill="#fff" stroke="none" stroke-width="1" />
<path d="M288.5,273.7 L289.5,271.4 L290.5,268.5 L291.4,260.5 L292.4,253.1 L293.2,241.1 L293.9,230.0 L294.6,217.6 L295.3,205.0 L295.9,202.0 L296.6,199.2 L297.8,189.6 L298.4,192.0 L299.1,193.5 L300.1,205.0 L300.8,212.0 L301.6,218.5 L302.6,224.6 L303.5,230.0 L304.5,234.2 L305.5,237.7 L306.4,244.2 L307.4,251.2 L308.2,252.3 L308.9,252.8 L309.7,254.0 L310.5,256.0 L311.2,258.3 L312.0,260.8 L312.8,262.5 L313.7,264.2 L314.5,266.5 L315.2,267.3 L315.9,268.5 L316.7,269.2 L317.4,270.4 L318.1,271.1 L318.8,271.8 L319.5,272.5 L320.3,273.3 L321.0,273.5 L321.7,273.7 L322.4,273.7 L323.2,273.7" fill="none" stroke="#6fb044" stroke-width="1.3" stroke-linejoin="round"/>
<path d="M289.5,273.7 L290.1,271.5 L290.8,268.7 L291.4,266.5 L292.1,259.4 L292.7,251.3 L293.3,243.5 L294.0,230.2 L294.7,214.6 L295.3,208.8 L295.8,201.2 L296.5,195.9 L297.2,191.5 L297.9,190.9 L298.5,191.5 L299.1,199.2 L299.7,205.0 L300.3,204.3 L301.0,202.4 L301.6,200.2 L302.3,205.3 L303.0,210.8 L303.6,213.9 L304.3,216.5 L305.1,209.3 L305.8,201.2 L306.6,206.0 L307.4,212.7 L308.1,215.2 L308.7,218.5 L309.4,221.1 L310.1,226.2 L310.8,221.9 L311.6,218.5 L312.4,209.0 L313.2,197.3 L313.8,200.6 L314.5,203.1 L315.5,226.2 L316.2,229.0 L317.0,231.9 L317.7,233.4 L318.3,236.7 L319.0,232.0 L319.6,229.7 L320.3,225.2 L320.9,226.0 L321.6,224.2 L322.4,228.0 L323.2,231.9 L323.8,236.1 L324.4,238.5 L325.1,241.5 L325.8,235.5 L326.6,228.1 L327.3,220.8 L328.0,215.6 L328.9,228.1 L329.6,232.4 L330.2,235.2 L330.8,239.6 L331.6,237.5 L332.4,233.8 L333.1,235.8 L333.7,239.6 L334.4,235.5 L335.1,230.0 L335.8,230.1 L336.6,231.9 L337.4,237.4 L338.2,245.4 L338.8,246.4 L339.4,246.3 L340.1,247.3 L340.8,249.2 L341.6,250.1 L342.4,253.1 L343.0,254.9 L343.7,257.5 L344.3,258.8 L344.9,259.3 L345.6,261.0 L346.2,260.8 L346.9,262.7 L347.5,266.6 L348.2,268.5 L348.9,271.5 L349.7,273.7 Z" fill="#ce7768" fill-opacity="0.86" stroke="none"/>
<path d="M289.5,273.7 L290.1,271.5 L290.8,268.7 L291.4,266.5 L292.1,259.4 L292.7,251.3 L293.3,243.5 L294.0,230.2 L294.7,214.6 L295.3,208.8 L295.8,201.2 L296.5,195.9 L297.2,191.5 L297.9,190.9 L298.5,191.5 L299.1,199.2 L299.7,205.0 L300.3,204.3 L301.0,202.4 L301.6,200.2 L302.3,205.3 L303.0,210.8 L303.6,213.9 L304.3,216.5 L305.1,209.3 L305.8,201.2 L306.6,206.0 L307.4,212.7 L308.1,215.2 L308.7,218.5 L309.4,221.1 L310.1,226.2 L310.8,221.9 L311.6,218.5 L312.4,209.0 L313.2,197.3 L313.8,200.6 L314.5,203.1 L315.5,226.2 L316.2,229.0 L317.0,231.9 L317.7,233.4 L318.3,236.7 L319.0,232.0 L319.6,229.7 L320.3,225.2 L320.9,226.0 L321.6,224.2 L322.4,228.0 L323.2,231.9 L323.8,236.1 L324.4,238.5 L325.1,241.5 L325.8,235.5 L326.6,228.1 L327.3,220.8 L328.0,215.6 L328.9,228.1 L329.6,232.4 L330.2,235.2 L330.8,239.6 L331.6,237.5 L332.4,233.8 L333.1,235.8 L333.7,239.6 L334.4,235.5 L335.1,230.0 L335.8,230.1 L336.6,231.9 L337.4,237.4 L338.2,245.4 L338.8,246.4 L339.4,246.3 L340.1,247.3 L340.8,249.2 L341.6,250.1 L342.4,253.1 L343.0,254.9 L343.7,257.5 L344.3,258.8 L344.9,259.3 L345.6,261.0 L346.2,260.8 L346.9,262.7 L347.5,266.6 L348.2,268.5 L348.9,271.5 L349.7,273.7" fill="none" stroke="#ae062f" stroke-width="1.3" stroke-linejoin="round"/>
<path d="M288.5,273.7 L289.5,271.4 L290.5,268.5 L291.4,260.5 L292.4,253.1 L293.2,241.1 L293.9,230.0 L294.6,217.6 L295.3,205.0 L295.9,202.0 L296.6,199.2 L297.8,189.6 L298.4,192.0 L299.1,193.5 L300.1,205.0 L300.8,212.0 L301.6,218.5 L302.6,224.6 L303.5,230.0 L304.5,234.2 L305.5,237.7 L306.4,244.2 L307.4,251.2 L308.2,252.3 L308.9,252.8 L309.7,254.0 L310.5,256.0 L311.2,258.3 L312.0,260.8 L312.8,262.5 L313.7,264.2 L314.5,266.5 L315.2,267.3 L315.9,268.5 L316.7,269.2 L317.4,270.4 L318.1,271.1 L318.8,271.8 L319.5,272.5 L320.3,273.3 L321.0,273.5 L321.7,273.7 L322.4,273.7 L323.2,273.7" fill="none" stroke="#6fb044" stroke-width="1.1" stroke-linejoin="round" opacity="0.62"/>
<path d="M292.4,273.7 L293.0,270.9 L293.7,268.1 L294.3,264.6 L294.9,257.4 L295.6,250.3 L296.2,243.5 L296.9,238.1 L297.5,232.8 L298.2,228.1 L298.9,224.4 L299.7,218.5 L300.4,218.5 L301.0,217.5 L301.7,215.4 L302.4,212.7 L303.2,216.5 L303.9,218.5 L304.7,222.5 L305.5,227.1 L306.1,221.7 L306.8,216.5 L307.5,215.6 L308.2,214.6 L308.9,209.7 L309.7,204.0 L310.3,209.9 L310.8,214.6 L311.4,212.4 L312.0,208.8 L312.8,207.1 L313.5,203.1 L314.3,211.9 L315.1,218.5 L315.8,220.9 L316.4,224.2 L317.1,214.4 L317.8,204.0 L318.5,207.5 L319.3,208.8 L320.1,209.7 L320.8,210.8 L321.6,213.4 L322.4,216.5 L323.2,219.4 L324.1,224.2 L324.8,220.3 L325.5,216.5 L326.1,216.1 L326.7,214.6 L327.4,214.6 L328.2,211.7 L328.9,210.8 L329.6,209.3 L330.2,206.6 L330.8,205.0 L331.5,203.8 L332.1,202.2 L332.8,201.2 L333.5,199.2 L334.3,197.3 L335.3,189.6 L336.2,201.2 L336.9,207.8 L337.6,216.5 L338.2,224.3 L338.9,230.0 L339.7,236.4 L340.5,241.5 L341.2,243.3 L342.0,247.3 L342.7,253.3 L343.3,256.9 L344.0,257.7 L344.6,258.9 L345.3,258.8 L345.9,260.6 L346.6,260.0 L347.2,261.7 L347.8,261.2 L348.4,262.0 L349.1,261.7 L349.7,262.7 L350.5,263.3 L351.2,263.7 L352.0,265.6 L352.8,266.8 L353.5,268.2 L354.3,269.4 L354.9,270.4 L355.6,271.4 L356.2,272.4 L356.8,273.3 L357.4,273.6 L358.1,273.7 L358.7,273.7" fill="none" stroke="#2a4782" stroke-width="1.3" stroke-linejoin="round"/>
<rect x="282.00" y="184.80" width="89.60" height="89.50" fill="none" stroke="#000" stroke-width="1.5" />
<line x1="279.00" y1="273.70" x2="282.00" y2="273.70" stroke="#000" stroke-width="1.3" />
<line x1="280.20" y1="269.40" x2="282.00" y2="269.40" stroke="#000" stroke-width="0.8" />
<line x1="279.00" y1="265.10" x2="282.00" y2="265.10" stroke="#000" stroke-width="1.3" />
<line x1="280.20" y1="260.80" x2="282.00" y2="260.80" stroke="#000" stroke-width="0.8" />
<line x1="279.00" y1="256.50" x2="282.00" y2="256.50" stroke="#000" stroke-width="1.3" />
<line x1="280.20" y1="252.20" x2="282.00" y2="252.20" stroke="#000" stroke-width="0.8" />
<line x1="279.00" y1="247.90" x2="282.00" y2="247.90" stroke="#000" stroke-width="1.3" />
<line x1="280.20" y1="243.60" x2="282.00" y2="243.60" stroke="#000" stroke-width="0.8" />
<line x1="279.00" y1="239.30" x2="282.00" y2="239.30" stroke="#000" stroke-width="1.3" />
<line x1="280.20" y1="235.00" x2="282.00" y2="235.00" stroke="#000" stroke-width="0.8" />
<line x1="279.00" y1="230.70" x2="282.00" y2="230.70" stroke="#000" stroke-width="1.3" />
<line x1="280.20" y1="226.40" x2="282.00" y2="226.40" stroke="#000" stroke-width="0.8" />
<line x1="279.00" y1="222.10" x2="282.00" y2="222.10" stroke="#000" stroke-width="1.3" />
<line x1="280.20" y1="217.80" x2="282.00" y2="217.80" stroke="#000" stroke-width="0.8" />
<line x1="279.00" y1="213.50" x2="282.00" y2="213.50" stroke="#000" stroke-width="1.3" />
<line x1="280.20" y1="209.20" x2="282.00" y2="209.20" stroke="#000" stroke-width="0.8" />
<line x1="279.00" y1="204.90" x2="282.00" y2="204.90" stroke="#000" stroke-width="1.3" />
<line x1="280.20" y1="200.60" x2="282.00" y2="200.60" stroke="#000" stroke-width="0.8" />
<line x1="279.00" y1="196.30" x2="282.00" y2="196.30" stroke="#000" stroke-width="1.3" />
<line x1="280.20" y1="192.00" x2="282.00" y2="192.00" stroke="#000" stroke-width="0.8" />
<line x1="279.00" y1="187.70" x2="282.00" y2="187.70" stroke="#000" stroke-width="1.3" />
<line x1="284.50" y1="274.30" x2="284.50" y2="277.30" stroke="#000" stroke-width="1.3" />
<line x1="289.71" y1="274.30" x2="289.71" y2="276.30" stroke="#000" stroke-width="0.9" />
<line x1="292.75" y1="274.30" x2="292.75" y2="276.30" stroke="#000" stroke-width="0.9" />
<line x1="294.92" y1="274.30" x2="294.92" y2="276.30" stroke="#000" stroke-width="0.9" />
<line x1="296.59" y1="274.30" x2="296.59" y2="276.30" stroke="#000" stroke-width="0.9" />
<line x1="297.96" y1="274.30" x2="297.96" y2="276.30" stroke="#000" stroke-width="0.9" />
<line x1="300.12" y1="274.30" x2="300.12" y2="276.30" stroke="#000" stroke-width="0.9" />
<line x1="301.80" y1="274.30" x2="301.80" y2="277.30" stroke="#000" stroke-width="1.3" />
<line x1="307.01" y1="274.30" x2="307.01" y2="276.30" stroke="#000" stroke-width="0.9" />
<line x1="310.05" y1="274.30" x2="310.05" y2="276.30" stroke="#000" stroke-width="0.9" />
<line x1="312.22" y1="274.30" x2="312.22" y2="276.30" stroke="#000" stroke-width="0.9" />
<line x1="313.89" y1="274.30" x2="313.89" y2="276.30" stroke="#000" stroke-width="0.9" />
<line x1="315.26" y1="274.30" x2="315.26" y2="276.30" stroke="#000" stroke-width="0.9" />
<line x1="317.42" y1="274.30" x2="317.42" y2="276.30" stroke="#000" stroke-width="0.9" />
<line x1="319.10" y1="274.30" x2="319.10" y2="277.30" stroke="#000" stroke-width="1.3" />
<line x1="324.31" y1="274.30" x2="324.31" y2="276.30" stroke="#000" stroke-width="0.9" />
<line x1="327.35" y1="274.30" x2="327.35" y2="276.30" stroke="#000" stroke-width="0.9" />
<line x1="329.52" y1="274.30" x2="329.52" y2="276.30" stroke="#000" stroke-width="0.9" />
<line x1="331.19" y1="274.30" x2="331.19" y2="276.30" stroke="#000" stroke-width="0.9" />
<line x1="332.56" y1="274.30" x2="332.56" y2="276.30" stroke="#000" stroke-width="0.9" />
<line x1="334.72" y1="274.30" x2="334.72" y2="276.30" stroke="#000" stroke-width="0.9" />
<line x1="336.40" y1="274.30" x2="336.40" y2="277.30" stroke="#000" stroke-width="1.3" />
<line x1="341.61" y1="274.30" x2="341.61" y2="276.30" stroke="#000" stroke-width="0.9" />
<line x1="344.65" y1="274.30" x2="344.65" y2="276.30" stroke="#000" stroke-width="0.9" />
<line x1="346.82" y1="274.30" x2="346.82" y2="276.30" stroke="#000" stroke-width="0.9" />
<line x1="348.49" y1="274.30" x2="348.49" y2="276.30" stroke="#000" stroke-width="0.9" />
<line x1="349.86" y1="274.30" x2="349.86" y2="276.30" stroke="#000" stroke-width="0.9" />
<line x1="352.02" y1="274.30" x2="352.02" y2="276.30" stroke="#000" stroke-width="0.9" />
<line x1="353.70" y1="274.30" x2="353.70" y2="277.30" stroke="#000" stroke-width="1.3" />
<line x1="358.91" y1="274.30" x2="358.91" y2="276.30" stroke="#000" stroke-width="0.9" />
<line x1="361.95" y1="274.30" x2="361.95" y2="276.30" stroke="#000" stroke-width="0.9" />
<line x1="364.12" y1="274.30" x2="364.12" y2="276.30" stroke="#000" stroke-width="0.9" />
<line x1="365.79" y1="274.30" x2="365.79" y2="276.30" stroke="#000" stroke-width="0.9" />
<line x1="367.16" y1="274.30" x2="367.16" y2="276.30" stroke="#000" stroke-width="0.9" />
<line x1="369.32" y1="274.30" x2="369.32" y2="276.30" stroke="#000" stroke-width="0.9" />
<rect x="35.40" y="300.80" width="89.80" height="89.40" fill="#fff" stroke="none" stroke-width="1" />
<path d="M42.5,389.6 L43.5,388.4 L44.4,386.4 L45.4,379.9 L46.3,372.9 L47.0,361.7 L47.7,349.8 L48.8,326.8 L50.0,311.4 L51.2,314.3 L51.9,307.5 L52.9,306.6 L53.7,321.0 L54.4,340.2 L55.2,343.1 L56.3,335.4 L57.3,344.1 L58.1,349.5 L58.8,355.6 L59.8,361.3 L60.8,367.2 L61.7,370.8 L62.7,374.8 L63.7,378.5 L64.6,382.5 L65.6,385.0 L66.5,387.3 L67.3,387.8 L68.0,388.3 L68.7,388.8 L69.4,389.3 L70.1,389.5 L70.9,389.6 L71.6,389.6 L72.3,389.6" fill="none" stroke="#6fb044" stroke-width="1.3" stroke-linejoin="round"/>
<path d="M44.4,389.6 L45.0,389.0 L45.7,387.7 L46.3,386.3 L46.9,385.4 L47.7,383.8 L48.5,382.3 L49.2,380.6 L50.0,379.3 L50.8,380.5 L51.5,379.1 L52.2,378.8 L52.8,380.9 L53.5,380.6 L54.1,380.3 L54.7,378.6 L55.3,375.9 L56.0,374.8 L56.6,374.9 L57.2,373.5 L57.8,373.7 L58.5,372.0 L59.1,371.6 L59.7,368.7 L60.4,367.2 L61.0,366.0 L61.7,364.3 L62.3,364.3 L62.9,362.7 L63.6,359.1 L64.2,357.5 L64.9,354.2 L65.5,353.0 L66.2,349.8 L66.9,350.0 L67.7,350.3 L68.5,348.9 L69.1,348.1 L69.7,346.1 L70.4,344.1 L71.2,343.1 L71.9,340.2 L72.7,338.0 L73.5,337.3 L74.0,334.3 L74.6,330.6 L75.4,329.3 L76.2,326.8 L76.9,329.6 L77.7,330.6 L78.5,327.0 L79.2,324.8 L79.8,321.3 L80.4,316.2 L81.2,317.5 L81.9,317.2 L82.6,317.3 L83.2,316.2 L83.8,316.2 L84.5,314.7 L85.1,315.7 L85.8,314.3 L86.5,310.7 L87.3,307.5 L88.0,311.4 L88.7,314.3 L89.3,313.2 L90.0,311.4 L90.8,313.7 L91.5,317.2 L92.3,319.7 L93.1,324.8 L93.8,326.7 L94.4,329.7 L95.1,330.8 L95.7,333.2 L96.3,334.5 L97.0,339.6 L97.7,343.1 L98.5,345.4 L99.2,349.8 L99.9,351.4 L100.5,353.5 L101.2,353.7 L101.9,357.5 L102.7,363.3 L103.3,363.5 L104.0,365.9 L104.6,365.2 L105.3,369.0 L105.9,369.7 L106.5,372.9 L107.2,375.7 L107.8,376.2 L108.5,378.7 L109.2,379.1 L110.0,379.4 L110.8,380.6 L111.5,381.8 L112.3,384.6 L113.1,386.4 L113.7,387.4 L114.3,388.3 L115.0,389.3 L115.6,389.6 Z" fill="#ce7768" fill-opacity="0.86" stroke="none"/>
<path d="M44.4,389.6 L45.0,389.0 L45.7,387.7 L46.3,386.3 L46.9,385.4 L47.7,383.8 L48.5,382.3 L49.2,380.6 L50.0,379.3 L50.8,380.5 L51.5,379.1 L52.2,378.8 L52.8,380.9 L53.5,380.6 L54.1,380.3 L54.7,378.6 L55.3,375.9 L56.0,374.8 L56.6,374.9 L57.2,373.5 L57.8,373.7 L58.5,372.0 L59.1,371.6 L59.7,368.7 L60.4,367.2 L61.0,366.0 L61.7,364.3 L62.3,364.3 L62.9,362.7 L63.6,359.1 L64.2,357.5 L64.9,354.2 L65.5,353.0 L66.2,349.8 L66.9,350.0 L67.7,350.3 L68.5,348.9 L69.1,348.1 L69.7,346.1 L70.4,344.1 L71.2,343.1 L71.9,340.2 L72.7,338.0 L73.5,337.3 L74.0,334.3 L74.6,330.6 L75.4,329.3 L76.2,326.8 L76.9,329.6 L77.7,330.6 L78.5,327.0 L79.2,324.8 L79.8,321.3 L80.4,316.2 L81.2,317.5 L81.9,317.2 L82.6,317.3 L83.2,316.2 L83.8,316.2 L84.5,314.7 L85.1,315.7 L85.8,314.3 L86.5,310.7 L87.3,307.5 L88.0,311.4 L88.7,314.3 L89.3,313.2 L90.0,311.4 L90.8,313.7 L91.5,317.2 L92.3,319.7 L93.1,324.8 L93.8,326.7 L94.4,329.7 L95.1,330.8 L95.7,333.2 L96.3,334.5 L97.0,339.6 L97.7,343.1 L98.5,345.4 L99.2,349.8 L99.9,351.4 L100.5,353.5 L101.2,353.7 L101.9,357.5 L102.7,363.3 L103.3,363.5 L104.0,365.9 L104.6,365.2 L105.3,369.0 L105.9,369.7 L106.5,372.9 L107.2,375.7 L107.8,376.2 L108.5,378.7 L109.2,379.1 L110.0,379.4 L110.8,380.6 L111.5,381.8 L112.3,384.6 L113.1,386.4 L113.7,387.4 L114.3,388.3 L115.0,389.3 L115.6,389.6" fill="none" stroke="#ae062f" stroke-width="1.3" stroke-linejoin="round"/>
<path d="M42.5,389.6 L43.5,388.4 L44.4,386.4 L45.4,379.9 L46.3,372.9 L47.0,361.7 L47.7,349.8 L48.8,326.8 L50.0,311.4 L51.2,314.3 L51.9,307.5 L52.9,306.6 L53.7,321.0 L54.4,340.2 L55.2,343.1 L56.3,335.4 L57.3,344.1 L58.1,349.5 L58.8,355.6 L59.8,361.3 L60.8,367.2 L61.7,370.8 L62.7,374.8 L63.7,378.5 L64.6,382.5 L65.6,385.0 L66.5,387.3 L67.3,387.8 L68.0,388.3 L68.7,388.8 L69.4,389.3 L70.1,389.5 L70.9,389.6 L71.6,389.6 L72.3,389.6" fill="none" stroke="#6fb044" stroke-width="1.1" stroke-linejoin="round" opacity="0.62"/>
<path d="M43.5,389.6 L44.1,387.7 L44.7,384.7 L45.4,382.5 L46.2,380.0 L46.9,377.7 L47.6,377.5 L48.2,378.7 L48.8,377.7 L49.5,379.9 L50.1,378.8 L50.8,380.6 L51.5,379.1 L52.3,378.9 L53.1,377.7 L53.7,378.9 L54.4,378.9 L55.0,380.6 L55.8,378.8 L56.5,377.5 L57.3,376.8 L58.1,374.8 L58.8,371.0 L59.5,369.2 L60.1,369.1 L60.8,367.2 L61.4,367.1 L62.1,366.2 L62.7,365.2 L63.5,359.5 L64.2,355.6 L64.9,356.3 L65.5,359.4 L66.2,360.4 L66.8,357.0 L67.4,354.9 L68.1,351.8 L68.7,350.0 L69.4,350.5 L70.0,347.9 L70.6,345.6 L71.3,342.9 L71.9,342.2 L72.7,338.8 L73.5,334.5 L74.2,330.8 L75.0,328.7 L75.8,327.1 L76.5,325.8 L77.3,328.0 L78.1,332.5 L78.8,330.3 L79.6,328.7 L80.4,324.0 L81.2,318.1 L81.9,319.2 L82.7,320.0 L83.5,319.2 L84.2,317.2 L84.9,314.7 L85.5,313.7 L86.2,313.3 L86.9,309.5 L87.7,306.6 L88.5,307.7 L89.2,310.4 L90.0,313.3 L90.8,315.2 L91.5,313.7 L92.3,312.3 L93.1,317.6 L93.8,321.0 L94.6,318.5 L95.4,316.2 L96.2,319.9 L96.9,324.8 L97.7,329.7 L98.5,332.5 L99.2,329.6 L100.0,328.7 L100.8,330.4 L101.5,333.5 L102.3,338.4 L103.1,342.2 L103.8,344.3 L104.6,347.9 L105.4,349.9 L106.2,353.7 L106.9,356.2 L107.7,359.5 L108.5,360.5 L109.2,360.4 L110.0,363.6 L110.8,368.1 L111.4,367.6 L112.1,368.1 L112.7,370.0 L113.3,370.5 L114.0,369.6 L114.6,369.1 L115.4,375.9 L116.2,380.6 L116.8,383.5 L117.4,387.1 L118.1,389.6" fill="none" stroke="#2a4782" stroke-width="1.3" stroke-linejoin="round"/>
<rect x="35.40" y="300.80" width="89.80" height="89.40" fill="none" stroke="#000" stroke-width="1.5" />
<line x1="32.40" y1="389.60" x2="35.40" y2="389.60" stroke="#000" stroke-width="1.3" />
<line x1="33.60" y1="385.30" x2="35.40" y2="385.30" stroke="#000" stroke-width="0.8" />
<line x1="32.40" y1="381.00" x2="35.40" y2="381.00" stroke="#000" stroke-width="1.3" />
<line x1="33.60" y1="376.70" x2="35.40" y2="376.70" stroke="#000" stroke-width="0.8" />
<line x1="32.40" y1="372.40" x2="35.40" y2="372.40" stroke="#000" stroke-width="1.3" />
<line x1="33.60" y1="368.10" x2="35.40" y2="368.10" stroke="#000" stroke-width="0.8" />
<line x1="32.40" y1="363.80" x2="35.40" y2="363.80" stroke="#000" stroke-width="1.3" />
<line x1="33.60" y1="359.50" x2="35.40" y2="359.50" stroke="#000" stroke-width="0.8" />
<line x1="32.40" y1="355.20" x2="35.40" y2="355.20" stroke="#000" stroke-width="1.3" />
<line x1="33.60" y1="350.90" x2="35.40" y2="350.90" stroke="#000" stroke-width="0.8" />
<line x1="32.40" y1="346.60" x2="35.40" y2="346.60" stroke="#000" stroke-width="1.3" />
<line x1="33.60" y1="342.30" x2="35.40" y2="342.30" stroke="#000" stroke-width="0.8" />
<line x1="32.40" y1="338.00" x2="35.40" y2="338.00" stroke="#000" stroke-width="1.3" />
<line x1="33.60" y1="333.70" x2="35.40" y2="333.70" stroke="#000" stroke-width="0.8" />
<line x1="32.40" y1="329.40" x2="35.40" y2="329.40" stroke="#000" stroke-width="1.3" />
<line x1="33.60" y1="325.10" x2="35.40" y2="325.10" stroke="#000" stroke-width="0.8" />
<line x1="32.40" y1="320.80" x2="35.40" y2="320.80" stroke="#000" stroke-width="1.3" />
<line x1="33.60" y1="316.50" x2="35.40" y2="316.50" stroke="#000" stroke-width="0.8" />
<line x1="32.40" y1="312.20" x2="35.40" y2="312.20" stroke="#000" stroke-width="1.3" />
<line x1="33.60" y1="307.90" x2="35.40" y2="307.90" stroke="#000" stroke-width="0.8" />
<line x1="32.40" y1="303.60" x2="35.40" y2="303.60" stroke="#000" stroke-width="1.3" />
<line x1="37.90" y1="390.20" x2="37.90" y2="393.20" stroke="#000" stroke-width="1.3" />
<line x1="43.11" y1="390.20" x2="43.11" y2="392.20" stroke="#000" stroke-width="0.9" />
<line x1="46.15" y1="390.20" x2="46.15" y2="392.20" stroke="#000" stroke-width="0.9" />
<line x1="48.32" y1="390.20" x2="48.32" y2="392.20" stroke="#000" stroke-width="0.9" />
<line x1="49.99" y1="390.20" x2="49.99" y2="392.20" stroke="#000" stroke-width="0.9" />
<line x1="51.36" y1="390.20" x2="51.36" y2="392.20" stroke="#000" stroke-width="0.9" />
<line x1="53.52" y1="390.20" x2="53.52" y2="392.20" stroke="#000" stroke-width="0.9" />
<line x1="55.20" y1="390.20" x2="55.20" y2="393.20" stroke="#000" stroke-width="1.3" />
<line x1="60.41" y1="390.20" x2="60.41" y2="392.20" stroke="#000" stroke-width="0.9" />
<line x1="63.45" y1="390.20" x2="63.45" y2="392.20" stroke="#000" stroke-width="0.9" />
<line x1="65.62" y1="390.20" x2="65.62" y2="392.20" stroke="#000" stroke-width="0.9" />
<line x1="67.29" y1="390.20" x2="67.29" y2="392.20" stroke="#000" stroke-width="0.9" />
<line x1="68.66" y1="390.20" x2="68.66" y2="392.20" stroke="#000" stroke-width="0.9" />
<line x1="70.82" y1="390.20" x2="70.82" y2="392.20" stroke="#000" stroke-width="0.9" />
<line x1="72.50" y1="390.20" x2="72.50" y2="393.20" stroke="#000" stroke-width="1.3" />
<line x1="77.71" y1="390.20" x2="77.71" y2="392.20" stroke="#000" stroke-width="0.9" />
<line x1="80.75" y1="390.20" x2="80.75" y2="392.20" stroke="#000" stroke-width="0.9" />
<line x1="82.92" y1="390.20" x2="82.92" y2="392.20" stroke="#000" stroke-width="0.9" />
<line x1="84.59" y1="390.20" x2="84.59" y2="392.20" stroke="#000" stroke-width="0.9" />
<line x1="85.96" y1="390.20" x2="85.96" y2="392.20" stroke="#000" stroke-width="0.9" />
<line x1="88.12" y1="390.20" x2="88.12" y2="392.20" stroke="#000" stroke-width="0.9" />
<line x1="89.80" y1="390.20" x2="89.80" y2="393.20" stroke="#000" stroke-width="1.3" />
<line x1="95.01" y1="390.20" x2="95.01" y2="392.20" stroke="#000" stroke-width="0.9" />
<line x1="98.05" y1="390.20" x2="98.05" y2="392.20" stroke="#000" stroke-width="0.9" />
<line x1="100.22" y1="390.20" x2="100.22" y2="392.20" stroke="#000" stroke-width="0.9" />
<line x1="101.89" y1="390.20" x2="101.89" y2="392.20" stroke="#000" stroke-width="0.9" />
<line x1="103.26" y1="390.20" x2="103.26" y2="392.20" stroke="#000" stroke-width="0.9" />
<line x1="105.42" y1="390.20" x2="105.42" y2="392.20" stroke="#000" stroke-width="0.9" />
<line x1="107.10" y1="390.20" x2="107.10" y2="393.20" stroke="#000" stroke-width="1.3" />
<line x1="112.31" y1="390.20" x2="112.31" y2="392.20" stroke="#000" stroke-width="0.9" />
<line x1="115.35" y1="390.20" x2="115.35" y2="392.20" stroke="#000" stroke-width="0.9" />
<line x1="117.52" y1="390.20" x2="117.52" y2="392.20" stroke="#000" stroke-width="0.9" />
<line x1="119.19" y1="390.20" x2="119.19" y2="392.20" stroke="#000" stroke-width="0.9" />
<line x1="120.56" y1="390.20" x2="120.56" y2="392.20" stroke="#000" stroke-width="0.9" />
<line x1="122.72" y1="390.20" x2="122.72" y2="392.20" stroke="#000" stroke-width="0.9" />
<rect x="282.00" y="300.80" width="89.60" height="89.40" fill="#fff" stroke="none" stroke-width="1" />
<path d="M288.9,389.6 L289.9,387.3 L290.8,384.5 L291.8,374.3 L292.8,365.2 L293.5,350.2 L294.3,334.5 L295.5,313.3 L296.6,305.6 L297.8,313.3 L298.7,315.2 L299.7,308.5 L300.7,324.8 L301.6,340.2 L302.4,347.5 L303.2,353.7 L304.0,358.7 L304.9,363.3 L305.6,365.6 L306.2,367.2 L307.0,369.5 L307.8,372.9 L308.7,376.1 L309.7,378.7 L310.5,381.0 L311.2,382.5 L312.0,384.5 L312.8,385.6 L313.7,386.7 L314.5,387.9 L315.2,388.4 L315.9,388.8 L316.7,389.2 L317.4,389.6 L318.2,389.6 L318.9,389.6 L319.7,389.6 L320.5,389.6 L321.2,389.6" fill="none" stroke="#6fb044" stroke-width="1.3" stroke-linejoin="round"/>
<path d="M290.1,389.6 L290.7,387.2 L291.4,384.1 L292.0,380.6 L292.6,371.2 L293.3,362.9 L293.9,353.7 L294.7,341.8 L295.5,330.6 L296.1,325.4 L296.8,321.0 L297.5,322.2 L298.2,324.8 L298.9,322.0 L299.7,320.0 L300.3,326.0 L300.8,334.5 L301.6,340.0 L302.4,346.0 L303.2,350.3 L303.9,353.7 L304.7,356.4 L305.5,356.6 L306.2,358.3 L307.0,359.5 L307.8,363.0 L308.5,368.1 L309.2,369.2 L309.9,367.7 L310.7,369.1 L311.3,369.3 L311.9,369.9 L312.6,371.0 L313.2,372.3 L313.8,372.8 L314.5,371.4 L315.1,372.9 L315.7,373.9 L316.4,374.5 L317.0,374.8 L317.6,374.5 L318.3,373.4 L318.9,372.0 L319.6,374.3 L320.2,378.0 L320.8,379.7 L321.6,380.4 L322.4,380.9 L323.2,381.6 L323.9,381.7 L324.6,382.4 L325.3,382.3 L326.0,382.5 L326.7,381.4 L327.3,380.7 L327.9,378.7 L328.5,378.7 L329.2,378.2 L329.8,376.3 L330.5,373.9 L331.2,374.9 L332.0,376.8 L332.8,378.7 L333.4,378.6 L334.1,377.1 L334.7,376.8 L335.5,379.0 L336.2,380.2 L337.0,380.6 L337.6,381.5 L338.2,380.9 L338.9,382.2 L339.5,382.5 L340.1,381.3 L340.8,380.3 L341.4,378.7 L342.1,379.0 L342.7,379.1 L343.3,379.7 L344.0,380.5 L344.6,381.7 L345.3,382.5 L345.9,384.3 L346.6,386.0 L347.2,387.3 L347.8,388.0 L348.4,388.5 L349.1,389.1 L349.7,389.6 L350.5,389.6 L351.2,389.6 L352.0,389.6 Z" fill="#ce7768" fill-opacity="0.86" stroke="none"/>
<path d="M290.1,389.6 L290.7,387.2 L291.4,384.1 L292.0,380.6 L292.6,371.2 L293.3,362.9 L293.9,353.7 L294.7,341.8 L295.5,330.6 L296.1,325.4 L296.8,321.0 L297.5,322.2 L298.2,324.8 L298.9,322.0 L299.7,320.0 L300.3,326.0 L300.8,334.5 L301.6,340.0 L302.4,346.0 L303.2,350.3 L303.9,353.7 L304.7,356.4 L305.5,356.6 L306.2,358.3 L307.0,359.5 L307.8,363.0 L308.5,368.1 L309.2,369.2 L309.9,367.7 L310.7,369.1 L311.3,369.3 L311.9,369.9 L312.6,371.0 L313.2,372.3 L313.8,372.8 L314.5,371.4 L315.1,372.9 L315.7,373.9 L316.4,374.5 L317.0,374.8 L317.6,374.5 L318.3,373.4 L318.9,372.0 L319.6,374.3 L320.2,378.0 L320.8,379.7 L321.6,380.4 L322.4,380.9 L323.2,381.6 L323.9,381.7 L324.6,382.4 L325.3,382.3 L326.0,382.5 L326.7,381.4 L327.3,380.7 L327.9,378.7 L328.5,378.7 L329.2,378.2 L329.8,376.3 L330.5,373.9 L331.2,374.9 L332.0,376.8 L332.8,378.7 L333.4,378.6 L334.1,377.1 L334.7,376.8 L335.5,379.0 L336.2,380.2 L337.0,380.6 L337.6,381.5 L338.2,380.9 L338.9,382.2 L339.5,382.5 L340.1,381.3 L340.8,380.3 L341.4,378.7 L342.1,379.0 L342.7,379.1 L343.3,379.7 L344.0,380.5 L344.6,381.7 L345.3,382.5 L345.9,384.3 L346.6,386.0 L347.2,387.3 L347.8,388.0 L348.4,388.5 L349.1,389.1 L349.7,389.6 L350.5,389.6 L351.2,389.6 L352.0,389.6" fill="none" stroke="#ae062f" stroke-width="1.3" stroke-linejoin="round"/>
<path d="M288.9,389.6 L289.9,387.3 L290.8,384.5 L291.8,374.3 L292.8,365.2 L293.5,350.2 L294.3,334.5 L295.5,313.3 L296.6,305.6 L297.8,313.3 L298.7,315.2 L299.7,308.5 L300.7,324.8 L301.6,340.2 L302.4,347.5 L303.2,353.7 L304.0,358.7 L304.9,363.3 L305.6,365.6 L306.2,367.2 L307.0,369.5 L307.8,372.9 L308.7,376.1 L309.7,378.7 L310.5,381.0 L311.2,382.5 L312.0,384.5 L312.8,385.6 L313.7,386.7 L314.5,387.9 L315.2,388.4 L315.9,388.8 L316.7,389.2 L317.4,389.6 L318.2,389.6 L318.9,389.6 L319.7,389.6 L320.5,389.6 L321.2,389.6" fill="none" stroke="#6fb044" stroke-width="1.1" stroke-linejoin="round" opacity="0.62"/>
<path d="M290.1,389.6 L290.7,386.1 L291.4,382.3 L292.0,378.7 L292.6,370.3 L293.3,359.9 L293.9,349.8 L294.7,338.1 L295.5,324.8 L296.1,318.8 L296.8,315.2 L297.5,316.9 L298.2,319.1 L298.9,318.8 L299.7,316.2 L300.5,321.6 L301.2,326.8 L301.8,325.8 L302.4,324.8 L303.0,332.5 L303.5,338.3 L304.2,339.2 L304.9,340.2 L305.6,337.8 L306.2,337.3 L307.0,343.8 L307.8,347.9 L308.5,348.4 L309.3,350.8 L310.1,348.3 L310.8,347.0 L311.6,351.8 L312.4,355.6 L313.2,354.2 L313.9,353.7 L314.7,359.0 L315.5,362.3 L316.1,363.5 L316.7,362.5 L317.4,364.3 L318.0,367.8 L318.7,368.3 L319.3,371.0 L320.1,369.1 L320.8,368.1 L321.6,365.2 L322.3,367.9 L322.9,369.5 L323.5,371.0 L324.2,371.1 L324.8,371.6 L325.5,372.9 L326.1,375.1 L326.7,377.2 L327.4,380.6 L328.0,377.2 L328.7,374.8 L329.3,372.9 L329.9,373.6 L330.6,374.8 L331.2,376.8 L331.9,375.2 L332.5,376.4 L333.2,374.8 L333.8,377.3 L334.4,378.4 L335.1,378.7 L335.7,377.6 L336.4,377.5 L337.0,377.7 L337.6,378.6 L338.3,378.6 L338.9,380.6 L339.5,380.9 L340.2,379.7 L340.8,379.9 L341.4,378.7 L342.1,380.4 L342.7,380.8 L343.3,380.6 L344.0,380.9 L344.6,379.2 L345.3,379.1 L345.9,379.3 L346.5,381.5 L347.1,381.6 L347.8,382.5 L348.4,381.7 L349.1,380.8 L349.7,380.6 L350.3,378.7 L351.0,377.0 L351.6,375.8 L352.4,374.5 L353.2,374.8 L353.7,375.7 L354.3,378.7 L355.1,382.1 L355.8,386.4 L356.5,387.8 L357.1,389.0 L357.8,389.6" fill="none" stroke="#2a4782" stroke-width="1.3" stroke-linejoin="round"/>
<rect x="282.00" y="300.80" width="89.60" height="89.40" fill="none" stroke="#000" stroke-width="1.5" />
<line x1="279.00" y1="389.60" x2="282.00" y2="389.60" stroke="#000" stroke-width="1.3" />
<line x1="280.20" y1="385.30" x2="282.00" y2="385.30" stroke="#000" stroke-width="0.8" />
<line x1="279.00" y1="381.00" x2="282.00" y2="381.00" stroke="#000" stroke-width="1.3" />
<line x1="280.20" y1="376.70" x2="282.00" y2="376.70" stroke="#000" stroke-width="0.8" />
<line x1="279.00" y1="372.40" x2="282.00" y2="372.40" stroke="#000" stroke-width="1.3" />
<line x1="280.20" y1="368.10" x2="282.00" y2="368.10" stroke="#000" stroke-width="0.8" />
<line x1="279.00" y1="363.80" x2="282.00" y2="363.80" stroke="#000" stroke-width="1.3" />
<line x1="280.20" y1="359.50" x2="282.00" y2="359.50" stroke="#000" stroke-width="0.8" />
<line x1="279.00" y1="355.20" x2="282.00" y2="355.20" stroke="#000" stroke-width="1.3" />
<line x1="280.20" y1="350.90" x2="282.00" y2="350.90" stroke="#000" stroke-width="0.8" />
<line x1="279.00" y1="346.60" x2="282.00" y2="346.60" stroke="#000" stroke-width="1.3" />
<line x1="280.20" y1="342.30" x2="282.00" y2="342.30" stroke="#000" stroke-width="0.8" />
<line x1="279.00" y1="338.00" x2="282.00" y2="338.00" stroke="#000" stroke-width="1.3" />
<line x1="280.20" y1="333.70" x2="282.00" y2="333.70" stroke="#000" stroke-width="0.8" />
<line x1="279.00" y1="329.40" x2="282.00" y2="329.40" stroke="#000" stroke-width="1.3" />
<line x1="280.20" y1="325.10" x2="282.00" y2="325.10" stroke="#000" stroke-width="0.8" />
<line x1="279.00" y1="320.80" x2="282.00" y2="320.80" stroke="#000" stroke-width="1.3" />
<line x1="280.20" y1="316.50" x2="282.00" y2="316.50" stroke="#000" stroke-width="0.8" />
<line x1="279.00" y1="312.20" x2="282.00" y2="312.20" stroke="#000" stroke-width="1.3" />
<line x1="280.20" y1="307.90" x2="282.00" y2="307.90" stroke="#000" stroke-width="0.8" />
<line x1="279.00" y1="303.60" x2="282.00" y2="303.60" stroke="#000" stroke-width="1.3" />
<line x1="284.50" y1="390.20" x2="284.50" y2="393.20" stroke="#000" stroke-width="1.3" />
<line x1="289.71" y1="390.20" x2="289.71" y2="392.20" stroke="#000" stroke-width="0.9" />
<line x1="292.75" y1="390.20" x2="292.75" y2="392.20" stroke="#000" stroke-width="0.9" />
<line x1="294.92" y1="390.20" x2="294.92" y2="392.20" stroke="#000" stroke-width="0.9" />
<line x1="296.59" y1="390.20" x2="296.59" y2="392.20" stroke="#000" stroke-width="0.9" />
<line x1="297.96" y1="390.20" x2="297.96" y2="392.20" stroke="#000" stroke-width="0.9" />
<line x1="300.12" y1="390.20" x2="300.12" y2="392.20" stroke="#000" stroke-width="0.9" />
<line x1="301.80" y1="390.20" x2="301.80" y2="393.20" stroke="#000" stroke-width="1.3" />
<line x1="307.01" y1="390.20" x2="307.01" y2="392.20" stroke="#000" stroke-width="0.9" />
<line x1="310.05" y1="390.20" x2="310.05" y2="392.20" stroke="#000" stroke-width="0.9" />
<line x1="312.22" y1="390.20" x2="312.22" y2="392.20" stroke="#000" stroke-width="0.9" />
<line x1="313.89" y1="390.20" x2="313.89" y2="392.20" stroke="#000" stroke-width="0.9" />
<line x1="315.26" y1="390.20" x2="315.26" y2="392.20" stroke="#000" stroke-width="0.9" />
<line x1="317.42" y1="390.20" x2="317.42" y2="392.20" stroke="#000" stroke-width="0.9" />
<line x1="319.10" y1="390.20" x2="319.10" y2="393.20" stroke="#000" stroke-width="1.3" />
<line x1="324.31" y1="390.20" x2="324.31" y2="392.20" stroke="#000" stroke-width="0.9" />
<line x1="327.35" y1="390.20" x2="327.35" y2="392.20" stroke="#000" stroke-width="0.9" />
<line x1="329.52" y1="390.20" x2="329.52" y2="392.20" stroke="#000" stroke-width="0.9" />
<line x1="331.19" y1="390.20" x2="331.19" y2="392.20" stroke="#000" stroke-width="0.9" />
<line x1="332.56" y1="390.20" x2="332.56" y2="392.20" stroke="#000" stroke-width="0.9" />
<line x1="334.72" y1="390.20" x2="334.72" y2="392.20" stroke="#000" stroke-width="0.9" />
<line x1="336.40" y1="390.20" x2="336.40" y2="393.20" stroke="#000" stroke-width="1.3" />
<line x1="341.61" y1="390.20" x2="341.61" y2="392.20" stroke="#000" stroke-width="0.9" />
<line x1="344.65" y1="390.20" x2="344.65" y2="392.20" stroke="#000" stroke-width="0.9" />
<line x1="346.82" y1="390.20" x2="346.82" y2="392.20" stroke="#000" stroke-width="0.9" />
<line x1="348.49" y1="390.20" x2="348.49" y2="392.20" stroke="#000" stroke-width="0.9" />
<line x1="349.86" y1="390.20" x2="349.86" y2="392.20" stroke="#000" stroke-width="0.9" />
<line x1="352.02" y1="390.20" x2="352.02" y2="392.20" stroke="#000" stroke-width="0.9" />
<line x1="353.70" y1="390.20" x2="353.70" y2="393.20" stroke="#000" stroke-width="1.3" />
<line x1="358.91" y1="390.20" x2="358.91" y2="392.20" stroke="#000" stroke-width="0.9" />
<line x1="361.95" y1="390.20" x2="361.95" y2="392.20" stroke="#000" stroke-width="0.9" />
<line x1="364.12" y1="390.20" x2="364.12" y2="392.20" stroke="#000" stroke-width="0.9" />
<line x1="365.79" y1="390.20" x2="365.79" y2="392.20" stroke="#000" stroke-width="0.9" />
<line x1="367.16" y1="390.20" x2="367.16" y2="392.20" stroke="#000" stroke-width="0.9" />
<line x1="369.32" y1="390.20" x2="369.32" y2="392.20" stroke="#000" stroke-width="0.9" />
<rect x="35.40" y="418.20" width="89.80" height="89.40" fill="#fff" stroke="none" stroke-width="1" />
<path d="M42.5,507.0 L43.5,505.3 L44.4,503.4 L45.2,496.8 L46.0,489.9 L46.6,475.0 L47.3,461.1 L48.5,436.1 L49.6,423.6 L50.8,432.2 L51.9,443.8 L53.1,457.2 L53.8,466.1 L54.6,474.5 L55.6,478.8 L56.5,484.2 L57.3,486.4 L58.1,489.1 L58.8,491.8 L59.6,493.6 L60.4,495.2 L61.2,497.6 L62.0,499.4 L62.8,500.7 L63.7,502.4 L64.4,503.2 L65.1,504.0 L65.8,504.6 L66.5,505.3 L67.3,505.7 L68.0,506.1 L68.7,506.5 L69.4,506.8 L70.1,506.9 L70.9,507.0 L71.6,507.0 L72.3,507.0" fill="none" stroke="#6fb044" stroke-width="1.3" stroke-linejoin="round"/>
<path d="M43.8,507.0 L44.6,503.4 L45.4,499.5 L46.2,493.3 L46.9,486.1 L47.7,478.4 L48.5,472.6 L49.2,464.7 L50.0,459.2 L50.6,457.0 L51.2,456.3 L51.9,457.7 L52.7,458.2 L53.5,457.0 L54.2,453.4 L55.0,451.7 L55.8,450.5 L56.5,448.5 L57.3,445.7 L58.1,442.6 L58.8,440.9 L59.6,436.2 L60.4,433.2 L61.2,433.8 L61.9,432.2 L62.7,434.6 L63.5,437.0 L64.2,433.4 L65.0,431.3 L65.6,432.9 L66.3,431.1 L66.9,432.2 L67.7,430.1 L68.5,428.4 L69.1,429.3 L69.7,430.9 L70.4,430.3 L71.0,429.8 L71.7,428.8 L72.3,426.5 L72.9,426.9 L73.6,429.2 L74.2,431.3 L74.9,430.6 L75.5,427.6 L76.2,427.4 L76.8,427.8 L77.4,429.3 L78.1,431.3 L78.8,431.0 L79.6,428.4 L80.4,427.3 L81.2,426.5 L82.0,428.9 L82.9,432.2 L83.5,431.1 L84.2,430.6 L84.8,431.3 L85.4,433.6 L86.1,434.5 L86.7,437.0 L87.4,437.5 L88.0,437.4 L88.7,438.0 L89.3,440.0 L89.9,441.3 L90.6,441.8 L91.2,446.1 L91.9,449.5 L92.7,453.0 L93.5,457.2 L94.1,460.3 L94.7,461.6 L95.4,463.0 L96.0,466.6 L96.7,467.9 L97.3,470.7 L97.9,472.1 L98.6,475.5 L99.2,476.5 L99.9,479.6 L100.5,480.7 L101.2,484.2 L101.8,485.5 L102.4,488.1 L103.1,489.0 L103.7,491.7 L104.4,491.4 L105.0,493.8 L105.6,496.2 L106.3,495.5 L106.9,497.6 L107.7,497.6 L108.5,499.0 L109.2,499.5 L109.9,499.9 L110.5,501.2 L111.1,501.7 L111.7,502.4 L112.4,503.1 L113.0,504.6 L113.7,505.3 L114.3,506.0 L114.9,506.5 L115.6,507.0 Z" fill="#ce7768" fill-opacity="0.86" stroke="none"/>
<path d="M43.8,507.0 L44.6,503.4 L45.4,499.5 L46.2,493.3 L46.9,486.1 L47.7,478.4 L48.5,472.6 L49.2,464.7 L50.0,459.2 L50.6,457.0 L51.2,456.3 L51.9,457.7 L52.7,458.2 L53.5,457.0 L54.2,453.4 L55.0,451.7 L55.8,450.5 L56.5,448.5 L57.3,445.7 L58.1,442.6 L58.8,440.9 L59.6,436.2 L60.4,433.2 L61.2,433.8 L61.9,432.2 L62.7,434.6 L63.5,437.0 L64.2,433.4 L65.0,431.3 L65.6,432.9 L66.3,431.1 L66.9,432.2 L67.7,430.1 L68.5,428.4 L69.1,429.3 L69.7,430.9 L70.4,430.3 L71.0,429.8 L71.7,428.8 L72.3,426.5 L72.9,426.9 L73.6,429.2 L74.2,431.3 L74.9,430.6 L75.5,427.6 L76.2,427.4 L76.8,427.8 L77.4,429.3 L78.1,431.3 L78.8,431.0 L79.6,428.4 L80.4,427.3 L81.2,426.5 L82.0,428.9 L82.9,432.2 L83.5,431.1 L84.2,430.6 L84.8,431.3 L85.4,433.6 L86.1,434.5 L86.7,437.0 L87.4,437.5 L88.0,437.4 L88.7,438.0 L89.3,440.0 L89.9,441.3 L90.6,441.8 L91.2,446.1 L91.9,449.5 L92.7,453.0 L93.5,457.2 L94.1,460.3 L94.7,461.6 L95.4,463.0 L96.0,466.6 L96.7,467.9 L97.3,470.7 L97.9,472.1 L98.6,475.5 L99.2,476.5 L99.9,479.6 L100.5,480.7 L101.2,484.2 L101.8,485.5 L102.4,488.1 L103.1,489.0 L103.7,491.7 L104.4,491.4 L105.0,493.8 L105.6,496.2 L106.3,495.5 L106.9,497.6 L107.7,497.6 L108.5,499.0 L109.2,499.5 L109.9,499.9 L110.5,501.2 L111.1,501.7 L111.7,502.4 L112.4,503.1 L113.0,504.6 L113.7,505.3 L114.3,506.0 L114.9,506.5 L115.6,507.0" fill="none" stroke="#ae062f" stroke-width="1.3" stroke-linejoin="round"/>
<path d="M42.5,507.0 L43.5,505.3 L44.4,503.4 L45.2,496.8 L46.0,489.9 L46.6,475.0 L47.3,461.1 L48.5,436.1 L49.6,423.6 L50.8,432.2 L51.9,443.8 L53.1,457.2 L53.8,466.1 L54.6,474.5 L55.6,478.8 L56.5,484.2 L57.3,486.4 L58.1,489.1 L58.8,491.8 L59.6,493.6 L60.4,495.2 L61.2,497.6 L62.0,499.4 L62.8,500.7 L63.7,502.4 L64.4,503.2 L65.1,504.0 L65.8,504.6 L66.5,505.3 L67.3,505.7 L68.0,506.1 L68.7,506.5 L69.4,506.8 L70.1,506.9 L70.9,507.0 L71.6,507.0 L72.3,507.0" fill="none" stroke="#6fb044" stroke-width="1.1" stroke-linejoin="round" opacity="0.62"/>
<path d="M43.8,507.0 L44.6,504.3 L45.4,501.5 L46.2,496.6 L46.9,489.9 L47.7,483.5 L48.5,478.4 L49.2,472.5 L50.0,468.8 L50.8,466.9 L51.5,466.8 L52.3,467.6 L53.1,469.7 L53.8,471.0 L54.6,470.7 L55.4,466.7 L56.2,463.0 L56.9,459.9 L57.7,455.3 L58.5,451.2 L59.2,449.5 L60.0,448.0 L60.8,447.6 L61.5,447.4 L62.3,449.5 L63.1,450.7 L63.8,453.4 L64.6,449.7 L65.4,447.6 L66.2,447.7 L66.9,445.7 L67.7,442.7 L68.5,441.8 L69.1,440.0 L69.7,438.2 L70.4,438.0 L71.0,436.4 L71.7,436.4 L72.3,434.2 L73.1,435.8 L73.8,436.1 L74.6,433.2 L75.4,431.3 L76.2,431.5 L76.9,432.2 L77.7,429.2 L78.5,426.5 L79.1,426.7 L79.7,425.4 L80.4,424.5 L81.0,424.1 L81.7,424.9 L82.3,425.5 L83.1,427.2 L83.8,428.4 L84.5,427.5 L85.1,429.0 L85.8,427.4 L86.5,431.1 L87.3,432.2 L87.9,432.0 L88.6,430.8 L89.2,431.3 L90.0,434.4 L90.8,437.0 L91.5,435.4 L92.3,436.1 L93.1,440.7 L93.8,443.8 L94.6,445.0 L95.4,448.6 L96.2,447.2 L96.9,447.6 L97.7,453.0 L98.5,457.2 L99.1,460.8 L99.7,463.3 L100.4,464.9 L101.0,466.7 L101.7,468.0 L102.3,470.7 L102.9,473.9 L103.6,475.2 L104.2,478.4 L104.9,481.5 L105.5,482.1 L106.2,484.2 L106.8,485.3 L107.4,488.6 L108.1,489.0 L108.7,490.2 L109.4,490.5 L110.0,492.8 L110.8,492.8 L111.5,493.7 L112.3,493.4 L112.9,492.3 L113.6,494.7 L114.2,493.8 L115.0,497.4 L115.8,499.5 L116.6,503.6 L117.5,507.0" fill="none" stroke="#2a4782" stroke-width="1.3" stroke-linejoin="round"/>
<rect x="35.40" y="418.20" width="89.80" height="89.40" fill="none" stroke="#000" stroke-width="1.5" />
<line x1="32.40" y1="507.00" x2="35.40" y2="507.00" stroke="#000" stroke-width="1.3" />
<line x1="33.60" y1="502.70" x2="35.40" y2="502.70" stroke="#000" stroke-width="0.8" />
<line x1="32.40" y1="498.40" x2="35.40" y2="498.40" stroke="#000" stroke-width="1.3" />
<line x1="33.60" y1="494.10" x2="35.40" y2="494.10" stroke="#000" stroke-width="0.8" />
<line x1="32.40" y1="489.80" x2="35.40" y2="489.80" stroke="#000" stroke-width="1.3" />
<line x1="33.60" y1="485.50" x2="35.40" y2="485.50" stroke="#000" stroke-width="0.8" />
<line x1="32.40" y1="481.20" x2="35.40" y2="481.20" stroke="#000" stroke-width="1.3" />
<line x1="33.60" y1="476.90" x2="35.40" y2="476.90" stroke="#000" stroke-width="0.8" />
<line x1="32.40" y1="472.60" x2="35.40" y2="472.60" stroke="#000" stroke-width="1.3" />
<line x1="33.60" y1="468.30" x2="35.40" y2="468.30" stroke="#000" stroke-width="0.8" />
<line x1="32.40" y1="464.00" x2="35.40" y2="464.00" stroke="#000" stroke-width="1.3" />
<line x1="33.60" y1="459.70" x2="35.40" y2="459.70" stroke="#000" stroke-width="0.8" />
<line x1="32.40" y1="455.40" x2="35.40" y2="455.40" stroke="#000" stroke-width="1.3" />
<line x1="33.60" y1="451.10" x2="35.40" y2="451.10" stroke="#000" stroke-width="0.8" />
<line x1="32.40" y1="446.80" x2="35.40" y2="446.80" stroke="#000" stroke-width="1.3" />
<line x1="33.60" y1="442.50" x2="35.40" y2="442.50" stroke="#000" stroke-width="0.8" />
<line x1="32.40" y1="438.20" x2="35.40" y2="438.20" stroke="#000" stroke-width="1.3" />
<line x1="33.60" y1="433.90" x2="35.40" y2="433.90" stroke="#000" stroke-width="0.8" />
<line x1="32.40" y1="429.60" x2="35.40" y2="429.60" stroke="#000" stroke-width="1.3" />
<line x1="33.60" y1="425.30" x2="35.40" y2="425.30" stroke="#000" stroke-width="0.8" />
<line x1="32.40" y1="421.00" x2="35.40" y2="421.00" stroke="#000" stroke-width="1.3" />
<line x1="37.90" y1="507.60" x2="37.90" y2="510.60" stroke="#000" stroke-width="1.3" />
<line x1="43.11" y1="507.60" x2="43.11" y2="509.60" stroke="#000" stroke-width="0.9" />
<line x1="46.15" y1="507.60" x2="46.15" y2="509.60" stroke="#000" stroke-width="0.9" />
<line x1="48.32" y1="507.60" x2="48.32" y2="509.60" stroke="#000" stroke-width="0.9" />
<line x1="49.99" y1="507.60" x2="49.99" y2="509.60" stroke="#000" stroke-width="0.9" />
<line x1="51.36" y1="507.60" x2="51.36" y2="509.60" stroke="#000" stroke-width="0.9" />
<line x1="53.52" y1="507.60" x2="53.52" y2="509.60" stroke="#000" stroke-width="0.9" />
<line x1="55.20" y1="507.60" x2="55.20" y2="510.60" stroke="#000" stroke-width="1.3" />
<line x1="60.41" y1="507.60" x2="60.41" y2="509.60" stroke="#000" stroke-width="0.9" />
<line x1="63.45" y1="507.60" x2="63.45" y2="509.60" stroke="#000" stroke-width="0.9" />
<line x1="65.62" y1="507.60" x2="65.62" y2="509.60" stroke="#000" stroke-width="0.9" />
<line x1="67.29" y1="507.60" x2="67.29" y2="509.60" stroke="#000" stroke-width="0.9" />
<line x1="68.66" y1="507.60" x2="68.66" y2="509.60" stroke="#000" stroke-width="0.9" />
<line x1="70.82" y1="507.60" x2="70.82" y2="509.60" stroke="#000" stroke-width="0.9" />
<line x1="72.50" y1="507.60" x2="72.50" y2="510.60" stroke="#000" stroke-width="1.3" />
<line x1="77.71" y1="507.60" x2="77.71" y2="509.60" stroke="#000" stroke-width="0.9" />
<line x1="80.75" y1="507.60" x2="80.75" y2="509.60" stroke="#000" stroke-width="0.9" />
<line x1="82.92" y1="507.60" x2="82.92" y2="509.60" stroke="#000" stroke-width="0.9" />
<line x1="84.59" y1="507.60" x2="84.59" y2="509.60" stroke="#000" stroke-width="0.9" />
<line x1="85.96" y1="507.60" x2="85.96" y2="509.60" stroke="#000" stroke-width="0.9" />
<line x1="88.12" y1="507.60" x2="88.12" y2="509.60" stroke="#000" stroke-width="0.9" />
<line x1="89.80" y1="507.60" x2="89.80" y2="510.60" stroke="#000" stroke-width="1.3" />
<line x1="95.01" y1="507.60" x2="95.01" y2="509.60" stroke="#000" stroke-width="0.9" />
<line x1="98.05" y1="507.60" x2="98.05" y2="509.60" stroke="#000" stroke-width="0.9" />
<line x1="100.22" y1="507.60" x2="100.22" y2="509.60" stroke="#000" stroke-width="0.9" />
<line x1="101.89" y1="507.60" x2="101.89" y2="509.60" stroke="#000" stroke-width="0.9" />
<line x1="103.26" y1="507.60" x2="103.26" y2="509.60" stroke="#000" stroke-width="0.9" />
<line x1="105.42" y1="507.60" x2="105.42" y2="509.60" stroke="#000" stroke-width="0.9" />
<line x1="107.10" y1="507.60" x2="107.10" y2="510.60" stroke="#000" stroke-width="1.3" />
<line x1="112.31" y1="507.60" x2="112.31" y2="509.60" stroke="#000" stroke-width="0.9" />
<line x1="115.35" y1="507.60" x2="115.35" y2="509.60" stroke="#000" stroke-width="0.9" />
<line x1="117.52" y1="507.60" x2="117.52" y2="509.60" stroke="#000" stroke-width="0.9" />
<line x1="119.19" y1="507.60" x2="119.19" y2="509.60" stroke="#000" stroke-width="0.9" />
<line x1="120.56" y1="507.60" x2="120.56" y2="509.60" stroke="#000" stroke-width="0.9" />
<line x1="122.72" y1="507.60" x2="122.72" y2="509.60" stroke="#000" stroke-width="0.9" />
<rect x="282.00" y="418.20" width="89.60" height="89.40" fill="#fff" stroke="none" stroke-width="1" />
<path d="M288.2,507.0 L289.1,505.3 L290.1,503.4 L291.0,495.0 L292.0,486.1 L292.8,471.7 L293.5,457.2 L294.7,432.2 L295.7,423.6 L296.8,424.5 L297.8,432.2 L298.9,447.6 L300.1,463.0 L300.8,470.5 L301.6,478.4 L302.6,484.0 L303.5,489.9 L304.3,492.3 L305.1,495.1 L305.8,497.6 L306.6,498.8 L307.3,500.0 L308.0,501.0 L308.7,502.4 L309.5,502.9 L310.2,503.6 L310.9,504.3 L311.6,504.9 L312.4,505.2 L313.2,505.6 L313.9,505.9 L314.7,506.2 L315.5,506.5 L316.3,506.6 L317.1,506.7 L317.9,506.8 L318.7,507.0 L319.5,507.0 L320.3,507.0" fill="none" stroke="#6fb044" stroke-width="1.3" stroke-linejoin="round"/>
<path d="M288.5,507.0 L289.2,505.4 L289.8,503.5 L290.5,501.5 L291.1,493.3 L291.7,488.2 L292.4,480.3 L293.2,465.6 L293.9,451.5 L294.6,443.5 L295.3,434.2 L296.2,432.2 L296.8,438.8 L297.4,443.8 L298.0,453.6 L298.5,463.0 L299.1,470.5 L299.7,478.4 L300.5,484.3 L301.2,491.8 L302.1,496.4 L303.0,498.6 L303.6,498.9 L304.2,499.9 L304.8,501.1 L305.5,501.8 L306.1,502.1 L306.8,502.7 L307.4,503.0 L308.1,503.7 L308.7,504.3 L309.5,504.9 L310.3,505.1 L311.0,505.1 L311.8,505.4 L312.6,505.7 L313.2,505.7 L313.9,505.9 L314.6,505.9 L315.3,506.0 L315.9,506.1 L316.6,506.2 L317.3,506.2 L318.0,506.3 L318.6,506.4 L319.3,506.5 L320.0,506.5 L320.7,506.5 L321.4,506.6 L322.1,506.6 L322.8,506.6 L323.5,506.7 L324.2,506.7 L324.9,506.8 L325.6,506.8 L326.3,506.8 L327.0,506.8 L327.7,506.9 L328.4,506.9 L329.2,506.9 L329.9,506.9 L330.6,506.9 L331.3,506.9 L332.0,506.9 L332.8,506.9 L333.5,507.0 L334.2,507.0 L334.9,507.0 L335.7,507.0 L336.4,507.0 L337.1,507.0 L337.8,507.0 L338.5,507.0 L339.2,507.0 L339.9,507.0 L340.6,507.0 L341.3,507.0 L342.0,507.0 L342.7,507.0 L343.4,507.0 L344.1,507.0 L344.8,507.0 L345.5,507.0 L346.2,507.0 Z" fill="#ce7768" fill-opacity="0.86" stroke="none"/>
<path d="M288.5,507.0 L289.2,505.4 L289.8,503.5 L290.5,501.5 L291.1,493.3 L291.7,488.2 L292.4,480.3 L293.2,465.6 L293.9,451.5 L294.6,443.5 L295.3,434.2 L296.2,432.2 L296.8,438.8 L297.4,443.8 L298.0,453.6 L298.5,463.0 L299.1,470.5 L299.7,478.4 L300.5,484.3 L301.2,491.8 L302.1,496.4 L303.0,498.6 L303.6,498.9 L304.2,499.9 L304.8,501.1 L305.5,501.8 L306.1,502.1 L306.8,502.7 L307.4,503.0 L308.1,503.7 L308.7,504.3 L309.5,504.9 L310.3,505.1 L311.0,505.1 L311.8,505.4 L312.6,505.7 L313.2,505.7 L313.9,505.9 L314.6,505.9 L315.3,506.0 L315.9,506.1 L316.6,506.2 L317.3,506.2 L318.0,506.3 L318.6,506.4 L319.3,506.5 L320.0,506.5 L320.7,506.5 L321.4,506.6 L322.1,506.6 L322.8,506.6 L323.5,506.7 L324.2,506.7 L324.9,506.8 L325.6,506.8 L326.3,506.8 L327.0,506.8 L327.7,506.9 L328.4,506.9 L329.2,506.9 L329.9,506.9 L330.6,506.9 L331.3,506.9 L332.0,506.9 L332.8,506.9 L333.5,507.0 L334.2,507.0 L334.9,507.0 L335.7,507.0 L336.4,507.0 L337.1,507.0 L337.8,507.0 L338.5,507.0 L339.2,507.0 L339.9,507.0 L340.6,507.0 L341.3,507.0 L342.0,507.0 L342.7,507.0 L343.4,507.0 L344.1,507.0 L344.8,507.0 L345.5,507.0 L346.2,507.0" fill="none" stroke="#ae062f" stroke-width="1.3" stroke-linejoin="round"/>
<path d="M288.2,507.0 L289.1,505.3 L290.1,503.4 L291.0,495.0 L292.0,486.1 L292.8,471.7 L293.5,457.2 L294.7,432.2 L295.7,423.6 L296.8,424.5 L297.8,432.2 L298.9,447.6 L300.1,463.0 L300.8,470.5 L301.6,478.4 L302.6,484.0 L303.5,489.9 L304.3,492.3 L305.1,495.1 L305.8,497.6 L306.6,498.8 L307.3,500.0 L308.0,501.0 L308.7,502.4 L309.5,502.9 L310.2,503.6 L310.9,504.3 L311.6,504.9 L312.4,505.2 L313.2,505.6 L313.9,505.9 L314.7,506.2 L315.5,506.5 L316.3,506.6 L317.1,506.7 L317.9,506.8 L318.7,507.0 L319.5,507.0 L320.3,507.0" fill="none" stroke="#6fb044" stroke-width="1.1" stroke-linejoin="round" opacity="0.62"/>
<path d="M288.9,507.0 L289.6,505.2 L290.2,503.1 L290.8,501.5 L291.5,493.1 L292.1,485.3 L292.8,478.4 L293.5,463.2 L294.3,447.6 L294.9,438.3 L295.5,428.4 L296.0,427.2 L296.6,423.6 L297.6,423.6 L298.5,438.0 L299.1,444.8 L299.7,451.5 L300.3,455.7 L300.8,461.1 L301.4,465.5 L302.0,468.8 L302.8,469.9 L303.5,472.6 L304.3,475.4 L305.1,478.4 L305.9,477.9 L306.8,479.3 L307.5,481.7 L308.2,484.2 L308.8,485.8 L309.4,487.3 L310.1,487.0 L310.7,487.4 L311.4,488.5 L312.0,489.9 L312.6,491.8 L313.3,491.1 L313.9,491.8 L314.5,491.5 L315.2,493.6 L315.8,492.4 L316.4,493.8 L317.0,493.0 L317.7,495.2 L318.3,495.2 L318.9,495.7 L319.7,495.6 L320.5,495.2 L321.2,496.1 L322.0,497.8 L322.8,497.2 L323.5,498.0 L324.2,498.5 L324.8,498.3 L325.4,497.8 L326.0,497.6 L326.7,498.3 L327.3,497.6 L327.9,496.9 L328.5,498.0 L329.2,497.2 L329.9,498.2 L330.6,497.1 L331.2,496.7 L331.9,497.4 L332.5,498.1 L333.1,496.8 L333.7,497.6 L334.5,496.9 L335.2,498.3 L335.9,498.5 L336.6,498.6 L337.3,500.0 L338.1,500.3 L338.8,500.6 L339.5,501.8 L340.2,502.6 L340.9,502.5 L341.7,502.7 L342.4,503.4 L343.1,503.5 L343.8,503.7 L344.5,504.3 L345.3,504.3 L346.0,504.6 L346.7,504.6 L347.4,504.8 L348.2,504.9 L348.9,504.4 L349.6,504.1 L350.3,503.5 L351.0,503.4 L351.7,503.6 L352.3,502.9 L353.0,503.0 L353.6,503.8 L354.2,504.8 L354.9,505.3 L355.5,505.9 L356.2,506.6 L356.8,507.0" fill="none" stroke="#2a4782" stroke-width="1.3" stroke-linejoin="round"/>
<rect x="282.00" y="418.20" width="89.60" height="89.40" fill="none" stroke="#000" stroke-width="1.5" />
<line x1="279.00" y1="507.00" x2="282.00" y2="507.00" stroke="#000" stroke-width="1.3" />
<line x1="280.20" y1="502.70" x2="282.00" y2="502.70" stroke="#000" stroke-width="0.8" />
<line x1="279.00" y1="498.40" x2="282.00" y2="498.40" stroke="#000" stroke-width="1.3" />
<line x1="280.20" y1="494.10" x2="282.00" y2="494.10" stroke="#000" stroke-width="0.8" />
<line x1="279.00" y1="489.80" x2="282.00" y2="489.80" stroke="#000" stroke-width="1.3" />
<line x1="280.20" y1="485.50" x2="282.00" y2="485.50" stroke="#000" stroke-width="0.8" />
<line x1="279.00" y1="481.20" x2="282.00" y2="481.20" stroke="#000" stroke-width="1.3" />
<line x1="280.20" y1="476.90" x2="282.00" y2="476.90" stroke="#000" stroke-width="0.8" />
<line x1="279.00" y1="472.60" x2="282.00" y2="472.60" stroke="#000" stroke-width="1.3" />
<line x1="280.20" y1="468.30" x2="282.00" y2="468.30" stroke="#000" stroke-width="0.8" />
<line x1="279.00" y1="464.00" x2="282.00" y2="464.00" stroke="#000" stroke-width="1.3" />
<line x1="280.20" y1="459.70" x2="282.00" y2="459.70" stroke="#000" stroke-width="0.8" />
<line x1="279.00" y1="455.40" x2="282.00" y2="455.40" stroke="#000" stroke-width="1.3" />
<line x1="280.20" y1="451.10" x2="282.00" y2="451.10" stroke="#000" stroke-width="0.8" />
<line x1="279.00" y1="446.80" x2="282.00" y2="446.80" stroke="#000" stroke-width="1.3" />
<line x1="280.20" y1="442.50" x2="282.00" y2="442.50" stroke="#000" stroke-width="0.8" />
<line x1="279.00" y1="438.20" x2="282.00" y2="438.20" stroke="#000" stroke-width="1.3" />
<line x1="280.20" y1="433.90" x2="282.00" y2="433.90" stroke="#000" stroke-width="0.8" />
<line x1="279.00" y1="429.60" x2="282.00" y2="429.60" stroke="#000" stroke-width="1.3" />
<line x1="280.20" y1="425.30" x2="282.00" y2="425.30" stroke="#000" stroke-width="0.8" />
<line x1="279.00" y1="421.00" x2="282.00" y2="421.00" stroke="#000" stroke-width="1.3" />
<line x1="284.50" y1="507.60" x2="284.50" y2="510.60" stroke="#000" stroke-width="1.3" />
<line x1="289.71" y1="507.60" x2="289.71" y2="509.60" stroke="#000" stroke-width="0.9" />
<line x1="292.75" y1="507.60" x2="292.75" y2="509.60" stroke="#000" stroke-width="0.9" />
<line x1="294.92" y1="507.60" x2="294.92" y2="509.60" stroke="#000" stroke-width="0.9" />
<line x1="296.59" y1="507.60" x2="296.59" y2="509.60" stroke="#000" stroke-width="0.9" />
<line x1="297.96" y1="507.60" x2="297.96" y2="509.60" stroke="#000" stroke-width="0.9" />
<line x1="300.12" y1="507.60" x2="300.12" y2="509.60" stroke="#000" stroke-width="0.9" />
<line x1="301.80" y1="507.60" x2="301.80" y2="510.60" stroke="#000" stroke-width="1.3" />
<line x1="307.01" y1="507.60" x2="307.01" y2="509.60" stroke="#000" stroke-width="0.9" />
<line x1="310.05" y1="507.60" x2="310.05" y2="509.60" stroke="#000" stroke-width="0.9" />
<line x1="312.22" y1="507.60" x2="312.22" y2="509.60" stroke="#000" stroke-width="0.9" />
<line x1="313.89" y1="507.60" x2="313.89" y2="509.60" stroke="#000" stroke-width="0.9" />
<line x1="315.26" y1="507.60" x2="315.26" y2="509.60" stroke="#000" stroke-width="0.9" />
<line x1="317.42" y1="507.60" x2="317.42" y2="509.60" stroke="#000" stroke-width="0.9" />
<line x1="319.10" y1="507.60" x2="319.10" y2="510.60" stroke="#000" stroke-width="1.3" />
<line x1="324.31" y1="507.60" x2="324.31" y2="509.60" stroke="#000" stroke-width="0.9" />
<line x1="327.35" y1="507.60" x2="327.35" y2="509.60" stroke="#000" stroke-width="0.9" />
<line x1="329.52" y1="507.60" x2="329.52" y2="509.60" stroke="#000" stroke-width="0.9" />
<line x1="331.19" y1="507.60" x2="331.19" y2="509.60" stroke="#000" stroke-width="0.9" />
<line x1="332.56" y1="507.60" x2="332.56" y2="509.60" stroke="#000" stroke-width="0.9" />
<line x1="334.72" y1="507.60" x2="334.72" y2="509.60" stroke="#000" stroke-width="0.9" />
<line x1="336.40" y1="507.60" x2="336.40" y2="510.60" stroke="#000" stroke-width="1.3" />
<line x1="341.61" y1="507.60" x2="341.61" y2="509.60" stroke="#000" stroke-width="0.9" />
<line x1="344.65" y1="507.60" x2="344.65" y2="509.60" stroke="#000" stroke-width="0.9" />
<line x1="346.82" y1="507.60" x2="346.82" y2="509.60" stroke="#000" stroke-width="0.9" />
<line x1="348.49" y1="507.60" x2="348.49" y2="509.60" stroke="#000" stroke-width="0.9" />
<line x1="349.86" y1="507.60" x2="349.86" y2="509.60" stroke="#000" stroke-width="0.9" />
<line x1="352.02" y1="507.60" x2="352.02" y2="509.60" stroke="#000" stroke-width="0.9" />
<line x1="353.70" y1="507.60" x2="353.70" y2="510.60" stroke="#000" stroke-width="1.3" />
<line x1="358.91" y1="507.60" x2="358.91" y2="509.60" stroke="#000" stroke-width="0.9" />
<line x1="361.95" y1="507.60" x2="361.95" y2="509.60" stroke="#000" stroke-width="0.9" />
<line x1="364.12" y1="507.60" x2="364.12" y2="509.60" stroke="#000" stroke-width="0.9" />
<line x1="365.79" y1="507.60" x2="365.79" y2="509.60" stroke="#000" stroke-width="0.9" />
<line x1="367.16" y1="507.60" x2="367.16" y2="509.60" stroke="#000" stroke-width="0.9" />
<line x1="369.32" y1="507.60" x2="369.32" y2="509.60" stroke="#000" stroke-width="0.9" />
<text transform="translate(18.80,232.70)" font-size="8.5" text-anchor="middle" fill="#2b2b2b" stroke="#2b2b2b" stroke-width="0.15" >HSCs</text>
<text transform="translate(18.60,349.60)" font-size="8.5" text-anchor="middle" fill="#2b2b2b" stroke="#2b2b2b" stroke-width="0.15" >MPPs</text>
<text transform="translate(18.60,466.30)" font-size="8.5" text-anchor="middle" fill="#2b2b2b" stroke="#2b2b2b" stroke-width="0.15" >LSKs</text>
<text transform="translate(35.00,522.70)" font-size="8.4" text-anchor="start" fill="#444" stroke="#444" stroke-width="0.1" >GFP</text>
<path d="M56.3,523.4 L123.2,515.2 L123.2,523.4 Z" fill="#68a83e"/>
<text transform="translate(282.60,522.70)" font-size="8.4" text-anchor="start" fill="#444" stroke="#444" stroke-width="0.1" >GFP</text>
<path d="M303.5,523.4 L369.8,515.2 L369.8,523.4 Z" fill="#68a83e"/>
<line x1="160.70" y1="183.50" x2="160.70" y2="274.50" stroke="#000" stroke-width="1.5" />
<line x1="160.00" y1="273.80" x2="265.00" y2="273.80" stroke="#000" stroke-width="1.5" />
<line x1="157.50" y1="273.80" x2="160.70" y2="273.80" stroke="#000" stroke-width="1.2" />
<text transform="translate(153.90,276.80)" font-size="8.4" text-anchor="end" fill="#2b2b2b" stroke="#2b2b2b" stroke-width="0.15" >0</text>
<line x1="157.50" y1="229.90" x2="160.70" y2="229.90" stroke="#000" stroke-width="1.2" />
<text transform="translate(153.90,232.90)" font-size="8.4" text-anchor="end" fill="#2b2b2b" stroke="#2b2b2b" stroke-width="0.15" >1</text>
<line x1="157.50" y1="186.00" x2="160.70" y2="186.00" stroke="#000" stroke-width="1.2" />
<text transform="translate(153.90,189.00)" font-size="8.4" text-anchor="end" fill="#2b2b2b" stroke="#2b2b2b" stroke-width="0.15" >2</text>
<rect x="169.20" y="229.90" width="35.00" height="43.90" fill="#ae062f" stroke="none" stroke-width="1" />
<line x1="186.70" y1="273.80" x2="186.70" y2="276.80" stroke="#000" stroke-width="1.2" />
<rect x="221.80" y="211.68" width="35.00" height="62.12" fill="#2a4782" stroke="none" stroke-width="1" />
<line x1="239.30" y1="212.18" x2="239.30" y2="205.97" stroke="#000" stroke-width="1.2" />
<line x1="230.30" y1="205.97" x2="248.30" y2="205.97" stroke="#000" stroke-width="1.2" />
<line x1="239.30" y1="273.80" x2="239.30" y2="276.80" stroke="#000" stroke-width="1.2" />
<text transform="translate(186.40,288.10)" font-size="8.2" text-anchor="middle" fill="#2b2b2b" stroke="#2b2b2b" stroke-width="0.15" >WT</text>
<text transform="translate(239.90,288.10)" font-size="8.3" text-anchor="middle" fill="#2b2b2b" stroke="#2b2b2b" stroke-width="0.15" >Tet2<tspan font-size="6.4" dy="-3">+/-</tspan></text>
<path d="M186.70,199.30 L186.70,196.70 L239.30,196.70 L239.30,199.30" fill="none" stroke="#111" stroke-width="1.2"/>
<text transform="translate(213.00,196.50)" font-size="8" text-anchor="middle" fill="#111" font-weight="bold" stroke="#111" stroke-width="0.1" >**</text>
<text transform="translate(143.90,228.10) rotate(-90) scale(0.61,1)" font-size="11" text-anchor="middle" fill="#111" stroke="#111" stroke-width="0.22" vector-effect="non-scaling-stroke" >Relative GFP MFI</text>
<line x1="160.70" y1="300.00" x2="160.70" y2="391.00" stroke="#000" stroke-width="1.5" />
<line x1="160.00" y1="390.30" x2="265.00" y2="390.30" stroke="#000" stroke-width="1.5" />
<line x1="157.50" y1="390.30" x2="160.70" y2="390.30" stroke="#000" stroke-width="1.2" />
<text transform="translate(153.90,393.30)" font-size="8.4" text-anchor="end" fill="#2b2b2b" stroke="#2b2b2b" stroke-width="0.15" >0</text>
<line x1="157.50" y1="346.40" x2="160.70" y2="346.40" stroke="#000" stroke-width="1.2" />
<text transform="translate(153.90,349.40)" font-size="8.4" text-anchor="end" fill="#2b2b2b" stroke="#2b2b2b" stroke-width="0.15" >1</text>
<line x1="157.50" y1="302.50" x2="160.70" y2="302.50" stroke="#000" stroke-width="1.2" />
<text transform="translate(153.90,305.50)" font-size="8.4" text-anchor="end" fill="#2b2b2b" stroke="#2b2b2b" stroke-width="0.15" >2</text>
<rect x="169.20" y="346.40" width="35.00" height="43.90" fill="#ae062f" stroke="none" stroke-width="1" />
<line x1="186.70" y1="390.30" x2="186.70" y2="393.30" stroke="#000" stroke-width="1.2" />
<rect x="221.80" y="324.45" width="35.00" height="65.85" fill="#2a4782" stroke="none" stroke-width="1" />
<line x1="239.30" y1="324.95" x2="239.30" y2="319.18" stroke="#000" stroke-width="1.2" />
<line x1="230.30" y1="319.18" x2="248.30" y2="319.18" stroke="#000" stroke-width="1.2" />
<line x1="239.30" y1="390.30" x2="239.30" y2="393.30" stroke="#000" stroke-width="1.2" />
<text transform="translate(186.40,404.60)" font-size="8.2" text-anchor="middle" fill="#2b2b2b" stroke="#2b2b2b" stroke-width="0.15" >WT</text>
<text transform="translate(239.90,404.60)" font-size="8.3" text-anchor="middle" fill="#2b2b2b" stroke="#2b2b2b" stroke-width="0.15" >Tet2<tspan font-size="6.4" dy="-3">+/-</tspan></text>
<path d="M186.70,312.80 L186.70,310.20 L239.30,310.20 L239.30,312.80" fill="none" stroke="#111" stroke-width="1.2"/>
<text transform="translate(213.00,310.00)" font-size="8" text-anchor="middle" fill="#111" font-weight="bold" stroke="#111" stroke-width="0.1" >**</text>
<text transform="translate(143.90,344.60) rotate(-90) scale(0.61,1)" font-size="11" text-anchor="middle" fill="#111" stroke="#111" stroke-width="0.22" vector-effect="non-scaling-stroke" >Relative GFP MFI</text>
<line x1="160.70" y1="417.40" x2="160.70" y2="508.30" stroke="#000" stroke-width="1.5" />
<line x1="160.00" y1="507.60" x2="265.00" y2="507.60" stroke="#000" stroke-width="1.5" />
<line x1="157.50" y1="507.60" x2="160.70" y2="507.60" stroke="#000" stroke-width="1.2" />
<text transform="translate(153.90,510.60)" font-size="8.4" text-anchor="end" fill="#2b2b2b" stroke="#2b2b2b" stroke-width="0.15" >0</text>
<line x1="157.50" y1="463.70" x2="160.70" y2="463.70" stroke="#000" stroke-width="1.2" />
<text transform="translate(153.90,466.70)" font-size="8.4" text-anchor="end" fill="#2b2b2b" stroke="#2b2b2b" stroke-width="0.15" >1</text>
<line x1="157.50" y1="419.80" x2="160.70" y2="419.80" stroke="#000" stroke-width="1.2" />
<text transform="translate(153.90,422.80)" font-size="8.4" text-anchor="end" fill="#2b2b2b" stroke="#2b2b2b" stroke-width="0.15" >2</text>
<rect x="169.20" y="463.70" width="35.00" height="43.90" fill="#ae062f" stroke="none" stroke-width="1" />
<line x1="186.70" y1="507.60" x2="186.70" y2="510.60" stroke="#000" stroke-width="1.2" />
<rect x="221.80" y="431.21" width="35.00" height="76.39" fill="#2a4782" stroke="none" stroke-width="1" />
<line x1="239.30" y1="431.71" x2="239.30" y2="425.95" stroke="#000" stroke-width="1.2" />
<line x1="230.30" y1="425.95" x2="248.30" y2="425.95" stroke="#000" stroke-width="1.2" />
<line x1="239.30" y1="507.60" x2="239.30" y2="510.60" stroke="#000" stroke-width="1.2" />
<text transform="translate(186.40,521.90)" font-size="8.2" text-anchor="middle" fill="#2b2b2b" stroke="#2b2b2b" stroke-width="0.15" >WT</text>
<text transform="translate(239.90,521.90)" font-size="8.3" text-anchor="middle" fill="#2b2b2b" stroke="#2b2b2b" stroke-width="0.15" >Tet2<tspan font-size="6.4" dy="-3">+/-</tspan></text>
<path d="M186.70,422.90 L186.70,420.30 L239.30,420.30 L239.30,422.90" fill="none" stroke="#111" stroke-width="1.2"/>
<text transform="translate(213.00,420.10)" font-size="8" text-anchor="middle" fill="#111" font-weight="bold" stroke="#111" stroke-width="0.1" >***</text>
<text transform="translate(143.90,461.90) rotate(-90) scale(0.61,1)" font-size="11" text-anchor="middle" fill="#111" stroke="#111" stroke-width="0.22" vector-effect="non-scaling-stroke" >Relative GFP MFI</text>
<line x1="407.20" y1="183.50" x2="407.20" y2="274.50" stroke="#000" stroke-width="1.5" />
<line x1="406.50" y1="273.80" x2="512.00" y2="273.80" stroke="#000" stroke-width="1.5" />
<line x1="404.00" y1="273.80" x2="407.20" y2="273.80" stroke="#000" stroke-width="1.2" />
<text transform="translate(400.40,276.80)" font-size="8.4" text-anchor="end" fill="#2b2b2b" stroke="#2b2b2b" stroke-width="0.15" >0</text>
<line x1="404.00" y1="244.60" x2="407.20" y2="244.60" stroke="#000" stroke-width="1.2" />
<text transform="translate(400.40,247.60)" font-size="8.4" text-anchor="end" fill="#2b2b2b" stroke="#2b2b2b" stroke-width="0.15" >1</text>
<line x1="404.00" y1="215.40" x2="407.20" y2="215.40" stroke="#000" stroke-width="1.2" />
<text transform="translate(400.40,218.40)" font-size="8.4" text-anchor="end" fill="#2b2b2b" stroke="#2b2b2b" stroke-width="0.15" >2</text>
<line x1="404.00" y1="186.20" x2="407.20" y2="186.20" stroke="#000" stroke-width="1.2" />
<text transform="translate(400.40,189.20)" font-size="8.4" text-anchor="end" fill="#2b2b2b" stroke="#2b2b2b" stroke-width="0.15" >3</text>
<rect x="416.30" y="240.80" width="35.00" height="33.00" fill="#ae062f" stroke="none" stroke-width="1" />
<line x1="433.80" y1="241.30" x2="433.80" y2="235.84" stroke="#000" stroke-width="1.2" />
<line x1="424.80" y1="235.84" x2="442.80" y2="235.84" stroke="#000" stroke-width="1.2" />
<line x1="433.80" y1="273.80" x2="433.80" y2="276.80" stroke="#000" stroke-width="1.2" />
<rect x="468.80" y="222.41" width="35.00" height="51.39" fill="#2a4782" stroke="none" stroke-width="1" />
<line x1="486.30" y1="222.91" x2="486.30" y2="221.82" stroke="#000" stroke-width="1.2" />
<line x1="477.30" y1="221.82" x2="495.30" y2="221.82" stroke="#000" stroke-width="1.2" />
<line x1="486.30" y1="273.80" x2="486.30" y2="276.80" stroke="#000" stroke-width="1.2" />
<text transform="translate(433.50,288.10)" font-size="8.2" text-anchor="middle" fill="#2b2b2b" stroke="#2b2b2b" stroke-width="0.15" >WT</text>
<text transform="translate(486.90,288.10)" font-size="8.3" text-anchor="middle" fill="#2b2b2b" stroke="#2b2b2b" stroke-width="0.15" >Tet2<tspan font-size="6.4" dy="-3">+/-</tspan></text>
<path d="M433.80,210.30 L433.80,207.70 L486.30,207.70 L486.30,210.30" fill="none" stroke="#111" stroke-width="1.2"/>
<text transform="translate(460.05,207.50)" font-size="8" text-anchor="middle" fill="#111" font-weight="bold" stroke="#111" stroke-width="0.1" >**</text>
<text transform="translate(390.90,228.10) rotate(-90) scale(0.61,1)" font-size="11" text-anchor="middle" fill="#111" stroke="#111" stroke-width="0.22" vector-effect="non-scaling-stroke" >Relative GFP MFI</text>
<line x1="407.20" y1="300.00" x2="407.20" y2="391.00" stroke="#000" stroke-width="1.5" />
<line x1="406.50" y1="390.30" x2="512.00" y2="390.30" stroke="#000" stroke-width="1.5" />
<line x1="404.00" y1="390.30" x2="407.20" y2="390.30" stroke="#000" stroke-width="1.2" />
<text transform="translate(400.40,393.30)" font-size="8.4" text-anchor="end" fill="#2b2b2b" stroke="#2b2b2b" stroke-width="0.15" >0</text>
<line x1="404.00" y1="361.10" x2="407.20" y2="361.10" stroke="#000" stroke-width="1.2" />
<text transform="translate(400.40,364.10)" font-size="8.4" text-anchor="end" fill="#2b2b2b" stroke="#2b2b2b" stroke-width="0.15" >1</text>
<line x1="404.00" y1="331.90" x2="407.20" y2="331.90" stroke="#000" stroke-width="1.2" />
<text transform="translate(400.40,334.90)" font-size="8.4" text-anchor="end" fill="#2b2b2b" stroke="#2b2b2b" stroke-width="0.15" >2</text>
<line x1="404.00" y1="302.70" x2="407.20" y2="302.70" stroke="#000" stroke-width="1.2" />
<text transform="translate(400.40,305.70)" font-size="8.4" text-anchor="end" fill="#2b2b2b" stroke="#2b2b2b" stroke-width="0.15" >3</text>
<rect x="416.30" y="347.38" width="35.00" height="42.92" fill="#ae062f" stroke="none" stroke-width="1" />
<line x1="433.80" y1="347.88" x2="433.80" y2="331.90" stroke="#000" stroke-width="1.2" />
<line x1="424.80" y1="331.90" x2="442.80" y2="331.90" stroke="#000" stroke-width="1.2" />
<line x1="433.80" y1="390.30" x2="433.80" y2="393.30" stroke="#000" stroke-width="1.2" />
<rect x="468.80" y="328.98" width="35.00" height="61.32" fill="#2a4782" stroke="none" stroke-width="1" />
<line x1="486.30" y1="329.48" x2="486.30" y2="320.22" stroke="#000" stroke-width="1.2" />
<line x1="477.30" y1="320.22" x2="495.30" y2="320.22" stroke="#000" stroke-width="1.2" />
<line x1="486.30" y1="390.30" x2="486.30" y2="393.30" stroke="#000" stroke-width="1.2" />
<text transform="translate(433.50,404.60)" font-size="8.2" text-anchor="middle" fill="#2b2b2b" stroke="#2b2b2b" stroke-width="0.15" >WT</text>
<text transform="translate(486.90,404.60)" font-size="8.3" text-anchor="middle" fill="#2b2b2b" stroke="#2b2b2b" stroke-width="0.15" >Tet2<tspan font-size="6.4" dy="-3">+/-</tspan></text>
<text transform="translate(390.90,344.60) rotate(-90) scale(0.61,1)" font-size="11" text-anchor="middle" fill="#111" stroke="#111" stroke-width="0.22" vector-effect="non-scaling-stroke" >Relative GFP MFI</text>
<line x1="407.20" y1="417.40" x2="407.20" y2="508.30" stroke="#000" stroke-width="1.5" />
<line x1="406.50" y1="507.60" x2="512.00" y2="507.60" stroke="#000" stroke-width="1.5" />
<line x1="404.00" y1="507.60" x2="407.20" y2="507.60" stroke="#000" stroke-width="1.2" />
<text transform="translate(400.40,510.60)" font-size="8.4" text-anchor="end" fill="#2b2b2b" stroke="#2b2b2b" stroke-width="0.15" >0</text>
<line x1="404.00" y1="490.10" x2="407.20" y2="490.10" stroke="#000" stroke-width="1.2" />
<text transform="translate(400.40,493.10)" font-size="8.4" text-anchor="end" fill="#2b2b2b" stroke="#2b2b2b" stroke-width="0.15" >2</text>
<line x1="404.00" y1="472.60" x2="407.20" y2="472.60" stroke="#000" stroke-width="1.2" />
<text transform="translate(400.40,475.60)" font-size="8.4" text-anchor="end" fill="#2b2b2b" stroke="#2b2b2b" stroke-width="0.15" >4</text>
<line x1="404.00" y1="455.10" x2="407.20" y2="455.10" stroke="#000" stroke-width="1.2" />
<text transform="translate(400.40,458.10)" font-size="8.4" text-anchor="end" fill="#2b2b2b" stroke="#2b2b2b" stroke-width="0.15" >6</text>
<line x1="404.00" y1="437.60" x2="407.20" y2="437.60" stroke="#000" stroke-width="1.2" />
<text transform="translate(400.40,440.60)" font-size="8.4" text-anchor="end" fill="#2b2b2b" stroke="#2b2b2b" stroke-width="0.15" >8</text>
<line x1="404.00" y1="420.10" x2="407.20" y2="420.10" stroke="#000" stroke-width="1.2" />
<text transform="translate(400.40,423.10)" font-size="8.4" text-anchor="end" fill="#2b2b2b" stroke="#2b2b2b" stroke-width="0.15" >10</text>
<rect x="416.30" y="498.41" width="35.00" height="9.19" fill="#ae062f" stroke="none" stroke-width="1" />
<line x1="433.80" y1="498.91" x2="433.80" y2="497.36" stroke="#000" stroke-width="1.2" />
<line x1="424.80" y1="497.36" x2="442.80" y2="497.36" stroke="#000" stroke-width="1.2" />
<line x1="433.80" y1="507.60" x2="433.80" y2="510.60" stroke="#000" stroke-width="1.2" />
<rect x="468.80" y="460.35" width="35.00" height="47.25" fill="#2a4782" stroke="none" stroke-width="1" />
<line x1="486.30" y1="460.85" x2="486.30" y2="448.98" stroke="#000" stroke-width="1.2" />
<line x1="477.30" y1="448.98" x2="495.30" y2="448.98" stroke="#000" stroke-width="1.2" />
<line x1="486.30" y1="507.60" x2="486.30" y2="510.60" stroke="#000" stroke-width="1.2" />
<text transform="translate(433.50,521.90)" font-size="8.2" text-anchor="middle" fill="#2b2b2b" stroke="#2b2b2b" stroke-width="0.15" >WT</text>
<text transform="translate(486.90,521.90)" font-size="8.3" text-anchor="middle" fill="#2b2b2b" stroke="#2b2b2b" stroke-width="0.15" >Tet2<tspan font-size="6.4" dy="-3">+/-</tspan></text>
<path d="M433.80,438.30 L433.80,435.70 L486.30,435.70 L486.30,438.30" fill="none" stroke="#111" stroke-width="1.2"/>
<text transform="translate(460.05,435.50)" font-size="8" text-anchor="middle" fill="#111" font-weight="bold" stroke="#111" stroke-width="0.1" >*</text>
<text transform="translate(390.90,461.90) rotate(-90) scale(0.61,1)" font-size="11" text-anchor="middle" fill="#111" stroke="#111" stroke-width="0.22" vector-effect="non-scaling-stroke" >Relative GFP MFI</text>
<rect x="0" y="0" width="520" height="1.2" fill="#000"/>
<rect x="0" y="0" width="1.2" height="531" fill="#000"/>
<rect x="518.3" y="0" width="1.7" height="531" fill="#000"/>
<rect x="0" y="529.6" width="520" height="1.4" fill="#000"/>
</svg>
</body></html>
